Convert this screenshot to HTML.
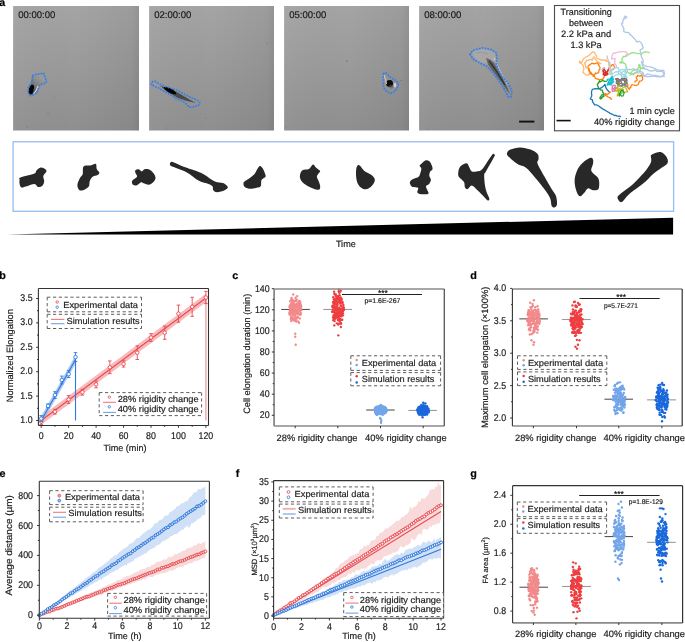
<!DOCTYPE html><html><head><meta charset="utf-8"><style>html,body{margin:0;padding:0;background:#fff;overflow:hidden}svg{display:block;will-change:transform}text{font-family:"Liberation Sans", sans-serif;stroke:currentColor;stroke-width:0.18px;text-rendering:geometricPrecision}</style></head><body>
<svg width="685" height="642" viewBox="0 0 685 642" font-family='"Liberation Sans", sans-serif'>
<rect width="685" height="642" fill="#fff"/>
<defs>
<linearGradient id="gv" x1="0" y1="0" x2="0" y2="1"><stop offset="0" stop-color="#a4a4a4"/><stop offset="0.5" stop-color="#9a9a9a"/><stop offset="1" stop-color="#8f8f8f"/></linearGradient>
<linearGradient id="gh" x1="0" y1="0" x2="1" y2="0"><stop offset="0" stop-color="#fff" stop-opacity="0.18"/><stop offset="0.012" stop-color="#fff" stop-opacity="0.03"/><stop offset="0.5" stop-color="#000" stop-opacity="0"/><stop offset="0.94" stop-color="#000" stop-opacity="0.05"/><stop offset="1" stop-color="#000" stop-opacity="0.1"/></linearGradient>
<radialGradient id="cellD" cx="0.5" cy="0.5" r="0.5"><stop offset="0" stop-color="#000"/><stop offset="0.7" stop-color="#111"/><stop offset="1" stop-color="#555" stop-opacity="0"/></radialGradient>
<filter id="bl1"><feGaussianBlur stdDeviation="0.6"/></filter>
<filter id="bl2"><feGaussianBlur stdDeviation="1.0"/></filter>
</defs>
<rect x="13" y="6" width="126" height="124.5" fill="url(#gv)"/>
<rect x="13" y="6" width="126" height="124.5" fill="url(#gh)"/>
<text x="18.2" y="17.6" font-size="9.6" text-anchor="start" font-weight="normal" fill="#1a1a1a" color="#1a1a1a" textLength="37.2" lengthAdjust="spacingAndGlyphs">00:00:00</text>
<rect x="149" y="6" width="125" height="124.5" fill="url(#gv)"/>
<rect x="149" y="6" width="125" height="124.5" fill="url(#gh)"/>
<text x="154.2" y="17.6" font-size="9.6" text-anchor="start" font-weight="normal" fill="#1a1a1a" color="#1a1a1a" textLength="37.2" lengthAdjust="spacingAndGlyphs">02:00:00</text>
<rect x="284" y="6" width="125" height="124.5" fill="url(#gv)"/>
<rect x="284" y="6" width="125" height="124.5" fill="url(#gh)"/>
<text x="289.2" y="17.6" font-size="9.6" text-anchor="start" font-weight="normal" fill="#1a1a1a" color="#1a1a1a" textLength="37.2" lengthAdjust="spacingAndGlyphs">05:00:00</text>
<rect x="419" y="6" width="125" height="124.5" fill="url(#gv)"/>
<rect x="419" y="6" width="125" height="124.5" fill="url(#gh)"/>
<text x="424.2" y="17.6" font-size="9.6" text-anchor="start" font-weight="normal" fill="#1a1a1a" color="#1a1a1a" textLength="37.2" lengthAdjust="spacingAndGlyphs">08:00:00</text>
<circle cx="48" cy="114" r="0.6" fill="#555" opacity="0.7"/>
<circle cx="27" cy="127" r="0.5" fill="#555" opacity="0.7"/>
<circle cx="54" cy="97" r="0.4" fill="#555" opacity="0.7"/>
<circle cx="206" cy="118" r="0.5" fill="#555" opacity="0.7"/>
<circle cx="166" cy="128" r="0.5" fill="#555" opacity="0.7"/>
<circle cx="347" cy="61" r="0.7" fill="#555" opacity="0.7"/>
<circle cx="401" cy="80.6" r="0.5" fill="#555" opacity="0.7"/>
<circle cx="286" cy="127" r="0.4" fill="#555" opacity="0.7"/>
<circle cx="480" cy="13" r="0.4" fill="#555" opacity="0.7"/>
<circle cx="540" cy="80" r="0.5" fill="#555" opacity="0.7"/>
<circle cx="428" cy="128" r="0.4" fill="#555" opacity="0.7"/>
<circle cx="267" cy="43" r="0.5" fill="#555" opacity="0.7"/>
<g filter="url(#bl1)">
<linearGradient id="c1g" gradientUnits="userSpaceOnUse" x1="30" y1="92" x2="44" y2="76"><stop offset="0" stop-color="#222" stop-opacity="0.9"/><stop offset="0.45" stop-color="#666" stop-opacity="0.5"/><stop offset="1" stop-color="#aaa" stop-opacity="0.2"/></linearGradient>
<path d="M33,76.5 C34.92,74.92 40,73.92 42,74.5 C44,75.08 45,78.5 45,80 C45,81.5 43.08,82.5 42,83.5 C40.92,84.5 39.42,84.58 38.5,86 C37.58,87.42 37.75,90.58 36.5,92 C35.25,93.42 32.25,94.83 31,94.5 C29.75,94.17 29.08,91.75 29,90 C28.92,88.25 29.83,86.25 30.5,84 C31.17,81.75 31.08,78.08 33,76.5Z" fill="url(#c1g)"/>
<ellipse cx="31.2" cy="89.6" rx="2.4" ry="5" transform="rotate(18 31.2 89.6)" fill="#050505"/>
<path d="M33.5,94 Q36.5,91 38,86" stroke="#eee" stroke-width="1.2" fill="none" opacity="0.8"/>
<path d="M160,86 Q170,88 182,95 Q190,100 196,103 Q186,101 178,98 Q168,93 160,86Z" fill="#333" opacity="0.75"/>
<ellipse cx="170" cy="90.5" rx="7" ry="2.2" transform="rotate(28 170 90.5)" fill="#050505"/>
<circle cx="389.6" cy="83.4" r="3.4" fill="#0a0a0a"/>
<ellipse cx="391" cy="86.5" rx="2.5" ry="2" fill="#555" opacity="0.5"/>
<ellipse cx="395" cy="85.2" rx="1.2" ry="2.4" fill="#e8e8e8" opacity="0.75"/>
<path d="M384,75 Q386,80 386.5,84" stroke="#d0d0d0" stroke-width="1" fill="none"/>
<path d="M472,52 C472.67,49.92 478.83,48.83 482,48.5 C485.17,48.17 488.75,49.08 491,50 C493.25,50.92 494.83,52.33 495.5,54 C496.17,55.67 495.92,58.33 495,60 C494.08,61.67 491.83,63.5 490,64 C488.17,64.5 486,63.5 484,63 C482,62.5 480,62.83 478,61 C476,59.17 471.33,54.08 472,52Z" fill="#b0b0b0" opacity="0.55"/>
<path d="M486,58 Q491,59 494,63 Q499,72 503,79 Q507,86 510,94 Q506,90 502,83 Q496,75 491,69 Q487,64 486,58Z" fill="#3a3a3a" opacity="0.6"/>
<path d="M489,61 Q493,66 497,72 Q501,79 505,85" stroke="#111" stroke-width="1.3" fill="none" opacity="0.6"/>
<path d="M494,58 Q497,64 500,71 Q504,78 508,85" stroke="#e6e6e6" stroke-width="0.9" fill="none" opacity="0.75"/>
<path d="M476,53 Q482,51 488,54" stroke="#888" stroke-width="0.8" fill="none" opacity="0.6"/>
</g>
<path d="M32.9,75.2 L35.6,74.4 L40.6,73.9 L43.4,72.9 L44.5,75.2 L44.9,77.9 L46.5,80.2 L46.1,82.6 L43.4,83.8 L40.6,84.5 L39.1,86.5 L38.3,89.2 L37.5,91.5 L36,93.5 L33.6,94.7 L30.5,95.7 L28.6,93.5 L28.2,89.6 L28.6,86.9 L30.1,84.9 L31.7,83 L32.1,80.6 L32.5,77.9Z" fill="none" stroke="#3b7fe3" stroke-width="2.0" stroke-dasharray="0.1 2.8" stroke-linecap="round" stroke-linejoin="round"/>
<path d="M151.5,84.4 L152.4,81.8 L155.4,81.4 L159.4,84 L165.5,86.6 L172.5,88.8 L178.6,91 L184.8,94.5 L191.8,98 L197,99.8 L199.7,102.4 L198.8,105 L194.4,106.8 L189.2,107.2 L186.5,104.1 L183,101.1 L176.9,98.9 L170.8,95 L165.5,91.9 L159.4,88.4 L154.1,86.2Z" fill="none" stroke="#3b7fe3" stroke-width="2.0" stroke-dasharray="0.1 2.8" stroke-linecap="round" stroke-linejoin="round"/>
<path d="M383.7,73.4 L385.6,72.5 L387.8,74.6 L389.3,76.5 L391.5,78.1 L393.7,79.3 L396.2,80.6 L398,82.7 L398.3,85.2 L397.4,87.7 L395.5,89.9 L393.7,91.8 L391.5,93.3 L388.7,92.4 L386.5,91.2 L384.6,89.3 L383.7,86.8 L383.1,84.3 L383.1,81.5 L383.1,78.7 L383.1,76.2Z" fill="none" stroke="#3b7fe3" stroke-width="2.0" stroke-dasharray="0.1 2.8" stroke-linecap="round" stroke-linejoin="round"/>
<path d="M470.1,54.2 L472.8,50.5 L482.3,47.9 L490.7,49.4 L496,52.6 L497,57.8 L496,63.1 L499.1,71.5 L503.3,77.8 L508.6,84.1 L511.7,90.4 L511.3,96.7 L508.6,97.1 L504.4,89.4 L499.1,81 L492.8,72.5 L486.5,66.2 L478.1,62 L472.8,58.9Z" fill="none" stroke="#3b7fe3" stroke-width="2.0" stroke-dasharray="0.1 2.8" stroke-linecap="round" stroke-linejoin="round"/>
<line x1="519.1" y1="121.6" x2="534.4" y2="121.6" stroke="#111" stroke-width="1.9"/>
<rect x="554.5" y="5.5" width="125" height="125.3" fill="#fff" stroke="#4a4a4a" stroke-width="1.1"/>
<line x1="556.5" y1="120.6" x2="570.7" y2="120.6" stroke="#111" stroke-width="1.6"/>
<text x="586.1" y="15.2" font-size="9.2" text-anchor="middle" font-weight="normal" fill="#1a1a1a" color="#1a1a1a" textLength="51.1" lengthAdjust="spacingAndGlyphs">Transitioning</text>
<text x="586.1" y="26" font-size="9.2" text-anchor="middle" font-weight="normal" fill="#1a1a1a" color="#1a1a1a" textLength="34.2" lengthAdjust="spacingAndGlyphs">between</text>
<text x="586.1" y="37.4" font-size="9.2" text-anchor="middle" font-weight="normal" fill="#1a1a1a" color="#1a1a1a" textLength="50.1" lengthAdjust="spacingAndGlyphs">2.2 kPa and</text>
<text x="586.1" y="47.9" font-size="9.2" text-anchor="middle" font-weight="normal" fill="#1a1a1a" color="#1a1a1a" textLength="31.2" lengthAdjust="spacingAndGlyphs">1.3 kPa</text>
<text x="674.9" y="114.1" font-size="9.2" text-anchor="end" font-weight="normal" fill="#1a1a1a" color="#1a1a1a" textLength="45.4" lengthAdjust="spacingAndGlyphs">1 min cycle</text>
<text x="674.9" y="124.8" font-size="9.2" text-anchor="end" font-weight="normal" fill="#1a1a1a" color="#1a1a1a" textLength="81" lengthAdjust="spacingAndGlyphs">40% rigidity change</text>
<path d="M630,75.13 L632.71,73.7 L635.46,72.75 L638.53,72.9 L639.85,72.79 L641.85,73.99 L643.25,74.18 L644.22,75.71 L644.66,75.99 L645.44,76.42 L647.57,76.63 L649.93,76.59 L652.67,76.12 L654.03,76.22 L657.71,76.78 L659.61,76.79 L661.16,76.37 L663.38,76.1 L664.19,76.6 L663.7,74.85 L663.78,73.63 L662.95,72.33 L662.01,71.07 L659.69,71.29 L656.91,71.6 L655.48,70.16 L653.1,70.96 L650.92,71.01 L648.9,70.5 L647.51,69.4 L644.89,68.99 L644.06,67.63 L642.94,67.05 L642.8,66.62 L642.07,64.18 L643.22,62.07 L642.99,61.36 L643.27,60.14 L642.05,58.1 L641.59,57.39 L640.97,54.5 L640.79,52.51 L640.01,50 L641.13,49.27 L642.69,48.73 L643.19,47.7 L642.55,46.31 L642.2,44.53 L641.12,42.86 L639.37,41.28 L638.43,41.3 L637.07,42.21 L635.06,39.35 L633.96,38.29 L632.22,36.41 L631.58,35.7 L629.77,34.4 L629.22,32.93 L627.48,32.48 L625.97,32.42 L623.74,31.53 L623.91,29.33 L623.72,28.83 L623.54,27.48 L622.68,26.41 L622.05,25.38 L621.46,23.31 L622.73,23.08 L622.9,20.74 L623.63,18.86 L625.26,18.56 L625.81,17.94 L626.62,17.23 L626.93,17.2 L626.27,16.74 L624.99,16.05 L624.61,16.8 L624.26,17.27 L624,18" fill="none" stroke="#aec7e8" stroke-width="1.3" stroke-linejoin="round" stroke-linecap="round" opacity="1"/>
<path d="M607.02,61.42 L607.91,61.18 L605.94,61.37 L606.54,60.16 L603.56,59.95 L600.6,60.01 L599.29,59.05 L597.99,58.93 L597.16,58.32 L595.94,57.48 L596.7,56.27 L595.71,54.95 L594.87,53.16 L594.79,52.64 L593.77,52.18 L593.81,51.88 L592.33,52.19 L590.35,53.89 L590.44,54.28 L588.98,55.36 L587.88,56.05 L585.99,56.97 L583.72,58.51 L582.72,60.39 L581.55,62.56 L579.72,61.29 L580.39,61.94 L579.67,63.18 L579.47,62.01 L581.05,63.4 L581.42,63.71 L582.05,64.18 L583.33,65.7 L583.52,67.68 L584,69.5 L583.23,70.84 L582.91,72.59 L584.76,73.58 L586.08,75.08 L588.16,75.14 L588.53,75.17 L589.01,73.87 L589.72,74.34 L589.6,72.45 L589.18,71.43 L589.01,68.2 L587.74,67.69 L585.52,67.79 L586.88,67.45 L585.01,65.4 L585.53,64.39 L584.37,62.73 L585.3,62.23 L586.49,61 L586.63,60.21 L588.05,60.5 L589.01,59.88 L590.88,59.29 L592.68,60.06 L592.53,59.09 L593.88,56.78 L595.06,59.3 L596.23,60.04 L597.3,61.73 L599.27,62.61 L599.92,63.83 L600.89,63.5 L599.33,64.16 L599.78,63.53 L598.36,62.76" fill="none" stroke="#ffbb78" stroke-width="1.3" stroke-linejoin="round" stroke-linecap="round" opacity="1"/>
<path d="M649.19,52.66 L647.77,52.2 L646.35,52.02 L645.79,51.9 L643.61,52.23 L641.82,53.88 L640.72,54.05 L638.82,53.26 L637.37,53.75 L635.68,52.99 L634.51,52.97 L632.71,52.68 L631.76,52.97 L630.24,53.63 L629.6,54.05 L627.19,55.03 L626.18,55.02 L625.12,56.69 L623.59,56.27 L622.65,57.88 L621.95,58.72 L622.33,60.2 L621.32,61.95 L620.06,62.34 L619.8,62.82 L620.03,62.2 L621.53,63.18 L623.14,62.05 L623.35,62.85 L624.74,63.59 L625.65,64.42 L625.75,65.53 L626.27,66.76 L626.7,68.79 L627.36,69.62 L627.07,71.31 L627.59,72.15 L629.95,73.62 L630.8,73.27 L631.95,74.31 L633.6,74.86 L634.68,73.02 L635.37,72.69 L637.02,71.63 L638.38,71 L640.02,71.27 L640.32,69.41 L640.41,68.3 L640.36,66.97 L639.68,65.59 L640.21,65.16 L639.67,64.7 L638.57,64.92 L639.03,66.33 L638.49,67.51 L639.98,67.24 L640.76,68.67 L642.57,68.21 L643.23,68.9 L643.54,68.2 L643.2,67.59 L642.77,67.97 L640.84,67.78 L638.71,67.37 L636.62,69.37 L634.41,70.34 L633.17,70.42 L631.9,71.59 L631.15,72.5 L630.23,73.64" fill="none" stroke="#98df8a" stroke-width="1.3" stroke-linejoin="round" stroke-linecap="round" opacity="1"/>
<path d="M616.82,66.98 L616.12,65.34 L615.88,64.96 L614.67,63.37 L614.71,61.42 L615,60.04 L614.95,58.38 L613.57,58.6 L612.18,58.93 L611.48,58.93 L611.83,56.7 L612.12,55.6 L612.86,53.66 L613.71,53.02 L615.23,52.96 L615.49,53.06 L618.21,52.01 L618.9,51.85 L620.44,51.83 L622.12,51.55 L624.24,51.69 L625.73,51.76 L625.7,52.04 L627.55,53.27 L627.53,54.01 L627.18,54.82 L627.57,55.16 L626.5,56.36" fill="none" stroke="#f7b6d2" stroke-width="1.3" stroke-linejoin="round" stroke-linecap="round" opacity="1"/>
<path d="M628.68,69.5 L630.63,69.74 L633.37,68.59 L634.82,69.76 L638.27,69.71 L640.26,71.35 L642.8,72.28 L643.2,73.51 L643.86,76.07 L646.45,74.89 L647.64,73.82 L651.57,75.03 L655.43,75.48 L657.82,75.95 L661.06,76.96 L663.69,74.99 L664.51,73.62 L664.1,71.95 L663.86,70.42 L660.85,70.33 L657.44,69.83 L653.77,68.13 L650.7,66.88 L648.55,66.63 L645.58,66.2 L643.72,64.99 L642.27,63.47 L641.95,62.96 L641.45,61.5" fill="none" stroke="#aec7e8" stroke-width="1.3" stroke-linejoin="round" stroke-linecap="round" opacity="1"/>
<path d="M588.01,66.3 L589.16,65.12 L590.45,64.38 L591.86,63.15 L593.8,63.76 L595.5,63.49 L597.68,62.94 L598.57,65.05 L599.43,66.36 L599.94,67.31 L599.9,69.18 L599.08,69.86 L598.61,72.63 L597.88,72.83 L595.79,73.77 L595.49,72.83 L595.11,73.92 L593.73,74.93 L594.26,75.67 L593.19,76.32 L593.16,75.17 L591.71,74.34 L590.58,73.85 L590.13,72.46 L589.47,70.82 L588.68,70.56 L588.66,69.78 L588.26,68.23 L589.18,69.16 L589.22,71.12 L590.86,72.24 L591.99,74.12 L594.36,76.08 L595.48,78.49 L598.46,79.44 L599.34,79.88 L601.51,79.27 L601.74,79.82 L602.72,79.41 L603.55,77.85 L604.11,76.82 L604.66,75.2 L606.25,74.85 L606.7,72.08 L607.8,70.84 L608.63,69.03 L608.83,67.66 L609.8,67.47 L610.98,65.82 L611.04,66.02 L612.09,64.56 L613.79,64.85 L613.85,65.66 L614.4,67.01 L614.75,67.95 L612.62,69.39 L611.44,70.54 L610.51,71.17" fill="none" stroke="#ff7f0e" stroke-width="1.3" stroke-linejoin="round" stroke-linecap="round" opacity="1"/>
<path d="M626.6,82.62 L626.99,83.78 L627.8,84.61 L627.72,87.21 L629.26,89.4 L629.32,88.22 L630.85,87.61 L630.78,86.31 L632.28,84.53 L632.85,84.75 L635.17,85.49 L636.25,85.41 L637.96,84.73 L638.84,82.87 L639.43,81.18 L641.43,80.88 L642.09,80.05 L642.76,79.07 L642.68,76.97 L642.23,77.23 L641.83,75 L639.86,76.1 L637.62,75.37 L637.26,76.65 L636.11,77.18 L637.08,79.47 L637,80.46 L635.03,81.38 L634.91,82.06" fill="none" stroke="#ff7f0e" stroke-width="1.3" stroke-linejoin="round" stroke-linecap="round" opacity="1"/>
<path d="M610.46,91.86 L609.32,93.03 L607.2,94.64 L606.09,93.97 L604.73,93.5 L605.62,95.37 L607.79,96.74 L610.17,97.81 L611.45,99.21" fill="none" stroke="#ff7f0e" stroke-width="1.3" stroke-linejoin="round" stroke-linecap="round" opacity="1"/>
<path d="M606.99,55.86 L607.46,58.35 L608.21,60.09 L608.55,62.15 L608.76,64.58 L609.45,66.93 L610.3,69.05 L608.91,71.16 L609.38,73.83 L611.04,74.25 L612.11,75.48 L611.43,71.14 L610.4,67.47 L609.87,64.59 L609.58,61.82" fill="none" stroke="#c7c7c7" stroke-width="1.3" stroke-linejoin="round" stroke-linecap="round" opacity="1"/>
<path d="M618,72 L619.21,70.81 L620.37,72.05 L621.59,73.24 L622.99,74.2 L623.94,75.61 L624.11,77.3 L625.42,78.39 L626.87,78.72 L626.24,78.89 L624.55,78.73 L622.87,78.42 L622.37,76.8 L621.17,75.59 L620.05,74.31 L618.55,73.52 L618.48,71.82 L616.8,71.54 L615.18,72.05 L613.86,73.12 L612.19,73.47 L610.53,73.11 L611.1,71.54 L611.02,70.26 L612.63,69.72 L614.1,68.86 L615.02,67.43 L616.41,67.56 L618.11,67.51 L618.26,68.18 L618.85,69.78 L620.52,70.07 L622.15,69.59 L623.85,69.56 L625.52,69.89 L625.96,71.53 L626.63,73.09 L626.48,73.25 L625.1,74.24 L624.59,75.87 L625.47,77.32 L625.88,78.97 L626.97,77.73 L625.89,76.42 L625.55,74.75 L625.08,73.12 L625.03,71.42 L625.11,69.72 L625.91,68.22 L626.74,67.27 L626.16,68.86 L625.13,70.22 L623.77,71.24 L622.18,71.84 L621.86,73.51 L621.73,75.2 L621.91,76.89 L621.84,78.59 L623.19,78.37 L624.69,78.84 L626.25,78.16 L626.77,76.54 L625.45,75.47 L623.95,74.67 L622.4,73.97 L620.71,74.1 L619.01,74.12 L617.49,74.87 L615.79,75 L614.37,75.93 L612.98,76.91 L611.28,76.78" fill="none" stroke="#9edae5" stroke-width="1.25" stroke-linejoin="round" stroke-linecap="round" opacity="1"/>
<path d="M603.5,70 L602.2,70.03 L603.82,69.51 L604.88,68.19 L604.52,67.61 L602.99,68.36 L602.2,69.57 L603.41,70.76 L605.1,70.91 L604.47,69.98 L602.83,69.57 L602.25,71.16 L603.29,72.5 L604.68,73.49" fill="none" stroke="#c5b0d5" stroke-width="1.25" stroke-linejoin="round" stroke-linecap="round" opacity="1"/>
<path d="M605.5,72 L607.18,72.23 L607.95,70.71 L608.18,69.57 L607.49,71.13 L606.27,72.3 L605.1,73.54 L604.88,75.23 L603.96,74.94 L603.45,74 L603.72,72.32 L603.06,70.75 L604.03,69.36 L605.21,70.46 L605.14,72.16 L605.62,73.79 L605.01,75.38 L605.11,74.52 L605.01,72.83 L606.7,73.02 L608.05,74.05 L607.52,74.55 L605.93,75.15 L604.24,75.38 L603.04,74.26" fill="none" stroke="#d62728" stroke-width="1.25" stroke-linejoin="round" stroke-linecap="round" opacity="1"/>
<path d="M610,80 L610.86,78.53 L611.41,76.92 L611.98,78.28 L612.43,79.92 L611.39,81.27 L610.08,82.35 L608.39,82.56 L607.33,83.89 L607.9,84.37 L607.59,84.36 L608.18,82.77 L609.05,81.3 L610.07,79.94 L611.68,80.48 L613.29,79.94 L613.75,79.27 L612.48,78.14 L611.94,77.07 L611.91,78.77 L611.51,80.43 L611.45,82.13 L611.24,83.81 L611.19,84.89 L609.94,83.74 L608.67,82.61 L608.28,80.95 L606.94,79.91 L608.15,79.1 L609.85,79.05 L611.06,77.85 L612.42,76.82 L612.72,78.45 L611.73,79.84 L610.4,78.79 L611.23,77.3 L611.82,77.89 L611.54,79.57 L611.13,81.22 L610.6,82.83 L608.92,83.12 L608.14,84.63 L607.06,85.19 L608.63,84.54 L610.04,84.9 L611.55,84.14 L612.56,82.76 L613.81,81.61 L613.13,81.23 L611.49,80.8" fill="none" stroke="#17becf" stroke-width="1.25" stroke-linejoin="round" stroke-linecap="round" opacity="1"/>
<path d="M620,80 L621.65,80.41 L622.18,78.79 L623.56,79.4 L624.32,80.92 L624.91,82.48 L625.58,80.92 L627.11,80.19 L626.26,79.02 L624.62,78.63 L623.05,79.29 L621.51,78.62 L621.23,80.3 L619.8,81.21 L618.9,82.34 L617.25,81.93 L616.52,80.39 L615.69,78.91 L616.39,78.65 L617.95,79.21 L618.79,80.69 L618.26,82.3 L618.23,81" fill="none" stroke="#8c564b" stroke-width="1.25" stroke-linejoin="round" stroke-linecap="round" opacity="1"/>
<path d="M621,82 L622.11,83.29 L623.67,83.96 L625.02,84.99 L626.39,86 L626.76,86.43 L625.36,86.01 L624.01,84.98 L622.67,83.92 L621.04,83.46 L619.34,83.5 L618.1,82.34 L617.05,81 L616.97,79.3 L618.18,78.49 L618.82,80.06 L617.23,80.67 L616.23,82.04 L617.35,82.67 L619.03,82.92 L619.23,84.61 L617.74,85.43 L618.24,86.35 L617.6,84.77 L617.75,83.08 L618.76,81.71 L620.31,81.02 L621.83,80.25 L623.51,79.99 L625.13,80.51 L626.77,80.93 L627.07,82.34 L626.32,83.28 L624.63,83.53 L623.54,84.82 L621.87,85.16 L620.28,85.75 L619.33,86.24 L618.78,84.63 L617.38,83.66 L616.32,83.72 L617.15,82.24 L617.95,80.74 L619.21,79.6 L620.91,79.58 L622.6,79.38 L623.99,80.36 L625.36,81.37 L626.8,82.28 L627.04,83.68 L625.38,84.06 L623.86,84.82 L622.49,85.83 L621.25,86.42 L620.07,85.19 L618.4,84.89 L617.33,83.57 L616.05,82.58 L617.68,82.1 L618.78,80.8 L620.17,79.81 L621.77,79.24 L623.13,78.37 L622.34,79.88 L621.19,81.13 L619.64,80.45 L618.85,78.94" fill="none" stroke="#7f7f7f" stroke-width="1.25" stroke-linejoin="round" stroke-linecap="round" opacity="1"/>
<path d="M620,88 L619.82,89.69 L619.14,91.25 L618.4,92.78 L617.6,94.28 L617.12,95.91 L618.53,95.14 L619.77,93.98 L618.63,92.72 L617.86,91.2 L616.45,90.26 L614.76,90.11 L615.54,90.21 L617.19,90.64 L618.43,89.49 L617.77,87.92 L616.22,87.22 L615.31,88.66 L615.5,90.35 L614.53,91.26 L616.21,90.97 L617.84,91.45 L619.17,90.39 L620.69,89.63 L622,88.54 L623.26,87.41 L624.87,86.85 L625.93,88.18 L626.8,89.64 L627.54,91.17 L627.72,91.89 L626.02,91.94 L624.35,92.28 L622.77,91.65 L621.18,91.07 L621.17,89.37 L619.5,89.06 L617.8,89.11 L616.39,88.17 L614.79,87.59 L615.48,87.95 L617.18,87.99 L618.18,86.61 L619.29,85.33 L620.41,86.6" fill="none" stroke="#bcbd22" stroke-width="1.25" stroke-linejoin="round" stroke-linecap="round" opacity="1"/>
<path d="M613,87 L612.04,88.41 L612.07,90.11 L612.57,91.67 L614,90.75 L614.7,89.2 L614.6,87.51 L615.5,86.07 L615.13,85.4 L613.45,85.16 L612.09,86.17 L612.35,87.85 L613.37,89.21 L614.74,88.21 L615.77,88.02 L614.17,88.57 L612.47,88.57" fill="none" stroke="#e377c2" stroke-width="1.25" stroke-linejoin="round" stroke-linecap="round" opacity="1"/>
<path d="M622,93 L620.3,93.01 L619.13,94.25 L620.53,94.6 L621.43,96.04 L622.92,95.95 L623.6,94.39 L624.15,92.78 L622.95,91.58 L623.35,89.93 L621.67,90.08 L620.62,91.42 L619.83,92.93 L619.3,94.54 L619.42,96.08 L619.84,95.07 L620,93.38" fill="none" stroke="#2ca02c" stroke-width="1.25" stroke-linejoin="round" stroke-linecap="round" opacity="1"/>
<path d="M606.41,81.31 L604.91,81.4 L604.04,81.25 L602.58,80.19 L601.88,81 L599.58,82.16 L599.52,80.72 L598.2,83.64 L598.13,83.43 L597.33,83.98 L597.64,85.53 L598.43,87.17 L598.14,88.32 L599.59,88.79 L600.77,90.07 L602.29,90.11 L602.59,91.14 L602.66,92.2 L603.42,93.06 L603.08,94.55 L601.42,95.22 L600.83,96.48 L600.5,97.91 L600.15,97.13 L599.87,98.2 L600.84,99.11 L601.8,97.29 L601.72,98.23 L602.89,96.4 L603.88,96.69 L603.97,94.53" fill="none" stroke="#2ca02c" stroke-width="1.3" stroke-linejoin="round" stroke-linecap="round" opacity="1"/>
<path d="M609.05,91.75 L607.42,90.07 L605.79,87.63 L605.47,85.82 L604.88,84.33 L603.87,85.85 L601.16,87.94 L598.55,88.82 L595.43,88.61 L593.13,89.08 L591.99,89.92 L591.44,92.57 L591.81,95.68 L591.14,97.26 L590.26,98.8 L592.42,99.83 L592.68,102.08 L593.57,103.12 L594.58,104.8 L596.42,104.79 L598.25,105.8 L602.26,108.63 L606.82,111.31 L610.28,113.37 L614.71,115.5 L616.14,115.4 L616.94,116.09 L618.27,116.22 L620.5,116.5" fill="none" stroke="#1f77b4" stroke-width="1.3" stroke-linejoin="round" stroke-linecap="round" opacity="1"/>
<rect x="13.1" y="141.8" width="660.5" height="69.5" fill="none" stroke="#96bdf2" stroke-width="1.3"/>
<path d="M19.6,179.5 C19.75,178.42 18.02,178.42 20.5,177.4 C22.98,176.38 31.87,174.5 34.5,173.4 C37.13,172.3 35.27,171.77 36.3,170.8 C37.33,169.83 39.25,167.9 40.7,167.6 C42.15,167.3 44.05,168.33 45,169 C45.95,169.67 46.68,170.43 46.4,171.6 C46.12,172.77 43.67,174.38 43.3,176 C42.93,177.62 44.35,179.68 44.2,181.3 C44.05,182.92 43.43,184.77 42.4,185.7 C41.37,186.63 39.32,187.2 38,186.9 C36.68,186.6 36.53,183.97 34.5,183.9 C32.47,183.83 27.98,185.92 25.8,186.5 C23.62,187.08 22.43,187.83 21.4,187.4 C20.37,186.97 19.9,185.22 19.6,183.9 C19.3,182.58 19.45,180.58 19.6,179.5Z" fill="#282828"/>
<path d="M83.6,166.4 C84.92,164.93 88.57,165.93 90.6,165.5 C92.63,165.07 94.78,163.22 95.8,163.8 C96.82,164.38 96.12,167.55 96.7,169 C97.28,170.45 99.15,171.48 99.3,172.5 C99.45,173.52 98.77,174.37 97.6,175.1 C96.43,175.83 93.62,175.87 92.3,176.9 C90.98,177.93 90.28,179.7 89.7,181.3 C89.12,182.9 89.82,185.05 88.8,186.5 C87.78,187.95 85.2,189.42 83.6,190 C82,190.58 80.23,190.87 79.2,190 C78.17,189.13 77.25,186.83 77.4,184.8 C77.55,182.77 79.22,179.55 80.1,177.8 C80.98,176.05 82.12,176.2 82.7,174.3 C83.28,172.4 82.28,167.87 83.6,166.4Z" fill="#282828"/>
<path d="M135.4,170.3 C135.97,169.72 137.73,169.02 138.8,169.2 C139.87,169.38 140.85,171.38 141.8,171.4 C142.75,171.42 143.28,169.6 144.5,169.3 C145.72,169 147.67,169.03 149.1,169.6 C150.53,170.17 152.03,171.38 153.1,172.7 C154.17,174.02 155.37,176.03 155.5,177.5 C155.63,178.97 154.97,180.3 153.9,181.5 C152.83,182.7 150.7,184.35 149.1,184.7 C147.5,185.05 145.63,184 144.3,183.6 C142.97,183.2 142.32,182.03 141.1,182.3 C139.88,182.57 138.35,184.8 137,185.2 C135.65,185.6 133.8,185.45 133,184.7 C132.2,183.95 131.53,182.03 132.2,180.7 C132.87,179.37 136.47,178.03 137,176.7 C137.53,175.37 135.67,173.77 135.4,172.7 C135.13,171.63 134.83,170.88 135.4,170.3Z" fill="#282828"/>
<path d="M170.8,162.2 C171.33,161.93 170.93,161.4 173.2,162.2 C175.47,163 180.12,165.38 184.4,167 C188.68,168.62 195.68,170.68 198.9,171.9 C202.12,173.12 201.03,172.7 203.7,174.3 C206.37,175.9 211.68,180.03 214.9,181.5 C218.12,182.97 220.85,182.17 223,183.1 C225.15,184.03 227.53,185.9 227.8,187.1 C228.07,188.3 226.35,189.43 224.6,190.3 C222.85,191.17 219.18,192.3 217.3,192.3 C215.42,192.3 214.1,191.3 213.3,190.3 C212.5,189.3 213.3,187.37 212.5,186.3 C211.7,185.23 210.77,184.83 208.5,183.9 C206.23,182.97 202.65,182.7 198.9,180.7 C195.15,178.7 190.55,174.32 186,171.9 C181.45,169.48 174.27,167.55 171.6,166.2 C168.93,164.85 170.13,164.47 170,163.8 C169.87,163.13 170.27,162.47 170.8,162.2Z" fill="#282828"/>
<path d="M259.9,165.9 C260.7,165.75 261.5,166.67 262.3,167.8 C263.1,168.93 264.17,171.22 264.7,172.7 C265.23,174.18 266.03,175.5 265.5,176.7 C264.97,177.9 262.3,178.3 261.5,179.9 C260.7,181.5 261.63,184.97 260.7,186.3 C259.77,187.63 257.77,187.5 255.9,187.9 C254.03,188.3 251.38,188.88 249.5,188.7 C247.62,188.52 245.55,187.87 244.6,186.8 C243.65,185.73 242.98,183.72 243.8,182.3 C244.62,180.88 247.75,179.63 249.5,178.3 C251.25,176.97 252.97,175.9 254.3,174.3 C255.63,172.7 256.57,170.1 257.5,168.7 C258.43,167.3 259.1,166.05 259.9,165.9Z" fill="#282828"/>
<path d="M302.4,170.3 C303.88,169.3 307.15,170.05 308.9,169.1 C310.65,168.15 311.7,164.82 312.9,164.6 C314.1,164.38 314.9,166.72 316.1,167.8 C317.3,168.88 319.7,170.15 320.1,171.1 C320.5,172.05 319.03,172.57 318.5,173.5 C317.97,174.43 316.9,175.5 316.9,176.7 C316.9,177.9 317.97,179.23 318.5,180.7 C319.03,182.17 319.97,184.03 320.1,185.5 C320.23,186.97 320.37,188.97 319.3,189.5 C318.23,190.03 315.97,189.5 313.7,188.7 C311.43,187.9 307.85,186.17 305.7,184.7 C303.55,183.23 301.75,181.5 300.8,179.9 C299.85,178.3 299.73,176.7 300,175.1 C300.27,173.5 300.92,171.3 302.4,170.3Z" fill="#282828"/>
<path d="M357.8,165.3 C358.48,164.77 359.22,165.17 360.3,166.1 C361.38,167.03 362.43,169.43 364.3,170.9 C366.17,172.37 369.77,173.57 371.5,174.9 C373.23,176.23 374.3,177.57 374.7,178.9 C375.1,180.23 374.57,181.57 373.9,182.9 C373.23,184.23 372.03,185.83 370.7,186.9 C369.37,187.97 367.5,189.17 365.9,189.3 C364.3,189.43 362.45,188.63 361.1,187.7 C359.75,186.77 358.62,185.43 357.8,183.7 C356.98,181.97 356.47,179.7 356.2,177.3 C355.93,174.9 355.93,171.3 356.2,169.3 C356.47,167.3 357.12,165.83 357.8,165.3Z" fill="#282828"/>
<path d="M420.5,164.5 C421.43,163.55 423.83,160.95 425.3,160.4 C426.77,159.85 428.23,160.38 429.3,161.2 C430.37,162.02 431.17,163.95 431.7,165.3 C432.23,166.65 432.77,168.23 432.5,169.3 C432.23,170.37 430.63,170.63 430.1,171.7 C429.57,172.77 429.17,174.37 429.3,175.7 C429.43,177.03 430.9,178.37 430.9,179.7 C430.9,181.03 430.1,182.63 429.3,183.7 C428.5,184.77 426.5,185.17 426.1,186.1 C425.7,187.03 426.5,188.08 426.9,189.3 C427.3,190.52 428.9,192.58 428.5,193.4 C428.1,194.22 426.1,194.15 424.5,194.2 C422.9,194.25 420.1,194.1 418.9,193.7 C417.7,193.3 417.43,192.8 417.3,191.8 C417.17,190.8 418.92,188.52 418.1,187.7 C417.28,186.88 413.75,187.57 412.4,186.9 C411.05,186.23 410.27,184.77 410,183.7 C409.73,182.63 409.85,181.43 410.8,180.5 C411.75,179.57 414.35,178.77 415.7,178.1 C417.05,177.43 418.1,177.43 418.9,176.5 C419.7,175.57 420.1,173.83 420.5,172.5 C420.9,171.17 421.43,169.57 421.3,168.5 C421.17,167.43 419.83,166.77 419.7,166.1 C419.57,165.43 419.57,165.45 420.5,164.5Z" fill="#282828"/>
<path d="M460.5,166.3 C461.87,164.93 465.13,163.15 466.6,163.3 C468.07,163.45 468.42,165.83 469.3,167.2 C470.18,168.57 470.58,170.83 471.9,171.5 C473.22,172.17 475.45,171.63 477.2,171.2 C478.95,170.77 479.93,171.62 482.4,168.9 C484.87,166.18 489.95,157.23 492,154.9 C494.05,152.57 494.4,154.47 494.7,154.9 C495,155.33 495.27,154.73 493.8,157.5 C492.33,160.27 487.5,168.58 485.9,171.5 C484.3,174.42 484.35,172.67 484.2,175 C484.05,177.33 484.57,182.57 485,185.5 C485.43,188.43 486.07,190.4 486.8,192.6 C487.53,194.8 489.25,197.4 489.4,198.7 C489.55,200 488.57,200.7 487.7,200.4 C486.83,200.1 485.82,198.5 484.2,196.9 C482.58,195.3 480.05,192.7 478,190.8 C475.95,188.9 473.65,185.78 471.9,185.5 C470.15,185.22 468.67,188.8 467.5,189.1 C466.33,189.4 465.48,188.48 464.9,187.3 C464.32,186.12 465.02,183.75 464,182 C462.98,180.25 459.73,178.55 458.8,176.8 C457.87,175.05 458.12,173.25 458.4,171.5 C458.68,169.75 459.13,167.67 460.5,166.3Z" fill="#282828"/>
<path d="M506.9,154 C506.75,152.38 508.2,150.7 510.4,149.6 C512.6,148.5 516.73,147.4 520.1,147.4 C523.47,147.4 527.68,148.5 530.6,149.6 C533.52,150.7 536.28,152.38 537.6,154 C538.92,155.62 538.5,157.68 538.5,159.3 C538.5,160.92 536.58,160.78 537.6,163.7 C538.62,166.62 542.27,172.57 544.6,176.8 C546.93,181.03 549.7,185.88 551.6,189.1 C553.5,192.32 555.12,193.48 556,196.1 C556.88,198.72 557.2,202.92 556.9,204.8 C556.6,206.68 555.08,207.25 554.2,207.4 C553.32,207.55 552.32,207.3 551.6,205.7 C550.88,204.1 551.35,200.87 549.9,197.8 C548.45,194.73 545.83,191.23 542.9,187.3 C539.97,183.37 535.23,177.55 532.3,174.2 C529.37,170.85 527.63,168.82 525.3,167.2 C522.97,165.58 520.63,165.82 518.3,164.5 C515.97,163.18 513.2,161.05 511.3,159.3 C509.4,157.55 507.05,155.62 506.9,154Z" fill="#282828"/>
<path d="M590.4,157.8 C592.15,157.22 592.57,158.48 593,159.5 C593.43,160.52 593.28,162 593,163.9 C592.72,165.8 590.57,168.72 591.3,170.9 C592.03,173.08 596.08,175.1 597.4,177 C598.72,178.9 599.05,180.25 599.2,182.3 C599.35,184.35 599.33,187.98 598.3,189.3 C597.27,190.62 594.75,190.35 593,190.2 C591.25,190.05 589.25,187.97 587.8,188.4 C586.35,188.83 585.62,191.48 584.3,192.8 C582.98,194.12 581.22,196.58 579.9,196.3 C578.58,196.02 577.28,193.73 576.4,191.1 C575.52,188.47 574.45,184.02 574.6,180.5 C574.75,176.98 575.98,172.92 577.3,170 C578.62,167.08 580.32,165.03 582.5,163 C584.68,160.97 588.65,158.38 590.4,157.8Z" fill="#282828"/>
<path d="M651.3,154.9 C651.85,154.42 652.7,153.87 654.1,153.4 C655.5,152.93 658.15,152.08 659.7,152.1 C661.25,152.12 662.23,152.63 663.4,153.5 C664.57,154.37 665.95,156.05 666.7,157.3 C667.45,158.55 667.9,159.83 667.9,161 C667.9,162.17 667.92,163.05 666.7,164.3 C665.48,165.55 662.87,166.87 660.6,168.5 C658.33,170.13 655.6,171.92 653.1,174.1 C650.6,176.28 648.08,179.42 645.6,181.6 C643.12,183.78 640.68,185.33 638.2,187.2 C635.72,189.07 632.73,191.08 630.7,192.8 C628.67,194.52 627.4,196.02 626,197.5 C624.6,198.98 623.32,201 622.3,201.7 C621.28,202.4 620.68,202.25 619.9,201.7 C619.12,201.15 617.83,199.42 617.6,198.4 C617.37,197.38 617.42,196.85 618.5,195.6 C619.58,194.35 621.75,192.77 624.1,190.9 C626.45,189.03 629.95,186.73 632.6,184.4 C635.25,182.07 637.67,179.4 640,176.9 C642.33,174.4 644.88,171.58 646.6,169.4 C648.32,167.22 649.52,165.35 650.3,163.8 C651.08,162.25 651.22,161.35 651.3,160.1 C651.38,158.85 650.8,157.17 650.8,156.3 C650.8,155.43 650.75,155.38 651.3,154.9Z" fill="#282828"/>
<path d="M7,234.4 L673.1,217.8 L673.1,234.4 Z" fill="#000"/>
<text x="335.9" y="246.8" font-size="9.2" text-anchor="start" font-weight="normal" fill="#1a1a1a" color="#1a1a1a" textLength="19.9" lengthAdjust="spacingAndGlyphs">Time</text>
<path d="M41.2,416.35 L205.9,293.86 L205.9,302.16 L41.2,424.65Z" fill="#f5a3a5" opacity="0.75"/>
<path d="M41.2,416.35 L75.51,355.35 L75.51,363.65 L41.2,424.65Z" fill="#8fb7ef" opacity="0.75"/>
<line x1="41.2" y1="420.5" x2="205.9" y2="298.01" stroke="#e84a4f" stroke-width="1.1"/>
<line x1="41.2" y1="420.5" x2="75.51" y2="359.5" stroke="#2f78dc" stroke-width="1.1"/>
<line x1="205.9" y1="420.5" x2="205.9" y2="297.52" stroke="#f08a8d" stroke-width="1.1"/>
<line x1="75.51" y1="420.5" x2="75.51" y2="357.06" stroke="#2f78dc" stroke-width="1.1"/>
<line x1="41.2" y1="418.55" x2="41.2" y2="424.4" stroke="#e84a4f" stroke-width="0.9"/>
<line x1="39.4" y1="418.55" x2="43" y2="418.55" stroke="#e84a4f" stroke-width="0.9"/>
<line x1="39.4" y1="424.4" x2="43" y2="424.4" stroke="#e84a4f" stroke-width="0.9"/>
<line x1="54.93" y1="409.28" x2="54.93" y2="414.16" stroke="#e84a4f" stroke-width="0.9"/>
<line x1="53.13" y1="409.28" x2="56.73" y2="409.28" stroke="#e84a4f" stroke-width="0.9"/>
<line x1="53.13" y1="414.16" x2="56.73" y2="414.16" stroke="#e84a4f" stroke-width="0.9"/>
<line x1="68.65" y1="395.61" x2="68.65" y2="403.42" stroke="#e84a4f" stroke-width="0.9"/>
<line x1="66.85" y1="395.61" x2="70.45" y2="395.61" stroke="#e84a4f" stroke-width="0.9"/>
<line x1="66.85" y1="403.42" x2="70.45" y2="403.42" stroke="#e84a4f" stroke-width="0.9"/>
<line x1="82.38" y1="389.27" x2="82.38" y2="395.12" stroke="#e84a4f" stroke-width="0.9"/>
<line x1="80.58" y1="389.27" x2="84.17" y2="389.27" stroke="#e84a4f" stroke-width="0.9"/>
<line x1="80.58" y1="395.12" x2="84.17" y2="395.12" stroke="#e84a4f" stroke-width="0.9"/>
<line x1="96.1" y1="380.97" x2="96.1" y2="387.8" stroke="#e84a4f" stroke-width="0.9"/>
<line x1="94.3" y1="380.97" x2="97.9" y2="380.97" stroke="#e84a4f" stroke-width="0.9"/>
<line x1="94.3" y1="387.8" x2="97.9" y2="387.8" stroke="#e84a4f" stroke-width="0.9"/>
<line x1="109.83" y1="360.96" x2="109.83" y2="373.65" stroke="#e84a4f" stroke-width="0.9"/>
<line x1="108.03" y1="360.96" x2="111.62" y2="360.96" stroke="#e84a4f" stroke-width="0.9"/>
<line x1="108.03" y1="373.65" x2="111.62" y2="373.65" stroke="#e84a4f" stroke-width="0.9"/>
<line x1="123.55" y1="360.72" x2="123.55" y2="367.06" stroke="#e84a4f" stroke-width="0.9"/>
<line x1="121.75" y1="360.72" x2="125.35" y2="360.72" stroke="#e84a4f" stroke-width="0.9"/>
<line x1="121.75" y1="367.06" x2="125.35" y2="367.06" stroke="#e84a4f" stroke-width="0.9"/>
<line x1="137.28" y1="345.84" x2="137.28" y2="359.5" stroke="#e84a4f" stroke-width="0.9"/>
<line x1="135.47" y1="345.84" x2="139.08" y2="345.84" stroke="#e84a4f" stroke-width="0.9"/>
<line x1="135.47" y1="359.5" x2="139.08" y2="359.5" stroke="#e84a4f" stroke-width="0.9"/>
<line x1="151" y1="333.64" x2="151" y2="341.44" stroke="#e84a4f" stroke-width="0.9"/>
<line x1="149.2" y1="333.64" x2="152.8" y2="333.64" stroke="#e84a4f" stroke-width="0.9"/>
<line x1="149.2" y1="341.44" x2="152.8" y2="341.44" stroke="#e84a4f" stroke-width="0.9"/>
<line x1="164.73" y1="326.07" x2="164.73" y2="339.25" stroke="#e84a4f" stroke-width="0.9"/>
<line x1="162.93" y1="326.07" x2="166.53" y2="326.07" stroke="#e84a4f" stroke-width="0.9"/>
<line x1="162.93" y1="339.25" x2="166.53" y2="339.25" stroke="#e84a4f" stroke-width="0.9"/>
<line x1="178.45" y1="305.09" x2="178.45" y2="322.17" stroke="#e84a4f" stroke-width="0.9"/>
<line x1="176.65" y1="305.09" x2="180.25" y2="305.09" stroke="#e84a4f" stroke-width="0.9"/>
<line x1="176.65" y1="322.17" x2="180.25" y2="322.17" stroke="#e84a4f" stroke-width="0.9"/>
<line x1="192.18" y1="297.28" x2="192.18" y2="316.31" stroke="#e84a4f" stroke-width="0.9"/>
<line x1="190.38" y1="297.28" x2="193.98" y2="297.28" stroke="#e84a4f" stroke-width="0.9"/>
<line x1="190.38" y1="316.31" x2="193.98" y2="316.31" stroke="#e84a4f" stroke-width="0.9"/>
<line x1="205.9" y1="291.42" x2="205.9" y2="303.62" stroke="#e84a4f" stroke-width="0.9"/>
<line x1="204.1" y1="291.42" x2="207.7" y2="291.42" stroke="#e84a4f" stroke-width="0.9"/>
<line x1="204.1" y1="303.62" x2="207.7" y2="303.62" stroke="#e84a4f" stroke-width="0.9"/>
<circle cx="41.2" cy="421.48" r="1.75" fill="#fff" stroke="#e84a4f" stroke-width="0.9"/>
<circle cx="54.93" cy="411.72" r="1.75" fill="#fff" stroke="#e84a4f" stroke-width="0.9"/>
<circle cx="68.65" cy="399.52" r="1.75" fill="#fff" stroke="#e84a4f" stroke-width="0.9"/>
<circle cx="82.38" cy="392.2" r="1.75" fill="#fff" stroke="#e84a4f" stroke-width="0.9"/>
<circle cx="96.1" cy="384.39" r="1.75" fill="#fff" stroke="#e84a4f" stroke-width="0.9"/>
<circle cx="109.83" cy="367.31" r="1.75" fill="#fff" stroke="#e84a4f" stroke-width="0.9"/>
<circle cx="123.55" cy="363.89" r="1.75" fill="#fff" stroke="#e84a4f" stroke-width="0.9"/>
<circle cx="137.28" cy="352.67" r="1.75" fill="#fff" stroke="#e84a4f" stroke-width="0.9"/>
<circle cx="151" cy="337.54" r="1.75" fill="#fff" stroke="#e84a4f" stroke-width="0.9"/>
<circle cx="164.73" cy="332.66" r="1.75" fill="#fff" stroke="#e84a4f" stroke-width="0.9"/>
<circle cx="178.45" cy="313.63" r="1.75" fill="#fff" stroke="#e84a4f" stroke-width="0.9"/>
<circle cx="192.18" cy="306.8" r="1.75" fill="#fff" stroke="#e84a4f" stroke-width="0.9"/>
<circle cx="205.9" cy="297.52" r="1.75" fill="#fff" stroke="#e84a4f" stroke-width="0.9"/>
<line x1="41.2" y1="415.62" x2="41.2" y2="421.48" stroke="#2f78dc" stroke-width="0.9"/>
<line x1="39.4" y1="415.62" x2="43" y2="415.62" stroke="#2f78dc" stroke-width="0.9"/>
<line x1="39.4" y1="421.48" x2="43" y2="421.48" stroke="#2f78dc" stroke-width="0.9"/>
<line x1="48.06" y1="403.91" x2="48.06" y2="407.81" stroke="#2f78dc" stroke-width="0.9"/>
<line x1="46.26" y1="403.91" x2="49.86" y2="403.91" stroke="#2f78dc" stroke-width="0.9"/>
<line x1="46.26" y1="407.81" x2="49.86" y2="407.81" stroke="#2f78dc" stroke-width="0.9"/>
<line x1="54.93" y1="391.71" x2="54.93" y2="398.54" stroke="#2f78dc" stroke-width="0.9"/>
<line x1="53.13" y1="391.71" x2="56.73" y2="391.71" stroke="#2f78dc" stroke-width="0.9"/>
<line x1="53.13" y1="398.54" x2="56.73" y2="398.54" stroke="#2f78dc" stroke-width="0.9"/>
<line x1="61.79" y1="376.09" x2="61.79" y2="383.9" stroke="#2f78dc" stroke-width="0.9"/>
<line x1="59.99" y1="376.09" x2="63.59" y2="376.09" stroke="#2f78dc" stroke-width="0.9"/>
<line x1="59.99" y1="383.9" x2="63.59" y2="383.9" stroke="#2f78dc" stroke-width="0.9"/>
<line x1="68.65" y1="370.72" x2="68.65" y2="377.56" stroke="#2f78dc" stroke-width="0.9"/>
<line x1="66.85" y1="370.72" x2="70.45" y2="370.72" stroke="#2f78dc" stroke-width="0.9"/>
<line x1="66.85" y1="377.56" x2="70.45" y2="377.56" stroke="#2f78dc" stroke-width="0.9"/>
<line x1="75.51" y1="352.67" x2="75.51" y2="361.45" stroke="#2f78dc" stroke-width="0.9"/>
<line x1="73.71" y1="352.67" x2="77.31" y2="352.67" stroke="#2f78dc" stroke-width="0.9"/>
<line x1="73.71" y1="361.45" x2="77.31" y2="361.45" stroke="#2f78dc" stroke-width="0.9"/>
<circle cx="41.2" cy="418.55" r="1.75" fill="#fff" stroke="#2f78dc" stroke-width="0.9"/>
<circle cx="48.06" cy="405.86" r="1.75" fill="#fff" stroke="#2f78dc" stroke-width="0.9"/>
<circle cx="54.93" cy="395.12" r="1.75" fill="#fff" stroke="#2f78dc" stroke-width="0.9"/>
<circle cx="61.79" cy="380" r="1.75" fill="#fff" stroke="#2f78dc" stroke-width="0.9"/>
<circle cx="68.65" cy="374.14" r="1.75" fill="#fff" stroke="#2f78dc" stroke-width="0.9"/>
<circle cx="75.51" cy="357.06" r="1.75" fill="#fff" stroke="#2f78dc" stroke-width="0.9"/>
<line x1="38.4" y1="288.5" x2="208.5" y2="288.5" stroke="#333" stroke-width="1.1"/>
<line x1="38.4" y1="425.5" x2="208.5" y2="425.5" stroke="#333" stroke-width="1.1"/>
<line x1="38.4" y1="288.5" x2="38.4" y2="425.5" stroke="#333" stroke-width="1.1"/>
<line x1="208.5" y1="288.5" x2="208.5" y2="425.5" stroke="#333" stroke-width="1.1"/>
<line x1="36.1" y1="420.5" x2="38.4" y2="420.5" stroke="#222" stroke-width="0.9"/>
<text x="32.6" y="422.9" font-size="9.8" text-anchor="end" font-weight="normal" fill="#1a1a1a" color="#1a1a1a" textLength="12.26" lengthAdjust="spacingAndGlyphs">1.0</text>
<line x1="36.1" y1="396.1" x2="38.4" y2="396.1" stroke="#222" stroke-width="0.9"/>
<text x="32.6" y="398.5" font-size="9.8" text-anchor="end" font-weight="normal" fill="#1a1a1a" color="#1a1a1a" textLength="12.26" lengthAdjust="spacingAndGlyphs">1.5</text>
<line x1="36.1" y1="371.7" x2="38.4" y2="371.7" stroke="#222" stroke-width="0.9"/>
<text x="32.6" y="374.1" font-size="9.8" text-anchor="end" font-weight="normal" fill="#1a1a1a" color="#1a1a1a" textLength="12.26" lengthAdjust="spacingAndGlyphs">2.0</text>
<line x1="36.1" y1="347.3" x2="38.4" y2="347.3" stroke="#222" stroke-width="0.9"/>
<text x="32.6" y="349.7" font-size="9.8" text-anchor="end" font-weight="normal" fill="#1a1a1a" color="#1a1a1a" textLength="12.26" lengthAdjust="spacingAndGlyphs">2.5</text>
<line x1="36.1" y1="322.9" x2="38.4" y2="322.9" stroke="#222" stroke-width="0.9"/>
<text x="32.6" y="325.3" font-size="9.8" text-anchor="end" font-weight="normal" fill="#1a1a1a" color="#1a1a1a" textLength="12.26" lengthAdjust="spacingAndGlyphs">3.0</text>
<line x1="36.1" y1="298.5" x2="38.4" y2="298.5" stroke="#222" stroke-width="0.9"/>
<text x="32.6" y="300.9" font-size="9.8" text-anchor="end" font-weight="normal" fill="#1a1a1a" color="#1a1a1a" textLength="12.26" lengthAdjust="spacingAndGlyphs">3.5</text>
<line x1="37" y1="408.3" x2="38.4" y2="408.3" stroke="#222" stroke-width="0.9"/>
<line x1="37" y1="383.9" x2="38.4" y2="383.9" stroke="#222" stroke-width="0.9"/>
<line x1="37" y1="359.5" x2="38.4" y2="359.5" stroke="#222" stroke-width="0.9"/>
<line x1="37" y1="335.1" x2="38.4" y2="335.1" stroke="#222" stroke-width="0.9"/>
<line x1="37" y1="310.7" x2="38.4" y2="310.7" stroke="#222" stroke-width="0.9"/>
<line x1="41.2" y1="425.5" x2="41.2" y2="427.8" stroke="#222" stroke-width="0.9"/>
<text x="41.2" y="438.6" font-size="9.8" text-anchor="middle" font-weight="normal" fill="#1a1a1a" color="#1a1a1a" textLength="4.9" lengthAdjust="spacingAndGlyphs">0</text>
<line x1="68.65" y1="425.5" x2="68.65" y2="427.8" stroke="#222" stroke-width="0.9"/>
<text x="68.65" y="438.6" font-size="9.8" text-anchor="middle" font-weight="normal" fill="#1a1a1a" color="#1a1a1a" textLength="9.81" lengthAdjust="spacingAndGlyphs">20</text>
<line x1="96.1" y1="425.5" x2="96.1" y2="427.8" stroke="#222" stroke-width="0.9"/>
<text x="96.1" y="438.6" font-size="9.8" text-anchor="middle" font-weight="normal" fill="#1a1a1a" color="#1a1a1a" textLength="9.81" lengthAdjust="spacingAndGlyphs">40</text>
<line x1="123.55" y1="425.5" x2="123.55" y2="427.8" stroke="#222" stroke-width="0.9"/>
<text x="123.55" y="438.6" font-size="9.8" text-anchor="middle" font-weight="normal" fill="#1a1a1a" color="#1a1a1a" textLength="9.81" lengthAdjust="spacingAndGlyphs">60</text>
<line x1="151" y1="425.5" x2="151" y2="427.8" stroke="#222" stroke-width="0.9"/>
<text x="151" y="438.6" font-size="9.8" text-anchor="middle" font-weight="normal" fill="#1a1a1a" color="#1a1a1a" textLength="9.81" lengthAdjust="spacingAndGlyphs">80</text>
<line x1="178.45" y1="425.5" x2="178.45" y2="427.8" stroke="#222" stroke-width="0.9"/>
<text x="178.45" y="438.6" font-size="9.8" text-anchor="middle" font-weight="normal" fill="#1a1a1a" color="#1a1a1a" textLength="14.71" lengthAdjust="spacingAndGlyphs">100</text>
<line x1="205.9" y1="425.5" x2="205.9" y2="427.8" stroke="#222" stroke-width="0.9"/>
<text x="205.9" y="438.6" font-size="9.8" text-anchor="middle" font-weight="normal" fill="#1a1a1a" color="#1a1a1a" textLength="14.71" lengthAdjust="spacingAndGlyphs">120</text>
<line x1="54.93" y1="425.5" x2="54.93" y2="426.9" stroke="#222" stroke-width="0.9"/>
<line x1="82.38" y1="425.5" x2="82.38" y2="426.9" stroke="#222" stroke-width="0.9"/>
<line x1="109.83" y1="425.5" x2="109.83" y2="426.9" stroke="#222" stroke-width="0.9"/>
<line x1="137.28" y1="425.5" x2="137.28" y2="426.9" stroke="#222" stroke-width="0.9"/>
<line x1="164.73" y1="425.5" x2="164.73" y2="426.9" stroke="#222" stroke-width="0.9"/>
<line x1="192.18" y1="425.5" x2="192.18" y2="426.9" stroke="#222" stroke-width="0.9"/>
<text transform="translate(9.2,355.7) rotate(-90)" x="0" y="3.31" font-size="9.2" text-anchor="middle" fill="#1a1a1a" color="#1a1a1a" textLength="93" lengthAdjust="spacingAndGlyphs">Normalized Elongation</text>
<text x="125" y="451.3" font-size="9.1" text-anchor="middle" font-weight="normal" fill="#222" color="#222">Time (min)</text>
<path d="M47.2,297.2 H141.5 M47.2,311.8 H141.5 M47.2,297.2 V311.8 M141.5,297.2 V311.8" stroke="#555" stroke-width="0.95" stroke-dasharray="3.2 2.6" fill="none"/>
<path d="M47.2,314.3 H141.5 M47.2,328.5 H141.5 M47.2,314.3 V328.5 M141.5,314.3 V328.5" stroke="#555" stroke-width="0.95" stroke-dasharray="3.2 2.6" fill="none"/>
<circle cx="57.2" cy="302" r="1.25" fill="#fff" stroke="#e84a4f" stroke-width="0.8"/>
<circle cx="57.2" cy="307.2" r="1.25" fill="#fff" stroke="#2f78dc" stroke-width="0.8"/>
<text x="63.3" y="307.7" font-size="8.8" text-anchor="start" font-weight="normal" fill="#222" color="#222" textLength="74.7" lengthAdjust="spacingAndGlyphs">Experimental data</text>
<line x1="50.9" y1="319.4" x2="64.4" y2="319.4" stroke="#f07a7e" stroke-width="1.1"/>
<line x1="50.9" y1="323.7" x2="64.4" y2="323.7" stroke="#6fa3ec" stroke-width="1.1"/>
<text x="66.5" y="323.9" font-size="8.8" text-anchor="start" font-weight="normal" fill="#222" color="#222" textLength="73.1" lengthAdjust="spacingAndGlyphs">Simulation results</text>
<path d="M99.2,392.6 H201.6 M99.2,415.6 H201.6 M99.2,392.6 V415.6 M201.6,392.6 V415.6" stroke="#555" stroke-width="0.95" stroke-dasharray="3.2 2.6" fill="none"/>
<circle cx="109.3" cy="397.1" r="1.25" fill="#fff" stroke="#e84a4f" stroke-width="0.8"/>
<circle cx="109.3" cy="406.8" r="1.25" fill="#fff" stroke="#2f78dc" stroke-width="0.8"/>
<line x1="103.1" y1="402.3" x2="116" y2="402.3" stroke="#f07a7e" stroke-width="1.1"/>
<line x1="103.1" y1="412.4" x2="116" y2="412.4" stroke="#6fa3ec" stroke-width="1.1"/>
<text x="117.7" y="401.8" font-size="8.9" text-anchor="start" font-weight="normal" fill="#222" color="#222" textLength="81" lengthAdjust="spacingAndGlyphs">28% rigidity change</text>
<text x="117.7" y="411.9" font-size="8.9" text-anchor="start" font-weight="normal" fill="#222" color="#222" textLength="81" lengthAdjust="spacingAndGlyphs">40% rigidity change</text>
<line x1="281.2" y1="309.48" x2="309.8" y2="309.48" stroke="#555" stroke-width="1.1"/>
<line x1="323.4" y1="309.48" x2="352" y2="309.48" stroke="#9a9a9a" stroke-width="1.1"/>
<line x1="366.2" y1="410.02" x2="394.7" y2="410.02" stroke="#555" stroke-width="1.1"/>
<line x1="408.4" y1="410.45" x2="436.9" y2="410.45" stroke="#9a9a9a" stroke-width="1.1"/>
<g fill="#f28a8b"><circle cx="300.19" cy="309.06" r="1.2"/><circle cx="293.55" cy="300.67" r="1.2"/><circle cx="300.1" cy="301.52" r="1.2"/><circle cx="294.59" cy="312.5" r="1.2"/><circle cx="291.03" cy="311.16" r="1.2"/><circle cx="295.56" cy="312.61" r="1.2"/><circle cx="296.31" cy="305.67" r="1.2"/><circle cx="297.59" cy="309.63" r="1.2"/><circle cx="297.16" cy="304.54" r="1.2"/><circle cx="291.25" cy="320.97" r="1.2"/><circle cx="296.49" cy="299.36" r="1.2"/><circle cx="300.42" cy="309.88" r="1.2"/><circle cx="297.17" cy="304.97" r="1.2"/><circle cx="301.08" cy="310.14" r="1.2"/><circle cx="295.34" cy="311.67" r="1.2"/><circle cx="298.93" cy="306.34" r="1.2"/><circle cx="291.15" cy="304.05" r="1.2"/><circle cx="300.07" cy="310.55" r="1.2"/><circle cx="294.41" cy="310.24" r="1.2"/><circle cx="299.57" cy="304.93" r="1.2"/><circle cx="293.2" cy="314.78" r="1.2"/><circle cx="296.37" cy="318.86" r="1.2"/><circle cx="299.4" cy="306.77" r="1.2"/><circle cx="297.66" cy="313.52" r="1.2"/><circle cx="296.21" cy="321.43" r="1.2"/><circle cx="300.52" cy="314.43" r="1.2"/><circle cx="290.25" cy="312.23" r="1.2"/><circle cx="291.1" cy="316.83" r="1.2"/><circle cx="295.69" cy="318.72" r="1.2"/><circle cx="300.84" cy="309.04" r="1.2"/><circle cx="297.27" cy="303.59" r="1.2"/><circle cx="292.86" cy="310.75" r="1.2"/><circle cx="290.7" cy="313.98" r="1.2"/><circle cx="294.57" cy="306.84" r="1.2"/><circle cx="294.97" cy="304.73" r="1.2"/><circle cx="294.81" cy="311.17" r="1.2"/><circle cx="296.62" cy="305.82" r="1.2"/><circle cx="292.77" cy="302.67" r="1.2"/><circle cx="299.89" cy="310.58" r="1.2"/><circle cx="292.81" cy="314.42" r="1.2"/><circle cx="290.41" cy="307.07" r="1.2"/><circle cx="293.34" cy="307.71" r="1.2"/><circle cx="299.8" cy="302.32" r="1.2"/><circle cx="291.78" cy="317.4" r="1.2"/><circle cx="292.61" cy="313.46" r="1.2"/><circle cx="299.99" cy="314.58" r="1.2"/><circle cx="293.85" cy="320.25" r="1.2"/><circle cx="299.44" cy="308.47" r="1.2"/><circle cx="289.79" cy="305.93" r="1.2"/><circle cx="299.66" cy="313.95" r="1.2"/><circle cx="292.64" cy="300.5" r="1.2"/><circle cx="291.6" cy="304.07" r="1.2"/><circle cx="298.04" cy="305.3" r="1.2"/><circle cx="301.13" cy="306.73" r="1.2"/><circle cx="300.22" cy="303.22" r="1.2"/><circle cx="297.7" cy="317.7" r="1.2"/><circle cx="300.06" cy="305.39" r="1.2"/><circle cx="300.93" cy="305.46" r="1.2"/><circle cx="295.66" cy="320.46" r="1.2"/><circle cx="290.87" cy="307.08" r="1.2"/><circle cx="299.49" cy="310.86" r="1.2"/><circle cx="294.02" cy="304.33" r="1.2"/><circle cx="292.94" cy="312.05" r="1.2"/><circle cx="295.21" cy="309.39" r="1.2"/><circle cx="289.53" cy="307.1" r="1.2"/><circle cx="289.84" cy="314.82" r="1.2"/><circle cx="292.43" cy="305.48" r="1.2"/><circle cx="296.39" cy="309.94" r="1.2"/><circle cx="298.18" cy="306.16" r="1.2"/><circle cx="300.65" cy="312.58" r="1.2"/><circle cx="298.57" cy="302.4" r="1.2"/><circle cx="300.39" cy="305.44" r="1.2"/><circle cx="296.88" cy="310.4" r="1.2"/><circle cx="297.94" cy="305.27" r="1.2"/><circle cx="296.08" cy="301.3" r="1.2"/><circle cx="291.54" cy="297.93" r="1.2"/><circle cx="291.14" cy="319.23" r="1.2"/><circle cx="298.09" cy="303.68" r="1.2"/><circle cx="291.62" cy="306.33" r="1.2"/><circle cx="298.79" cy="309.87" r="1.2"/><circle cx="294.81" cy="315.64" r="1.2"/><circle cx="290.21" cy="301.31" r="1.2"/><circle cx="295.82" cy="317.26" r="1.2"/><circle cx="294.53" cy="305.68" r="1.2"/><circle cx="290.94" cy="301.03" r="1.2"/><circle cx="293" cy="319.4" r="1.2"/><circle cx="292.83" cy="311.19" r="1.2"/><circle cx="293.66" cy="317.56" r="1.2"/><circle cx="297.74" cy="307.73" r="1.2"/><circle cx="292.07" cy="299.69" r="1.2"/><circle cx="294.7" cy="320.53" r="1.2"/><circle cx="296.46" cy="312.91" r="1.2"/><circle cx="300.36" cy="304.82" r="1.2"/><circle cx="291.64" cy="299.28" r="1.2"/><circle cx="290.12" cy="306.61" r="1.2"/><circle cx="291.67" cy="314" r="1.2"/><circle cx="291.78" cy="307.39" r="1.2"/><circle cx="291.02" cy="309.38" r="1.2"/><circle cx="289.97" cy="310.56" r="1.2"/><circle cx="291.87" cy="313.92" r="1.2"/><circle cx="291.84" cy="306.82" r="1.2"/><circle cx="294.95" cy="307.32" r="1.2"/><circle cx="297.03" cy="309.86" r="1.2"/><circle cx="293.52" cy="310.68" r="1.2"/><circle cx="291.87" cy="317.41" r="1.2"/><circle cx="290.35" cy="312.35" r="1.2"/><circle cx="292.77" cy="301.64" r="1.2"/><circle cx="291.14" cy="310.48" r="1.2"/><circle cx="295.02" cy="318.39" r="1.2"/><circle cx="298.87" cy="300.83" r="1.2"/><circle cx="297.78" cy="305.92" r="1.2"/><circle cx="291.52" cy="308.88" r="1.2"/><circle cx="289.62" cy="312.19" r="1.2"/><circle cx="291.05" cy="318.44" r="1.2"/><circle cx="294.56" cy="300.89" r="1.2"/><circle cx="293.66" cy="314.47" r="1.2"/><circle cx="297.33" cy="313.37" r="1.2"/><circle cx="290.3" cy="305.5" r="1.2"/><circle cx="292.44" cy="314.53" r="1.2"/><circle cx="297.48" cy="310.99" r="1.2"/><circle cx="296.03" cy="311.49" r="1.2"/><circle cx="295.41" cy="308.06" r="1.2"/><circle cx="299.44" cy="302.34" r="1.2"/><circle cx="290.41" cy="309.13" r="1.2"/><circle cx="291.84" cy="303.46" r="1.2"/><circle cx="295.99" cy="311.93" r="1.2"/><circle cx="296" cy="307.2" r="1.2"/><circle cx="299.06" cy="322.81" r="1.2"/><circle cx="299.78" cy="318.45" r="1.2"/><circle cx="296.19" cy="304.23" r="1.2"/><circle cx="298.25" cy="313.01" r="1.2"/><circle cx="297.53" cy="305.6" r="1.2"/><circle cx="290.84" cy="305.84" r="1.2"/><circle cx="296.22" cy="300.9" r="1.2"/><circle cx="293.01" cy="304.13" r="1.2"/><circle cx="293.68" cy="302.83" r="1.2"/><circle cx="290.95" cy="309.98" r="1.2"/><circle cx="289.51" cy="313.69" r="1.2"/><circle cx="299.26" cy="313.9" r="1.2"/><circle cx="297.8" cy="312.36" r="1.2"/><circle cx="297.84" cy="316.42" r="1.2"/><circle cx="292.68" cy="312.74" r="1.2"/><circle cx="294.18" cy="309.86" r="1.2"/><circle cx="291.22" cy="307.68" r="1.2"/><circle cx="296.45" cy="311.42" r="1.2"/><circle cx="298.06" cy="321.45" r="1.2"/><circle cx="298.65" cy="309.73" r="1.2"/><circle cx="300.54" cy="307.85" r="1.2"/><circle cx="292.66" cy="302.41" r="1.2"/><circle cx="297.58" cy="305.61" r="1.2"/><circle cx="290.84" cy="313.35" r="1.2"/><circle cx="295.62" cy="313.85" r="1.2"/><circle cx="290.74" cy="304.48" r="1.2"/><circle cx="295.55" cy="297.68" r="1.2"/><circle cx="295.68" cy="314.45" r="1.2"/><circle cx="293.34" cy="306.83" r="1.2"/><circle cx="293.39" cy="306.37" r="1.2"/><circle cx="297.7" cy="305.73" r="1.2"/><circle cx="294.97" cy="305.84" r="1.2"/><circle cx="294.06" cy="307.99" r="1.2"/><circle cx="290.42" cy="308.17" r="1.2"/><circle cx="293.14" cy="318.78" r="1.2"/><circle cx="299.49" cy="310.32" r="1.2"/><circle cx="300.6" cy="314" r="1.2"/><circle cx="293.63" cy="308.47" r="1.2"/><circle cx="295.2" cy="333.64" r="1.2"/><circle cx="295.2" cy="336.7" r="1.2"/><circle cx="295.7" cy="344.72" r="1.2"/><circle cx="293.2" cy="294.5" r="1.2"/><circle cx="297.2" cy="296.08" r="1.2"/></g>
<g fill="#ee3e41"><circle cx="340.88" cy="327.05" r="1.2"/><circle cx="339.78" cy="300.69" r="1.2"/><circle cx="336.9" cy="307.28" r="1.2"/><circle cx="339.01" cy="319.02" r="1.2"/><circle cx="341.41" cy="299.9" r="1.2"/><circle cx="339.71" cy="320.92" r="1.2"/><circle cx="335.29" cy="299.77" r="1.2"/><circle cx="333.23" cy="297.26" r="1.2"/><circle cx="341.99" cy="314.8" r="1.2"/><circle cx="339.06" cy="317.51" r="1.2"/><circle cx="333.06" cy="302.06" r="1.2"/><circle cx="338.32" cy="317.41" r="1.2"/><circle cx="338.76" cy="301.93" r="1.2"/><circle cx="335.74" cy="318.2" r="1.2"/><circle cx="342.03" cy="302.36" r="1.2"/><circle cx="334.68" cy="308" r="1.2"/><circle cx="333.64" cy="312.17" r="1.2"/><circle cx="335.75" cy="315.83" r="1.2"/><circle cx="335.88" cy="306.87" r="1.2"/><circle cx="340.96" cy="323.72" r="1.2"/><circle cx="339.66" cy="310.93" r="1.2"/><circle cx="333.37" cy="311.88" r="1.2"/><circle cx="336.61" cy="303.38" r="1.2"/><circle cx="333.91" cy="318.67" r="1.2"/><circle cx="339.58" cy="295.19" r="1.2"/><circle cx="342" cy="311.21" r="1.2"/><circle cx="333.69" cy="317.75" r="1.2"/><circle cx="337.8" cy="297.78" r="1.2"/><circle cx="335.57" cy="295.59" r="1.2"/><circle cx="335.23" cy="310.23" r="1.2"/><circle cx="340.45" cy="315.8" r="1.2"/><circle cx="343.52" cy="308.62" r="1.2"/><circle cx="335.32" cy="314.21" r="1.2"/><circle cx="338.3" cy="311.21" r="1.2"/><circle cx="336.09" cy="296.41" r="1.2"/><circle cx="332.66" cy="305.64" r="1.2"/><circle cx="339.03" cy="307.59" r="1.2"/><circle cx="333.74" cy="306.01" r="1.2"/><circle cx="340.05" cy="309.2" r="1.2"/><circle cx="340.49" cy="302.09" r="1.2"/><circle cx="333.95" cy="301.79" r="1.2"/><circle cx="338.93" cy="311.67" r="1.2"/><circle cx="334.31" cy="307.91" r="1.2"/><circle cx="340.88" cy="305.41" r="1.2"/><circle cx="335.24" cy="310.22" r="1.2"/><circle cx="339.3" cy="292.53" r="1.2"/><circle cx="339.57" cy="308.67" r="1.2"/><circle cx="338.57" cy="317.43" r="1.2"/><circle cx="334.63" cy="303.41" r="1.2"/><circle cx="341.38" cy="315.86" r="1.2"/><circle cx="336.12" cy="312.68" r="1.2"/><circle cx="341" cy="306.16" r="1.2"/><circle cx="337.5" cy="309.75" r="1.2"/><circle cx="337.23" cy="314.79" r="1.2"/><circle cx="340.24" cy="313.1" r="1.2"/><circle cx="335.99" cy="313.44" r="1.2"/><circle cx="340.44" cy="299.52" r="1.2"/><circle cx="337.19" cy="314.45" r="1.2"/><circle cx="340.55" cy="313.27" r="1.2"/><circle cx="339.37" cy="292.62" r="1.2"/><circle cx="342.91" cy="313.13" r="1.2"/><circle cx="336.96" cy="296.96" r="1.2"/><circle cx="336.35" cy="298.33" r="1.2"/><circle cx="343.72" cy="309.95" r="1.2"/><circle cx="337.95" cy="319.98" r="1.2"/><circle cx="336.85" cy="305.16" r="1.2"/><circle cx="340.06" cy="303.42" r="1.2"/><circle cx="335.16" cy="301.09" r="1.2"/><circle cx="343.29" cy="308.18" r="1.2"/><circle cx="340.32" cy="299.21" r="1.2"/><circle cx="339.21" cy="297.74" r="1.2"/><circle cx="335.65" cy="317.09" r="1.2"/><circle cx="340.69" cy="297.43" r="1.2"/><circle cx="342.81" cy="307.36" r="1.2"/><circle cx="341.14" cy="313.22" r="1.2"/><circle cx="342.67" cy="311.27" r="1.2"/><circle cx="334.43" cy="293.89" r="1.2"/><circle cx="340.34" cy="300.96" r="1.2"/><circle cx="340.9" cy="322.9" r="1.2"/><circle cx="337.51" cy="308.08" r="1.2"/><circle cx="332.78" cy="309.85" r="1.2"/><circle cx="338.31" cy="310.13" r="1.2"/><circle cx="334.83" cy="312.81" r="1.2"/><circle cx="333.47" cy="320.27" r="1.2"/><circle cx="342.51" cy="301.93" r="1.2"/><circle cx="341.33" cy="316.18" r="1.2"/><circle cx="339.38" cy="311.67" r="1.2"/><circle cx="340.63" cy="313.51" r="1.2"/><circle cx="339.71" cy="314.5" r="1.2"/><circle cx="337.39" cy="302.86" r="1.2"/><circle cx="333.35" cy="305.71" r="1.2"/><circle cx="335.43" cy="314.08" r="1.2"/><circle cx="337.86" cy="316.22" r="1.2"/><circle cx="338.75" cy="312.46" r="1.2"/><circle cx="335.71" cy="301.09" r="1.2"/><circle cx="333.34" cy="307.75" r="1.2"/><circle cx="335.92" cy="306.9" r="1.2"/><circle cx="334.09" cy="311.34" r="1.2"/><circle cx="342.92" cy="310.79" r="1.2"/><circle cx="334.47" cy="307.03" r="1.2"/><circle cx="336.92" cy="323.33" r="1.2"/><circle cx="338.17" cy="295.99" r="1.2"/><circle cx="335.08" cy="314.98" r="1.2"/><circle cx="337.74" cy="313.24" r="1.2"/><circle cx="338.3" cy="298.15" r="1.2"/><circle cx="332.43" cy="306.98" r="1.2"/><circle cx="343.17" cy="308.41" r="1.2"/><circle cx="338.23" cy="313.36" r="1.2"/><circle cx="334.62" cy="321.1" r="1.2"/><circle cx="343.56" cy="307.28" r="1.2"/><circle cx="334.5" cy="299.29" r="1.2"/><circle cx="340.24" cy="315.86" r="1.2"/><circle cx="337.63" cy="297.96" r="1.2"/><circle cx="335.34" cy="317.66" r="1.2"/><circle cx="336.46" cy="314.55" r="1.2"/><circle cx="337.58" cy="304.74" r="1.2"/><circle cx="336.25" cy="308.74" r="1.2"/><circle cx="334.97" cy="303.28" r="1.2"/><circle cx="336.87" cy="314.61" r="1.2"/><circle cx="337.13" cy="316.91" r="1.2"/><circle cx="339.36" cy="323.52" r="1.2"/><circle cx="334.8" cy="318.27" r="1.2"/><circle cx="333.13" cy="317.26" r="1.2"/><circle cx="340.92" cy="320.04" r="1.2"/><circle cx="332.7" cy="306.3" r="1.2"/><circle cx="339.28" cy="314" r="1.2"/><circle cx="338.19" cy="324.48" r="1.2"/><circle cx="342.97" cy="315.35" r="1.2"/><circle cx="334.76" cy="318.68" r="1.2"/><circle cx="341.61" cy="298.94" r="1.2"/><circle cx="334.09" cy="299.52" r="1.2"/><circle cx="334.49" cy="317.85" r="1.2"/><circle cx="339.22" cy="320.41" r="1.2"/><circle cx="334.3" cy="316.66" r="1.2"/><circle cx="338.68" cy="299.81" r="1.2"/><circle cx="339.87" cy="311.21" r="1.2"/><circle cx="333.7" cy="315.14" r="1.2"/><circle cx="341.28" cy="308.97" r="1.2"/><circle cx="337.04" cy="299.22" r="1.2"/><circle cx="342.21" cy="319.74" r="1.2"/><circle cx="332.06" cy="311.78" r="1.2"/><circle cx="333.82" cy="319.69" r="1.2"/><circle cx="338.73" cy="291.56" r="1.2"/><circle cx="335.76" cy="294.36" r="1.2"/><circle cx="336.77" cy="301.22" r="1.2"/><circle cx="342.69" cy="309.8" r="1.2"/><circle cx="336.04" cy="303.53" r="1.2"/><circle cx="334.28" cy="325.38" r="1.2"/><circle cx="333.56" cy="306.56" r="1.2"/><circle cx="338.33" cy="319.32" r="1.2"/><circle cx="340.44" cy="319.23" r="1.2"/><circle cx="340.68" cy="314.32" r="1.2"/><circle cx="337.46" cy="311.52" r="1.2"/><circle cx="334.82" cy="304.2" r="1.2"/><circle cx="333.64" cy="303.2" r="1.2"/><circle cx="334.51" cy="306.67" r="1.2"/><circle cx="334.62" cy="316.22" r="1.2"/><circle cx="342.38" cy="303.4" r="1.2"/><circle cx="336.7" cy="309.7" r="1.2"/><circle cx="333.97" cy="299.41" r="1.2"/><circle cx="339.28" cy="316" r="1.2"/><circle cx="337.3" cy="312.52" r="1.2"/><circle cx="334.15" cy="291.72" r="1.2"/><circle cx="343.37" cy="305.03" r="1.2"/><circle cx="343.13" cy="310.28" r="1.2"/><circle cx="338.3" cy="335.33" r="1.2"/><circle cx="338.8" cy="289.75" r="1.2"/><circle cx="340.8" cy="290.81" r="1.2"/></g>
<g fill="#73a5e9"><circle cx="384.31" cy="409.88" r="1.2"/><circle cx="379.52" cy="407.74" r="1.2"/><circle cx="384.38" cy="407.95" r="1.2"/><circle cx="376.34" cy="410.69" r="1.2"/><circle cx="380.85" cy="409.14" r="1.2"/><circle cx="381.01" cy="414.24" r="1.2"/><circle cx="383.59" cy="407.48" r="1.2"/><circle cx="379.4" cy="409.63" r="1.2"/><circle cx="377.89" cy="407.55" r="1.2"/><circle cx="382.81" cy="407.6" r="1.2"/><circle cx="375.71" cy="410.73" r="1.2"/><circle cx="378.84" cy="410.41" r="1.2"/><circle cx="380.14" cy="412.09" r="1.2"/><circle cx="382.88" cy="414.86" r="1.2"/><circle cx="379.56" cy="410.37" r="1.2"/><circle cx="381.28" cy="409.71" r="1.2"/><circle cx="382.41" cy="412.58" r="1.2"/><circle cx="382.56" cy="408.41" r="1.2"/><circle cx="386.33" cy="409.84" r="1.2"/><circle cx="380.05" cy="409.01" r="1.2"/><circle cx="381.33" cy="411.85" r="1.2"/><circle cx="376.22" cy="414.16" r="1.2"/><circle cx="376.92" cy="408.26" r="1.2"/><circle cx="377.49" cy="408.65" r="1.2"/><circle cx="376.87" cy="410.32" r="1.2"/><circle cx="380.73" cy="411.04" r="1.2"/><circle cx="376.76" cy="410.71" r="1.2"/><circle cx="381.38" cy="410.38" r="1.2"/><circle cx="384.44" cy="411.25" r="1.2"/><circle cx="376.92" cy="414.73" r="1.2"/><circle cx="377.52" cy="408.24" r="1.2"/><circle cx="380.47" cy="413.53" r="1.2"/><circle cx="374.88" cy="410.84" r="1.2"/><circle cx="376.07" cy="410.78" r="1.2"/><circle cx="381.44" cy="409.46" r="1.2"/><circle cx="379.57" cy="413.81" r="1.2"/><circle cx="384.72" cy="407.26" r="1.2"/><circle cx="381.34" cy="408.54" r="1.2"/><circle cx="383.49" cy="408.27" r="1.2"/><circle cx="378.91" cy="407.12" r="1.2"/><circle cx="379.09" cy="411.91" r="1.2"/><circle cx="384.89" cy="409.28" r="1.2"/><circle cx="381.67" cy="407.01" r="1.2"/><circle cx="384.88" cy="407.35" r="1.2"/><circle cx="377.51" cy="411.29" r="1.2"/><circle cx="375.65" cy="410.26" r="1.2"/><circle cx="382.71" cy="409.38" r="1.2"/><circle cx="377.19" cy="414.24" r="1.2"/><circle cx="375.5" cy="411.59" r="1.2"/><circle cx="379.2" cy="411.52" r="1.2"/><circle cx="382.25" cy="406.36" r="1.2"/><circle cx="378.85" cy="411.55" r="1.2"/><circle cx="382.89" cy="406.39" r="1.2"/><circle cx="379.94" cy="410" r="1.2"/><circle cx="378.53" cy="413.93" r="1.2"/><circle cx="380.78" cy="404.89" r="1.2"/><circle cx="381.66" cy="412.29" r="1.2"/><circle cx="376.33" cy="408.59" r="1.2"/><circle cx="381.33" cy="406.07" r="1.2"/><circle cx="376.49" cy="411.27" r="1.2"/><circle cx="385.35" cy="412.88" r="1.2"/><circle cx="380.84" cy="407.61" r="1.2"/><circle cx="376.79" cy="409.87" r="1.2"/><circle cx="375.76" cy="412.87" r="1.2"/><circle cx="377.43" cy="412.53" r="1.2"/><circle cx="378.26" cy="410.93" r="1.2"/><circle cx="381.31" cy="407.79" r="1.2"/><circle cx="382.54" cy="410.69" r="1.2"/><circle cx="383.01" cy="408.51" r="1.2"/><circle cx="379.96" cy="406.19" r="1.2"/><circle cx="381.83" cy="407.08" r="1.2"/><circle cx="381.02" cy="406.69" r="1.2"/><circle cx="378.39" cy="407.17" r="1.2"/><circle cx="377.88" cy="413.76" r="1.2"/><circle cx="379.45" cy="407.19" r="1.2"/><circle cx="382.85" cy="409.26" r="1.2"/><circle cx="375.91" cy="410.31" r="1.2"/><circle cx="381.96" cy="412.54" r="1.2"/><circle cx="376.01" cy="413.71" r="1.2"/><circle cx="377.12" cy="412.6" r="1.2"/><circle cx="382.64" cy="410.07" r="1.2"/><circle cx="383.74" cy="412.75" r="1.2"/><circle cx="383.56" cy="411.92" r="1.2"/><circle cx="382.69" cy="411.46" r="1.2"/><circle cx="377.59" cy="408.48" r="1.2"/><circle cx="386.57" cy="410.71" r="1.2"/><circle cx="381.77" cy="410.36" r="1.2"/><circle cx="384.64" cy="406.95" r="1.2"/><circle cx="385.92" cy="410.77" r="1.2"/><circle cx="377.37" cy="408.63" r="1.2"/><circle cx="385.59" cy="412.48" r="1.2"/><circle cx="375.31" cy="409.26" r="1.2"/><circle cx="382.23" cy="409.75" r="1.2"/><circle cx="377.45" cy="409.62" r="1.2"/><circle cx="375.55" cy="411.11" r="1.2"/><circle cx="381.26" cy="412.42" r="1.2"/><circle cx="376.93" cy="410.72" r="1.2"/><circle cx="383.99" cy="411.11" r="1.2"/><circle cx="380.08" cy="407.63" r="1.2"/><circle cx="377.91" cy="407.92" r="1.2"/><circle cx="375.41" cy="412.82" r="1.2"/><circle cx="382.79" cy="408.57" r="1.2"/><circle cx="382.16" cy="411.14" r="1.2"/><circle cx="384.23" cy="408.96" r="1.2"/><circle cx="379.08" cy="411.14" r="1.2"/><circle cx="384.52" cy="413.44" r="1.2"/><circle cx="375.28" cy="407.67" r="1.2"/><circle cx="385.62" cy="408.98" r="1.2"/><circle cx="383.24" cy="412.87" r="1.2"/><circle cx="377.06" cy="414.41" r="1.2"/><circle cx="386.39" cy="411.26" r="1.2"/><circle cx="376.2" cy="412.77" r="1.2"/><circle cx="383.6" cy="410.87" r="1.2"/><circle cx="377.45" cy="408.59" r="1.2"/><circle cx="382.35" cy="406.62" r="1.2"/><circle cx="384.67" cy="410.85" r="1.2"/><circle cx="376.7" cy="406.83" r="1.2"/><circle cx="378.65" cy="407.32" r="1.2"/><circle cx="385.34" cy="411.03" r="1.2"/><circle cx="380.29" cy="413.89" r="1.2"/><circle cx="376.55" cy="408.04" r="1.2"/><circle cx="375.57" cy="408.61" r="1.2"/><circle cx="376.81" cy="406.7" r="1.2"/><circle cx="375.95" cy="408.2" r="1.2"/><circle cx="379.2" cy="406.1" r="1.2"/><circle cx="383.51" cy="412.45" r="1.2"/><circle cx="379.91" cy="409.57" r="1.2"/><circle cx="375.49" cy="410.65" r="1.2"/><circle cx="379.18" cy="405.97" r="1.2"/><circle cx="380.3" cy="408.7" r="1.2"/><circle cx="379.98" cy="406.83" r="1.2"/><circle cx="382.09" cy="412.11" r="1.2"/><circle cx="382.59" cy="408.2" r="1.2"/><circle cx="383.52" cy="411.12" r="1.2"/><circle cx="380.95" cy="409.43" r="1.2"/><circle cx="374.92" cy="408.53" r="1.2"/><circle cx="383.88" cy="409.55" r="1.2"/><circle cx="383.66" cy="412.21" r="1.2"/><circle cx="382.76" cy="406.75" r="1.2"/><circle cx="379.73" cy="409.07" r="1.2"/><circle cx="385.37" cy="410.03" r="1.2"/><circle cx="375.78" cy="408.35" r="1.2"/><circle cx="383.41" cy="411.23" r="1.2"/><circle cx="381.33" cy="405.61" r="1.2"/><circle cx="383" cy="409.47" r="1.2"/><circle cx="375.16" cy="409.14" r="1.2"/><circle cx="386.28" cy="409.18" r="1.2"/><circle cx="375.21" cy="412.1" r="1.2"/><circle cx="377.09" cy="412.71" r="1.2"/><circle cx="380.71" cy="409.48" r="1.2"/><circle cx="381.4" cy="409.16" r="1.2"/><circle cx="377.29" cy="406.86" r="1.2"/><circle cx="377.91" cy="408.93" r="1.2"/><circle cx="384.98" cy="412.51" r="1.2"/><circle cx="378.34" cy="408.76" r="1.2"/><circle cx="379.88" cy="408.06" r="1.2"/><circle cx="376.25" cy="407.65" r="1.2"/><circle cx="381.35" cy="409.21" r="1.2"/><circle cx="382.6" cy="412.82" r="1.2"/><circle cx="383.03" cy="407.28" r="1.2"/><circle cx="377.37" cy="411.68" r="1.2"/><circle cx="378.93" cy="408.65" r="1.2"/><circle cx="381.96" cy="413.63" r="1.2"/><circle cx="385.96" cy="408.21" r="1.2"/><circle cx="383.63" cy="411.8" r="1.2"/><circle cx="381" cy="419.52" r="1.2"/><circle cx="381.3" cy="421.1" r="1.2"/><circle cx="381" cy="422.68" r="1.2"/><circle cx="380" cy="417.94" r="1.2"/></g>
<g fill="#1a69dc"><circle cx="420.6" cy="408.19" r="1.2"/><circle cx="417.8" cy="411.43" r="1.2"/><circle cx="424.52" cy="408.58" r="1.2"/><circle cx="427.66" cy="410.96" r="1.2"/><circle cx="418.33" cy="411.34" r="1.2"/><circle cx="417.8" cy="409.95" r="1.2"/><circle cx="425.32" cy="410.41" r="1.2"/><circle cx="423.84" cy="414.65" r="1.2"/><circle cx="421.35" cy="404.99" r="1.2"/><circle cx="420.41" cy="409.89" r="1.2"/><circle cx="425.6" cy="414.54" r="1.2"/><circle cx="418.44" cy="407.51" r="1.2"/><circle cx="420.09" cy="410.31" r="1.2"/><circle cx="421.58" cy="409.72" r="1.2"/><circle cx="426.19" cy="408.45" r="1.2"/><circle cx="421.15" cy="412.5" r="1.2"/><circle cx="417.85" cy="410.49" r="1.2"/><circle cx="426.06" cy="409.62" r="1.2"/><circle cx="425.11" cy="407.7" r="1.2"/><circle cx="418.98" cy="412.15" r="1.2"/><circle cx="425.93" cy="410.91" r="1.2"/><circle cx="424.62" cy="409.22" r="1.2"/><circle cx="421.62" cy="411.04" r="1.2"/><circle cx="424.14" cy="410.87" r="1.2"/><circle cx="423.23" cy="409.59" r="1.2"/><circle cx="426.37" cy="412.76" r="1.2"/><circle cx="427.1" cy="406.22" r="1.2"/><circle cx="421.46" cy="412.57" r="1.2"/><circle cx="418.3" cy="410.14" r="1.2"/><circle cx="421.59" cy="411.07" r="1.2"/><circle cx="424.34" cy="412.03" r="1.2"/><circle cx="420.45" cy="408.88" r="1.2"/><circle cx="419.71" cy="407.68" r="1.2"/><circle cx="420.62" cy="406.55" r="1.2"/><circle cx="427.1" cy="408.77" r="1.2"/><circle cx="425.73" cy="411.38" r="1.2"/><circle cx="419.27" cy="408.06" r="1.2"/><circle cx="421.27" cy="413.9" r="1.2"/><circle cx="420.46" cy="410.12" r="1.2"/><circle cx="418.82" cy="408.92" r="1.2"/><circle cx="427" cy="408.82" r="1.2"/><circle cx="421.01" cy="413.17" r="1.2"/><circle cx="423.81" cy="414.05" r="1.2"/><circle cx="422.2" cy="406.05" r="1.2"/><circle cx="418.16" cy="411.56" r="1.2"/><circle cx="419" cy="414.44" r="1.2"/><circle cx="425.17" cy="413.41" r="1.2"/><circle cx="424.73" cy="410.24" r="1.2"/><circle cx="423.13" cy="407.29" r="1.2"/><circle cx="419.33" cy="410.29" r="1.2"/><circle cx="421.66" cy="407.25" r="1.2"/><circle cx="423.28" cy="409.72" r="1.2"/><circle cx="419.95" cy="409.11" r="1.2"/><circle cx="423.98" cy="407.81" r="1.2"/><circle cx="427.23" cy="411.26" r="1.2"/><circle cx="419.42" cy="409.56" r="1.2"/><circle cx="428.31" cy="411.3" r="1.2"/><circle cx="423.29" cy="411.93" r="1.2"/><circle cx="428.49" cy="408.66" r="1.2"/><circle cx="428.4" cy="412.4" r="1.2"/><circle cx="417.99" cy="410.13" r="1.2"/><circle cx="425.23" cy="412.34" r="1.2"/><circle cx="420.12" cy="410.56" r="1.2"/><circle cx="424.61" cy="411.68" r="1.2"/><circle cx="427.1" cy="407.57" r="1.2"/><circle cx="422.7" cy="410.15" r="1.2"/><circle cx="425.03" cy="410.16" r="1.2"/><circle cx="424.64" cy="406.19" r="1.2"/><circle cx="419.97" cy="413.2" r="1.2"/><circle cx="422.67" cy="417.33" r="1.2"/><circle cx="420.69" cy="410.41" r="1.2"/><circle cx="423" cy="409.29" r="1.2"/><circle cx="426.14" cy="408.78" r="1.2"/><circle cx="419.01" cy="409.74" r="1.2"/><circle cx="423.78" cy="412.63" r="1.2"/><circle cx="423.23" cy="405.99" r="1.2"/><circle cx="421.84" cy="409.66" r="1.2"/><circle cx="427.27" cy="411.1" r="1.2"/><circle cx="421.66" cy="413.28" r="1.2"/><circle cx="426.69" cy="409.38" r="1.2"/><circle cx="418.2" cy="411.69" r="1.2"/><circle cx="422.49" cy="411.59" r="1.2"/><circle cx="418.55" cy="409.93" r="1.2"/><circle cx="427.32" cy="409.91" r="1.2"/><circle cx="425.01" cy="412.54" r="1.2"/><circle cx="420.41" cy="407.29" r="1.2"/><circle cx="421.85" cy="413.01" r="1.2"/><circle cx="419.38" cy="413.3" r="1.2"/><circle cx="427.74" cy="409.7" r="1.2"/><circle cx="427.9" cy="410.16" r="1.2"/><circle cx="427.9" cy="410.31" r="1.2"/><circle cx="424.44" cy="411.53" r="1.2"/><circle cx="420.38" cy="410.38" r="1.2"/><circle cx="422.69" cy="411.92" r="1.2"/><circle cx="424.66" cy="414.67" r="1.2"/><circle cx="422.38" cy="408.63" r="1.2"/><circle cx="418.56" cy="413.06" r="1.2"/><circle cx="423.5" cy="411.08" r="1.2"/><circle cx="418.63" cy="408.65" r="1.2"/><circle cx="420.02" cy="410.44" r="1.2"/><circle cx="425.43" cy="403.56" r="1.2"/><circle cx="424.28" cy="414.05" r="1.2"/><circle cx="426.5" cy="412.4" r="1.2"/><circle cx="425.35" cy="410.28" r="1.2"/><circle cx="424.69" cy="407.07" r="1.2"/><circle cx="420.19" cy="411.14" r="1.2"/><circle cx="425.15" cy="414.14" r="1.2"/><circle cx="419.44" cy="407.62" r="1.2"/><circle cx="418.04" cy="412.85" r="1.2"/><circle cx="421.28" cy="411.02" r="1.2"/><circle cx="419.52" cy="408.28" r="1.2"/><circle cx="425.4" cy="412.21" r="1.2"/><circle cx="420.7" cy="411.66" r="1.2"/><circle cx="417.82" cy="409.29" r="1.2"/><circle cx="426.49" cy="411.04" r="1.2"/><circle cx="428.35" cy="409.8" r="1.2"/><circle cx="425.44" cy="412.92" r="1.2"/><circle cx="428.65" cy="410.83" r="1.2"/><circle cx="426.1" cy="413.29" r="1.2"/><circle cx="427.08" cy="414.47" r="1.2"/><circle cx="424.67" cy="406.09" r="1.2"/><circle cx="426.51" cy="409.38" r="1.2"/><circle cx="426.35" cy="408.21" r="1.2"/><circle cx="419.15" cy="412.99" r="1.2"/><circle cx="421.04" cy="410.61" r="1.2"/><circle cx="424.59" cy="411.06" r="1.2"/><circle cx="421.53" cy="414.14" r="1.2"/><circle cx="427.48" cy="409.16" r="1.2"/><circle cx="418.23" cy="412.37" r="1.2"/><circle cx="418.76" cy="411.05" r="1.2"/><circle cx="421.63" cy="414.38" r="1.2"/><circle cx="421.55" cy="408.03" r="1.2"/><circle cx="426.87" cy="408.62" r="1.2"/><circle cx="417.51" cy="409.55" r="1.2"/><circle cx="426.7" cy="412.84" r="1.2"/><circle cx="428.64" cy="411.91" r="1.2"/><circle cx="418.75" cy="407.45" r="1.2"/><circle cx="428.56" cy="411.24" r="1.2"/><circle cx="425.1" cy="409.87" r="1.2"/><circle cx="418.8" cy="410.19" r="1.2"/><circle cx="426.57" cy="413.37" r="1.2"/><circle cx="419.74" cy="406.68" r="1.2"/><circle cx="422.27" cy="415.57" r="1.2"/><circle cx="420.09" cy="409.98" r="1.2"/><circle cx="421.81" cy="410.76" r="1.2"/><circle cx="420.06" cy="414.64" r="1.2"/><circle cx="421.77" cy="409.7" r="1.2"/><circle cx="423.99" cy="409.23" r="1.2"/><circle cx="422.77" cy="410.41" r="1.2"/><circle cx="423.44" cy="412.64" r="1.2"/><circle cx="427.78" cy="409.4" r="1.2"/><circle cx="426.77" cy="407.72" r="1.2"/><circle cx="418.59" cy="409.98" r="1.2"/><circle cx="425.22" cy="406.18" r="1.2"/><circle cx="426.4" cy="408.37" r="1.2"/><circle cx="427.71" cy="408.59" r="1.2"/><circle cx="422.19" cy="407.02" r="1.2"/><circle cx="427.97" cy="412.22" r="1.2"/><circle cx="423.86" cy="411.86" r="1.2"/><circle cx="422.84" cy="409.23" r="1.2"/><circle cx="423.3" cy="409.22" r="1.2"/><circle cx="422.4" cy="406.72" r="1.2"/><circle cx="425.11" cy="407.64" r="1.2"/><circle cx="423.58" cy="410.09" r="1.2"/><circle cx="427.7" cy="409.98" r="1.2"/><circle cx="423.7" cy="403.69" r="1.2"/><circle cx="423.2" cy="402.64" r="1.2"/></g>
<line x1="274.1" y1="289" x2="444.3" y2="289" stroke="#8a8a8a" stroke-width="1.7"/>
<line x1="274.1" y1="426" x2="444.3" y2="426" stroke="#8a8a8a" stroke-width="1.6"/>
<line x1="274.1" y1="289" x2="274.1" y2="426" stroke="#8a8a8a" stroke-width="1.8"/>
<line x1="444.3" y1="289" x2="444.3" y2="426" stroke="#555" stroke-width="1.3"/>
<line x1="271.8" y1="415.3" x2="274.1" y2="415.3" stroke="#222" stroke-width="0.9"/>
<text x="269.6" y="418.3" font-size="9.8" text-anchor="end" font-weight="normal" fill="#1a1a1a" color="#1a1a1a" textLength="9.81" lengthAdjust="spacingAndGlyphs">20</text>
<line x1="271.8" y1="394.2" x2="274.1" y2="394.2" stroke="#222" stroke-width="0.9"/>
<text x="269.6" y="397.2" font-size="9.8" text-anchor="end" font-weight="normal" fill="#1a1a1a" color="#1a1a1a" textLength="9.81" lengthAdjust="spacingAndGlyphs">40</text>
<line x1="271.8" y1="373.1" x2="274.1" y2="373.1" stroke="#222" stroke-width="0.9"/>
<text x="269.6" y="376.1" font-size="9.8" text-anchor="end" font-weight="normal" fill="#1a1a1a" color="#1a1a1a" textLength="9.81" lengthAdjust="spacingAndGlyphs">60</text>
<line x1="271.8" y1="352" x2="274.1" y2="352" stroke="#222" stroke-width="0.9"/>
<text x="269.6" y="355" font-size="9.8" text-anchor="end" font-weight="normal" fill="#1a1a1a" color="#1a1a1a" textLength="9.81" lengthAdjust="spacingAndGlyphs">80</text>
<line x1="271.8" y1="330.9" x2="274.1" y2="330.9" stroke="#222" stroke-width="0.9"/>
<text x="269.6" y="333.9" font-size="9.8" text-anchor="end" font-weight="normal" fill="#1a1a1a" color="#1a1a1a" textLength="14.71" lengthAdjust="spacingAndGlyphs">100</text>
<line x1="271.8" y1="309.8" x2="274.1" y2="309.8" stroke="#222" stroke-width="0.9"/>
<text x="269.6" y="312.8" font-size="9.8" text-anchor="end" font-weight="normal" fill="#1a1a1a" color="#1a1a1a" textLength="14.71" lengthAdjust="spacingAndGlyphs">120</text>
<line x1="271.8" y1="288.7" x2="274.1" y2="288.7" stroke="#222" stroke-width="0.9"/>
<text x="269.6" y="291.7" font-size="9.8" text-anchor="end" font-weight="normal" fill="#1a1a1a" color="#1a1a1a" textLength="14.71" lengthAdjust="spacingAndGlyphs">140</text>
<line x1="272.7" y1="404.75" x2="274.1" y2="404.75" stroke="#222" stroke-width="0.9"/>
<line x1="272.7" y1="383.65" x2="274.1" y2="383.65" stroke="#222" stroke-width="0.9"/>
<line x1="272.7" y1="362.55" x2="274.1" y2="362.55" stroke="#222" stroke-width="0.9"/>
<line x1="272.7" y1="341.45" x2="274.1" y2="341.45" stroke="#222" stroke-width="0.9"/>
<line x1="272.7" y1="320.35" x2="274.1" y2="320.35" stroke="#222" stroke-width="0.9"/>
<line x1="272.7" y1="299.25" x2="274.1" y2="299.25" stroke="#222" stroke-width="0.9"/>
<line x1="295.2" y1="426" x2="295.2" y2="428.2" stroke="#222" stroke-width="0.9"/>
<line x1="337.8" y1="426" x2="337.8" y2="428.2" stroke="#222" stroke-width="0.9"/>
<line x1="380.5" y1="426" x2="380.5" y2="428.2" stroke="#222" stroke-width="0.9"/>
<line x1="423.2" y1="426" x2="423.2" y2="428.2" stroke="#222" stroke-width="0.9"/>
<text x="276.6" y="440.8" font-size="9.3" text-anchor="start" font-weight="normal" fill="#222" color="#222" textLength="80.9" lengthAdjust="spacingAndGlyphs">28% rigidity change</text>
<text x="365.1" y="440.8" font-size="9.3" text-anchor="start" font-weight="normal" fill="#222" color="#222" textLength="81.5" lengthAdjust="spacingAndGlyphs">40% rigidity change</text>
<text transform="translate(246.2,353.8) rotate(-90)" x="0" y="3.31" font-size="9.2" text-anchor="middle" fill="#1a1a1a" color="#1a1a1a" textLength="120" lengthAdjust="spacingAndGlyphs">Cell elongation duration (min)</text>
<line x1="342" y1="294.5" x2="422" y2="294.5" stroke="#222" stroke-width="1"/>
<text x="383" y="295.6" font-size="8.6" text-anchor="middle" font-weight="normal" fill="#111" color="#111" textLength="9.8" lengthAdjust="spacingAndGlyphs">***</text>
<text x="364.4" y="302.9" font-size="6.9" text-anchor="start" font-weight="normal" fill="#222" color="#222" textLength="36" lengthAdjust="spacingAndGlyphs">p=1.6E-267</text>
<path d="M350.8,355.8 H440.6 M350.8,370.4 H440.6 M350.8,355.8 V370.4 M440.6,355.8 V370.4" stroke="#555" stroke-width="0.95" stroke-dasharray="3.2 2.6" fill="none"/>
<path d="M350.8,372.6 H440.6 M350.8,385.8 H440.6 M350.8,372.6 V385.8 M440.6,372.6 V385.8" stroke="#555" stroke-width="0.95" stroke-dasharray="3.2 2.6" fill="none"/>
<circle cx="356.7" cy="359.9" r="1.25" fill="#f28a8b"/>
<circle cx="356.7" cy="365" r="1.25" fill="#73a5e9"/>
<circle cx="356.7" cy="376.3" r="1.25" fill="#ee3e41"/>
<circle cx="356.7" cy="382.4" r="1.25" fill="#1a69dc"/>
<text x="361.8" y="365.8" font-size="8.8" text-anchor="start" font-weight="normal" fill="#222" color="#222" textLength="74.4" lengthAdjust="spacingAndGlyphs">Experimental data</text>
<text x="361.8" y="381.8" font-size="8.8" text-anchor="start" font-weight="normal" fill="#222" color="#222" textLength="72.5" lengthAdjust="spacingAndGlyphs">Simulation results</text>
<line x1="519.3" y1="318.86" x2="547.9" y2="318.86" stroke="#555" stroke-width="1.1"/>
<line x1="561.9" y1="319.5" x2="590.7" y2="319.5" stroke="#9a9a9a" stroke-width="1.1"/>
<line x1="604.4" y1="399.21" x2="633" y2="399.21" stroke="#555" stroke-width="1.1"/>
<line x1="647" y1="399.86" x2="676" y2="399.86" stroke="#9a9a9a" stroke-width="1.1"/>
<g fill="#f28a8b"><circle cx="529.3" cy="318.9" r="1.2"/><circle cx="531.59" cy="311.4" r="1.2"/><circle cx="529.26" cy="313.57" r="1.2"/><circle cx="537.42" cy="313.7" r="1.2"/><circle cx="530.54" cy="307.32" r="1.2"/><circle cx="535.04" cy="327.45" r="1.2"/><circle cx="529.56" cy="323.32" r="1.2"/><circle cx="529.73" cy="328.27" r="1.2"/><circle cx="527.73" cy="319.62" r="1.2"/><circle cx="531.96" cy="311.74" r="1.2"/><circle cx="537.74" cy="319.01" r="1.2"/><circle cx="538.47" cy="315.32" r="1.2"/><circle cx="533.83" cy="332.48" r="1.2"/><circle cx="538.07" cy="317.81" r="1.2"/><circle cx="535.23" cy="325.32" r="1.2"/><circle cx="537.58" cy="306.2" r="1.2"/><circle cx="530.21" cy="312.53" r="1.2"/><circle cx="530.78" cy="312.09" r="1.2"/><circle cx="530.6" cy="319.27" r="1.2"/><circle cx="537.31" cy="314.49" r="1.2"/><circle cx="538.66" cy="314.17" r="1.2"/><circle cx="536.9" cy="321.31" r="1.2"/><circle cx="539.1" cy="322.4" r="1.2"/><circle cx="527.3" cy="319.67" r="1.2"/><circle cx="529.46" cy="323.17" r="1.2"/><circle cx="529.34" cy="323.09" r="1.2"/><circle cx="531.38" cy="320.88" r="1.2"/><circle cx="531.96" cy="324.05" r="1.2"/><circle cx="532.36" cy="313.39" r="1.2"/><circle cx="530.29" cy="330.23" r="1.2"/><circle cx="533.79" cy="312.99" r="1.2"/><circle cx="535.38" cy="323.32" r="1.2"/><circle cx="537.28" cy="322.75" r="1.2"/><circle cx="530.01" cy="328.48" r="1.2"/><circle cx="539.59" cy="319.88" r="1.2"/><circle cx="530.48" cy="320.62" r="1.2"/><circle cx="532.47" cy="317.49" r="1.2"/><circle cx="538.35" cy="322.66" r="1.2"/><circle cx="529.09" cy="318.19" r="1.2"/><circle cx="532.82" cy="305.89" r="1.2"/><circle cx="531.68" cy="315.94" r="1.2"/><circle cx="528.56" cy="322.95" r="1.2"/><circle cx="528.43" cy="312.06" r="1.2"/><circle cx="529.82" cy="319.77" r="1.2"/><circle cx="533.66" cy="314.62" r="1.2"/><circle cx="528.09" cy="314.49" r="1.2"/><circle cx="529.8" cy="321.64" r="1.2"/><circle cx="537.3" cy="332.62" r="1.2"/><circle cx="533.31" cy="321.33" r="1.2"/><circle cx="530.79" cy="314.93" r="1.2"/><circle cx="539.42" cy="321.57" r="1.2"/><circle cx="536.13" cy="315.73" r="1.2"/><circle cx="531.79" cy="311.87" r="1.2"/><circle cx="537.67" cy="322.73" r="1.2"/><circle cx="528.71" cy="310.08" r="1.2"/><circle cx="531.8" cy="307.3" r="1.2"/><circle cx="538.37" cy="311.16" r="1.2"/><circle cx="533.78" cy="310.55" r="1.2"/><circle cx="529.16" cy="311.04" r="1.2"/><circle cx="530.21" cy="302.79" r="1.2"/><circle cx="539.03" cy="317.53" r="1.2"/><circle cx="532" cy="318.84" r="1.2"/><circle cx="538.14" cy="314.56" r="1.2"/><circle cx="530.74" cy="325.33" r="1.2"/><circle cx="534.31" cy="329.93" r="1.2"/><circle cx="530.52" cy="325.14" r="1.2"/><circle cx="537.8" cy="316.2" r="1.2"/><circle cx="537.08" cy="315.48" r="1.2"/><circle cx="538" cy="329.81" r="1.2"/><circle cx="533.43" cy="332.28" r="1.2"/><circle cx="536.77" cy="321.11" r="1.2"/><circle cx="528.39" cy="320.2" r="1.2"/><circle cx="534.92" cy="319.21" r="1.2"/><circle cx="536.37" cy="314.07" r="1.2"/><circle cx="536.05" cy="310.1" r="1.2"/><circle cx="530.72" cy="317.21" r="1.2"/><circle cx="527.73" cy="314.49" r="1.2"/><circle cx="534.75" cy="326.66" r="1.2"/><circle cx="536.22" cy="327.24" r="1.2"/><circle cx="533.97" cy="317.17" r="1.2"/><circle cx="529.7" cy="314.12" r="1.2"/><circle cx="532.39" cy="313.68" r="1.2"/><circle cx="530.21" cy="314.63" r="1.2"/><circle cx="537.87" cy="313.27" r="1.2"/><circle cx="535.57" cy="313.08" r="1.2"/><circle cx="534.49" cy="331.35" r="1.2"/><circle cx="536.07" cy="324.09" r="1.2"/><circle cx="539.41" cy="315.61" r="1.2"/><circle cx="539.02" cy="314.6" r="1.2"/><circle cx="528.84" cy="329.63" r="1.2"/><circle cx="528.73" cy="310.49" r="1.2"/><circle cx="539.56" cy="321.98" r="1.2"/><circle cx="531.9" cy="320.51" r="1.2"/><circle cx="536.42" cy="316.9" r="1.2"/><circle cx="532.09" cy="313.51" r="1.2"/><circle cx="536.4" cy="329.07" r="1.2"/><circle cx="536.26" cy="311.8" r="1.2"/><circle cx="530.93" cy="318.31" r="1.2"/><circle cx="536.11" cy="324.35" r="1.2"/><circle cx="527.57" cy="320.82" r="1.2"/><circle cx="529.83" cy="334.44" r="1.2"/><circle cx="533.65" cy="323.47" r="1.2"/><circle cx="538.74" cy="317.56" r="1.2"/><circle cx="539.31" cy="323.91" r="1.2"/><circle cx="527.89" cy="321.19" r="1.2"/><circle cx="531.34" cy="319.9" r="1.2"/><circle cx="528.87" cy="318.51" r="1.2"/><circle cx="537.72" cy="311.58" r="1.2"/><circle cx="532.2" cy="319.03" r="1.2"/><circle cx="531.21" cy="320.71" r="1.2"/><circle cx="532.73" cy="315.02" r="1.2"/><circle cx="532.55" cy="304.05" r="1.2"/><circle cx="533.81" cy="321.3" r="1.2"/><circle cx="528.43" cy="315.2" r="1.2"/><circle cx="529.69" cy="330.1" r="1.2"/><circle cx="531.16" cy="309.27" r="1.2"/><circle cx="529.03" cy="314.16" r="1.2"/><circle cx="538.2" cy="309.36" r="1.2"/><circle cx="529.14" cy="319.28" r="1.2"/><circle cx="537.75" cy="326.29" r="1.2"/><circle cx="531.26" cy="312.54" r="1.2"/><circle cx="539.23" cy="313.48" r="1.2"/><circle cx="529.51" cy="325.04" r="1.2"/><circle cx="534.24" cy="329.36" r="1.2"/><circle cx="535.99" cy="315.65" r="1.2"/><circle cx="527.56" cy="320.08" r="1.2"/><circle cx="533.87" cy="300.24" r="1.2"/><circle cx="533.47" cy="323.23" r="1.2"/><circle cx="537.18" cy="322.62" r="1.2"/><circle cx="531.83" cy="319.65" r="1.2"/><circle cx="533.44" cy="330.72" r="1.2"/><circle cx="528.14" cy="325.19" r="1.2"/><circle cx="535.28" cy="307.13" r="1.2"/><circle cx="539.36" cy="319.79" r="1.2"/><circle cx="536.85" cy="323.19" r="1.2"/><circle cx="536.55" cy="327.92" r="1.2"/><circle cx="536.55" cy="314.72" r="1.2"/><circle cx="530.31" cy="314.16" r="1.2"/><circle cx="539" cy="317.03" r="1.2"/><circle cx="528.36" cy="321.63" r="1.2"/><circle cx="533.18" cy="316.68" r="1.2"/><circle cx="537.46" cy="316.14" r="1.2"/><circle cx="536.23" cy="323.71" r="1.2"/><circle cx="530.44" cy="314.42" r="1.2"/><circle cx="531.81" cy="333.93" r="1.2"/><circle cx="533.91" cy="328.04" r="1.2"/><circle cx="532.02" cy="321.02" r="1.2"/><circle cx="529.03" cy="319.63" r="1.2"/><circle cx="531.13" cy="327.15" r="1.2"/><circle cx="536.5" cy="316.51" r="1.2"/><circle cx="533.04" cy="311.33" r="1.2"/><circle cx="533.63" cy="315.64" r="1.2"/><circle cx="528.74" cy="317.26" r="1.2"/><circle cx="528.06" cy="312.95" r="1.2"/><circle cx="538.53" cy="315.97" r="1.2"/><circle cx="537.16" cy="327" r="1.2"/><circle cx="533.4" cy="320.3" r="1.2"/><circle cx="535.06" cy="309.65" r="1.2"/><circle cx="533.5" cy="344.78" r="1.2"/><circle cx="534" cy="342.18" r="1.2"/><circle cx="531.5" cy="340.24" r="1.2"/></g>
<g fill="#ee3e41"><circle cx="582.22" cy="324.15" r="1.2"/><circle cx="578.9" cy="329.79" r="1.2"/><circle cx="576.92" cy="339.85" r="1.2"/><circle cx="570.99" cy="317.76" r="1.2"/><circle cx="572.44" cy="305.42" r="1.2"/><circle cx="576.66" cy="324.07" r="1.2"/><circle cx="576.86" cy="317.15" r="1.2"/><circle cx="577.96" cy="317.29" r="1.2"/><circle cx="578.36" cy="321.21" r="1.2"/><circle cx="580.55" cy="319.81" r="1.2"/><circle cx="578.65" cy="319.67" r="1.2"/><circle cx="573.52" cy="327.34" r="1.2"/><circle cx="574.55" cy="318.14" r="1.2"/><circle cx="575.62" cy="306.67" r="1.2"/><circle cx="574.46" cy="326.94" r="1.2"/><circle cx="581.84" cy="322.32" r="1.2"/><circle cx="572.96" cy="311.75" r="1.2"/><circle cx="573.41" cy="329.51" r="1.2"/><circle cx="577.41" cy="330.67" r="1.2"/><circle cx="573.6" cy="317.87" r="1.2"/><circle cx="575.08" cy="335.92" r="1.2"/><circle cx="576.8" cy="307.11" r="1.2"/><circle cx="580.07" cy="314.65" r="1.2"/><circle cx="580.76" cy="318.54" r="1.2"/><circle cx="576.76" cy="315.18" r="1.2"/><circle cx="580.72" cy="327.42" r="1.2"/><circle cx="575.16" cy="327.65" r="1.2"/><circle cx="572.74" cy="313.81" r="1.2"/><circle cx="577.06" cy="312.98" r="1.2"/><circle cx="580.11" cy="319.14" r="1.2"/><circle cx="570.5" cy="320.61" r="1.2"/><circle cx="577.14" cy="324.4" r="1.2"/><circle cx="572.96" cy="309.37" r="1.2"/><circle cx="578.25" cy="331.75" r="1.2"/><circle cx="581.88" cy="326.87" r="1.2"/><circle cx="580.11" cy="324.38" r="1.2"/><circle cx="578.71" cy="332.07" r="1.2"/><circle cx="577.77" cy="330.51" r="1.2"/><circle cx="580.33" cy="328.19" r="1.2"/><circle cx="578.84" cy="312.3" r="1.2"/><circle cx="576.49" cy="306.13" r="1.2"/><circle cx="574.73" cy="317.44" r="1.2"/><circle cx="574.54" cy="332.76" r="1.2"/><circle cx="579.8" cy="324.87" r="1.2"/><circle cx="571.34" cy="321.21" r="1.2"/><circle cx="576.09" cy="322.24" r="1.2"/><circle cx="574.53" cy="323.04" r="1.2"/><circle cx="576.37" cy="316.13" r="1.2"/><circle cx="575.99" cy="335.26" r="1.2"/><circle cx="573.89" cy="324.62" r="1.2"/><circle cx="572.5" cy="318.46" r="1.2"/><circle cx="581.45" cy="314.56" r="1.2"/><circle cx="572.16" cy="317.89" r="1.2"/><circle cx="574.42" cy="319.94" r="1.2"/><circle cx="571.91" cy="321.15" r="1.2"/><circle cx="573.07" cy="325.23" r="1.2"/><circle cx="577.06" cy="319.34" r="1.2"/><circle cx="573.7" cy="321.6" r="1.2"/><circle cx="572.53" cy="325.46" r="1.2"/><circle cx="579.63" cy="310.61" r="1.2"/><circle cx="575.94" cy="310.72" r="1.2"/><circle cx="578.42" cy="322.82" r="1.2"/><circle cx="577.19" cy="315.11" r="1.2"/><circle cx="575.02" cy="310.58" r="1.2"/><circle cx="580.91" cy="317.81" r="1.2"/><circle cx="570.86" cy="318.88" r="1.2"/><circle cx="575.89" cy="316" r="1.2"/><circle cx="572.34" cy="332.67" r="1.2"/><circle cx="579.18" cy="330.95" r="1.2"/><circle cx="577.54" cy="315.76" r="1.2"/><circle cx="579.19" cy="317.68" r="1.2"/><circle cx="580.64" cy="309.18" r="1.2"/><circle cx="582.06" cy="323.66" r="1.2"/><circle cx="580.67" cy="311.26" r="1.2"/><circle cx="579.05" cy="311.56" r="1.2"/><circle cx="579.73" cy="304.47" r="1.2"/><circle cx="580.22" cy="326.01" r="1.2"/><circle cx="579.35" cy="322.53" r="1.2"/><circle cx="574.62" cy="317.63" r="1.2"/><circle cx="577.26" cy="317.7" r="1.2"/><circle cx="575.77" cy="327.51" r="1.2"/><circle cx="579.21" cy="324.18" r="1.2"/><circle cx="579.54" cy="329.87" r="1.2"/><circle cx="574.83" cy="301.81" r="1.2"/><circle cx="575.16" cy="320.27" r="1.2"/><circle cx="577.07" cy="319.83" r="1.2"/><circle cx="571.04" cy="324.52" r="1.2"/><circle cx="579.07" cy="319.55" r="1.2"/><circle cx="572.95" cy="313.62" r="1.2"/><circle cx="573.36" cy="322.32" r="1.2"/><circle cx="576.77" cy="319.97" r="1.2"/><circle cx="578.05" cy="302.88" r="1.2"/><circle cx="574.49" cy="312.58" r="1.2"/><circle cx="577.13" cy="317.91" r="1.2"/><circle cx="573.25" cy="323.02" r="1.2"/><circle cx="571.66" cy="319.93" r="1.2"/><circle cx="575.91" cy="325.53" r="1.2"/><circle cx="574.99" cy="317.65" r="1.2"/><circle cx="578.95" cy="325" r="1.2"/><circle cx="571.37" cy="325.45" r="1.2"/><circle cx="572.06" cy="323" r="1.2"/><circle cx="572.61" cy="328.18" r="1.2"/><circle cx="577.21" cy="318.37" r="1.2"/><circle cx="577.26" cy="324.79" r="1.2"/><circle cx="580.93" cy="332.87" r="1.2"/><circle cx="574.29" cy="312.58" r="1.2"/><circle cx="579.77" cy="320.87" r="1.2"/><circle cx="578.89" cy="304.73" r="1.2"/><circle cx="579.47" cy="317.18" r="1.2"/><circle cx="574.1" cy="312.94" r="1.2"/><circle cx="580.04" cy="326.22" r="1.2"/><circle cx="579.04" cy="332.61" r="1.2"/><circle cx="579.24" cy="321.69" r="1.2"/><circle cx="576.2" cy="315.12" r="1.2"/><circle cx="578.15" cy="327.02" r="1.2"/><circle cx="576.77" cy="332.72" r="1.2"/><circle cx="580.83" cy="325.02" r="1.2"/><circle cx="582.47" cy="323.88" r="1.2"/><circle cx="574.12" cy="323.01" r="1.2"/><circle cx="581.25" cy="320.75" r="1.2"/><circle cx="573.95" cy="301.95" r="1.2"/><circle cx="571.35" cy="320.31" r="1.2"/><circle cx="579.34" cy="324.42" r="1.2"/><circle cx="573.61" cy="329" r="1.2"/><circle cx="571.56" cy="314.39" r="1.2"/><circle cx="574.1" cy="332.89" r="1.2"/><circle cx="581.36" cy="309.4" r="1.2"/><circle cx="572.1" cy="320.69" r="1.2"/><circle cx="575.69" cy="332.3" r="1.2"/><circle cx="582.56" cy="319.23" r="1.2"/><circle cx="570.88" cy="321.55" r="1.2"/><circle cx="580.67" cy="311.16" r="1.2"/><circle cx="573.59" cy="332.3" r="1.2"/><circle cx="578.83" cy="319.12" r="1.2"/><circle cx="570.6" cy="320.82" r="1.2"/><circle cx="571.02" cy="313.58" r="1.2"/><circle cx="574.56" cy="329.51" r="1.2"/><circle cx="573.27" cy="326.75" r="1.2"/><circle cx="575.62" cy="305.46" r="1.2"/><circle cx="576.47" cy="316.41" r="1.2"/><circle cx="572.4" cy="332.18" r="1.2"/><circle cx="577.99" cy="318.21" r="1.2"/><circle cx="581.67" cy="326.84" r="1.2"/><circle cx="579.37" cy="326.08" r="1.2"/><circle cx="578.17" cy="330.2" r="1.2"/><circle cx="577.43" cy="313.12" r="1.2"/><circle cx="572.48" cy="324.91" r="1.2"/><circle cx="574.66" cy="319.21" r="1.2"/><circle cx="578.05" cy="320.16" r="1.2"/><circle cx="574.92" cy="332.53" r="1.2"/><circle cx="575.16" cy="326.52" r="1.2"/><circle cx="574.83" cy="314.81" r="1.2"/><circle cx="578.85" cy="332.91" r="1.2"/><circle cx="577.79" cy="318.84" r="1.2"/><circle cx="572.24" cy="321.57" r="1.2"/><circle cx="579.76" cy="315.74" r="1.2"/><circle cx="576.18" cy="315.43" r="1.2"/><circle cx="573.03" cy="314.34" r="1.2"/><circle cx="577" cy="348.66" r="1.2"/><circle cx="575.5" cy="346.72" r="1.2"/><circle cx="578" cy="344.78" r="1.2"/><circle cx="579.5" cy="340.24" r="1.2"/></g>
<g fill="#73a5e9"><circle cx="615.69" cy="395.78" r="1.2"/><circle cx="619.45" cy="388.85" r="1.2"/><circle cx="615.48" cy="397.34" r="1.2"/><circle cx="619.64" cy="398.17" r="1.2"/><circle cx="616.33" cy="405.67" r="1.2"/><circle cx="613.79" cy="389.69" r="1.2"/><circle cx="616.72" cy="390.32" r="1.2"/><circle cx="614.44" cy="407.59" r="1.2"/><circle cx="623.06" cy="397.96" r="1.2"/><circle cx="615.9" cy="401.11" r="1.2"/><circle cx="616.68" cy="410.18" r="1.2"/><circle cx="614.53" cy="385.92" r="1.2"/><circle cx="619.14" cy="389.24" r="1.2"/><circle cx="613.12" cy="396" r="1.2"/><circle cx="619.81" cy="387.43" r="1.2"/><circle cx="622.57" cy="402.46" r="1.2"/><circle cx="621.46" cy="396.3" r="1.2"/><circle cx="622.26" cy="387.92" r="1.2"/><circle cx="619.64" cy="400.76" r="1.2"/><circle cx="615.49" cy="396.09" r="1.2"/><circle cx="623" cy="406.03" r="1.2"/><circle cx="619.48" cy="393.4" r="1.2"/><circle cx="624.16" cy="389.43" r="1.2"/><circle cx="623.12" cy="406.15" r="1.2"/><circle cx="616.91" cy="404.7" r="1.2"/><circle cx="624.39" cy="399.11" r="1.2"/><circle cx="622.31" cy="387.66" r="1.2"/><circle cx="622.43" cy="402.59" r="1.2"/><circle cx="624.28" cy="405.15" r="1.2"/><circle cx="623.88" cy="399.5" r="1.2"/><circle cx="620.94" cy="389.78" r="1.2"/><circle cx="621.24" cy="410.64" r="1.2"/><circle cx="617.54" cy="400.05" r="1.2"/><circle cx="622.38" cy="388.52" r="1.2"/><circle cx="621.65" cy="399" r="1.2"/><circle cx="617.63" cy="400.99" r="1.2"/><circle cx="618" cy="392.12" r="1.2"/><circle cx="620.58" cy="408.24" r="1.2"/><circle cx="618" cy="382.8" r="1.2"/><circle cx="621.95" cy="395.1" r="1.2"/><circle cx="615.64" cy="401.85" r="1.2"/><circle cx="614.24" cy="398.24" r="1.2"/><circle cx="613.6" cy="399.43" r="1.2"/><circle cx="619.37" cy="401.22" r="1.2"/><circle cx="617.65" cy="408.53" r="1.2"/><circle cx="621.8" cy="400.93" r="1.2"/><circle cx="615.78" cy="412.45" r="1.2"/><circle cx="622.5" cy="388.33" r="1.2"/><circle cx="617.54" cy="407.88" r="1.2"/><circle cx="623.29" cy="404.84" r="1.2"/><circle cx="624.09" cy="405.34" r="1.2"/><circle cx="620.71" cy="393.54" r="1.2"/><circle cx="623.8" cy="400.72" r="1.2"/><circle cx="620.04" cy="388" r="1.2"/><circle cx="622.27" cy="402.76" r="1.2"/><circle cx="624.81" cy="398.03" r="1.2"/><circle cx="612.86" cy="399.71" r="1.2"/><circle cx="621.85" cy="401.85" r="1.2"/><circle cx="620.54" cy="390.51" r="1.2"/><circle cx="621.19" cy="389.63" r="1.2"/><circle cx="615.39" cy="388.98" r="1.2"/><circle cx="614.37" cy="409.98" r="1.2"/><circle cx="616.48" cy="396.5" r="1.2"/><circle cx="618.61" cy="407.96" r="1.2"/><circle cx="617.59" cy="408.18" r="1.2"/><circle cx="617.56" cy="413.26" r="1.2"/><circle cx="616.3" cy="406.57" r="1.2"/><circle cx="619.75" cy="394.56" r="1.2"/><circle cx="616.16" cy="388.37" r="1.2"/><circle cx="622.53" cy="385.7" r="1.2"/><circle cx="623.06" cy="406.28" r="1.2"/><circle cx="623.56" cy="404.07" r="1.2"/><circle cx="618.5" cy="397.39" r="1.2"/><circle cx="616.12" cy="398.07" r="1.2"/><circle cx="620.84" cy="397.52" r="1.2"/><circle cx="623.18" cy="412.86" r="1.2"/><circle cx="618.41" cy="400.7" r="1.2"/><circle cx="622.19" cy="394.69" r="1.2"/><circle cx="615.03" cy="397.17" r="1.2"/><circle cx="613.98" cy="400.15" r="1.2"/><circle cx="618.43" cy="404.87" r="1.2"/><circle cx="620.58" cy="399.95" r="1.2"/><circle cx="621.2" cy="386.78" r="1.2"/><circle cx="617.35" cy="395.32" r="1.2"/><circle cx="615.64" cy="391.04" r="1.2"/><circle cx="622.3" cy="386.32" r="1.2"/><circle cx="621.39" cy="407.7" r="1.2"/><circle cx="618.18" cy="394.03" r="1.2"/><circle cx="621.19" cy="395.66" r="1.2"/><circle cx="618.29" cy="388.95" r="1.2"/><circle cx="624.62" cy="401.16" r="1.2"/><circle cx="620.28" cy="400.99" r="1.2"/><circle cx="621.99" cy="404.43" r="1.2"/><circle cx="625.27" cy="397.92" r="1.2"/><circle cx="623.58" cy="401.54" r="1.2"/><circle cx="621.17" cy="400.57" r="1.2"/><circle cx="619.8" cy="396.79" r="1.2"/><circle cx="621.59" cy="402.35" r="1.2"/><circle cx="616.2" cy="406.63" r="1.2"/><circle cx="617.87" cy="402.61" r="1.2"/><circle cx="621.38" cy="403.7" r="1.2"/><circle cx="616.82" cy="396.12" r="1.2"/><circle cx="618.19" cy="389.76" r="1.2"/><circle cx="622.1" cy="402.11" r="1.2"/><circle cx="620.82" cy="394.92" r="1.2"/><circle cx="621.23" cy="399.96" r="1.2"/><circle cx="614.65" cy="406.81" r="1.2"/><circle cx="619.47" cy="401.44" r="1.2"/><circle cx="615.14" cy="385.05" r="1.2"/><circle cx="614.99" cy="411.11" r="1.2"/><circle cx="621.34" cy="408.55" r="1.2"/><circle cx="620.56" cy="400" r="1.2"/><circle cx="617.7" cy="403.11" r="1.2"/><circle cx="618.79" cy="391.96" r="1.2"/><circle cx="622.22" cy="395.32" r="1.2"/><circle cx="613.63" cy="396.63" r="1.2"/><circle cx="619.23" cy="402.16" r="1.2"/><circle cx="618.47" cy="400.8" r="1.2"/><circle cx="615.42" cy="397.71" r="1.2"/><circle cx="620.47" cy="389.05" r="1.2"/><circle cx="622.24" cy="409.3" r="1.2"/><circle cx="618.64" cy="397.61" r="1.2"/><circle cx="622.17" cy="396.71" r="1.2"/><circle cx="623.39" cy="398.33" r="1.2"/><circle cx="623.94" cy="402.8" r="1.2"/><circle cx="623.5" cy="388.2" r="1.2"/><circle cx="620.72" cy="395.22" r="1.2"/><circle cx="621.46" cy="405.6" r="1.2"/><circle cx="619.51" cy="392.71" r="1.2"/><circle cx="615.44" cy="414.12" r="1.2"/><circle cx="623.08" cy="394.99" r="1.2"/><circle cx="625.12" cy="396.84" r="1.2"/><circle cx="624.86" cy="404.31" r="1.2"/><circle cx="624.46" cy="407.47" r="1.2"/><circle cx="623.47" cy="412.47" r="1.2"/><circle cx="617.53" cy="401.27" r="1.2"/><circle cx="614.81" cy="386.07" r="1.2"/><circle cx="614.92" cy="392.83" r="1.2"/><circle cx="613.24" cy="396.35" r="1.2"/><circle cx="616.38" cy="392.35" r="1.2"/><circle cx="616.48" cy="404.15" r="1.2"/><circle cx="615.29" cy="395.44" r="1.2"/><circle cx="620.85" cy="403.38" r="1.2"/><circle cx="621.53" cy="403.32" r="1.2"/><circle cx="621.84" cy="400.13" r="1.2"/><circle cx="624.56" cy="400.95" r="1.2"/><circle cx="621.82" cy="395.05" r="1.2"/><circle cx="616.42" cy="404.47" r="1.2"/><circle cx="617.33" cy="392.46" r="1.2"/><circle cx="617.94" cy="401.59" r="1.2"/><circle cx="620.8" cy="392.88" r="1.2"/><circle cx="615.76" cy="398.77" r="1.2"/><circle cx="623.78" cy="393.07" r="1.2"/><circle cx="615.23" cy="396.1" r="1.2"/><circle cx="620.85" cy="404.39" r="1.2"/><circle cx="620.75" cy="398.26" r="1.2"/><circle cx="619.32" cy="409.86" r="1.2"/><circle cx="622.21" cy="399.35" r="1.2"/><circle cx="620" cy="382.36" r="1.2"/><circle cx="617" cy="383.66" r="1.2"/></g>
<g fill="#1a69dc"><circle cx="656.28" cy="396.46" r="1.2"/><circle cx="664.28" cy="416.16" r="1.2"/><circle cx="661.62" cy="403.82" r="1.2"/><circle cx="662.62" cy="393.87" r="1.2"/><circle cx="667.19" cy="406.54" r="1.2"/><circle cx="666.9" cy="390.5" r="1.2"/><circle cx="658.44" cy="389.42" r="1.2"/><circle cx="660.03" cy="406.77" r="1.2"/><circle cx="659.31" cy="405.65" r="1.2"/><circle cx="660.79" cy="390.11" r="1.2"/><circle cx="661.57" cy="411.89" r="1.2"/><circle cx="666.18" cy="407.55" r="1.2"/><circle cx="662.78" cy="411.79" r="1.2"/><circle cx="659.77" cy="399.61" r="1.2"/><circle cx="661.54" cy="397.18" r="1.2"/><circle cx="661.35" cy="396.21" r="1.2"/><circle cx="660.95" cy="397.73" r="1.2"/><circle cx="661.94" cy="410.13" r="1.2"/><circle cx="663.31" cy="391.13" r="1.2"/><circle cx="655.85" cy="400.26" r="1.2"/><circle cx="659.24" cy="402.73" r="1.2"/><circle cx="660.26" cy="387.15" r="1.2"/><circle cx="663.09" cy="398.91" r="1.2"/><circle cx="656.27" cy="397.23" r="1.2"/><circle cx="658.74" cy="393.65" r="1.2"/><circle cx="663.96" cy="384.97" r="1.2"/><circle cx="659.78" cy="399.94" r="1.2"/><circle cx="666.48" cy="394.76" r="1.2"/><circle cx="662.3" cy="417.07" r="1.2"/><circle cx="664.63" cy="407.07" r="1.2"/><circle cx="662.53" cy="384.65" r="1.2"/><circle cx="658.57" cy="385.16" r="1.2"/><circle cx="663.93" cy="401" r="1.2"/><circle cx="660.73" cy="406.48" r="1.2"/><circle cx="662.24" cy="409.98" r="1.2"/><circle cx="659.2" cy="408.76" r="1.2"/><circle cx="656.98" cy="404.16" r="1.2"/><circle cx="659.69" cy="412.66" r="1.2"/><circle cx="659.14" cy="400.72" r="1.2"/><circle cx="659.36" cy="401.17" r="1.2"/><circle cx="657.45" cy="409.04" r="1.2"/><circle cx="659.16" cy="409.54" r="1.2"/><circle cx="658.63" cy="408.58" r="1.2"/><circle cx="664.02" cy="403.54" r="1.2"/><circle cx="656.95" cy="401.56" r="1.2"/><circle cx="657.71" cy="395.75" r="1.2"/><circle cx="665.13" cy="412.85" r="1.2"/><circle cx="668.07" cy="402.52" r="1.2"/><circle cx="667.39" cy="399.71" r="1.2"/><circle cx="666.99" cy="397.58" r="1.2"/><circle cx="658.92" cy="393.65" r="1.2"/><circle cx="663.43" cy="402.93" r="1.2"/><circle cx="660.63" cy="390.79" r="1.2"/><circle cx="662.17" cy="383.01" r="1.2"/><circle cx="658.88" cy="396.62" r="1.2"/><circle cx="660.19" cy="388.41" r="1.2"/><circle cx="656.9" cy="392.63" r="1.2"/><circle cx="658.7" cy="396.49" r="1.2"/><circle cx="660.09" cy="401.34" r="1.2"/><circle cx="658.18" cy="397.86" r="1.2"/><circle cx="660.36" cy="384.62" r="1.2"/><circle cx="660.39" cy="399.16" r="1.2"/><circle cx="665.22" cy="405.39" r="1.2"/><circle cx="662.7" cy="403.33" r="1.2"/><circle cx="658.27" cy="393.94" r="1.2"/><circle cx="666.2" cy="404.34" r="1.2"/><circle cx="663.06" cy="392.93" r="1.2"/><circle cx="662.1" cy="394.24" r="1.2"/><circle cx="657.56" cy="397.92" r="1.2"/><circle cx="659.48" cy="387.4" r="1.2"/><circle cx="665.53" cy="409.17" r="1.2"/><circle cx="665.44" cy="403.63" r="1.2"/><circle cx="663.3" cy="400.87" r="1.2"/><circle cx="667.29" cy="396.72" r="1.2"/><circle cx="666.4" cy="409.53" r="1.2"/><circle cx="666.24" cy="403.83" r="1.2"/><circle cx="659.12" cy="390.09" r="1.2"/><circle cx="659.75" cy="402.6" r="1.2"/><circle cx="662.82" cy="392.94" r="1.2"/><circle cx="667.16" cy="401.46" r="1.2"/><circle cx="658.56" cy="405.28" r="1.2"/><circle cx="658.49" cy="396" r="1.2"/><circle cx="663.7" cy="390.21" r="1.2"/><circle cx="660.22" cy="400.18" r="1.2"/><circle cx="658.64" cy="409.46" r="1.2"/><circle cx="661.93" cy="405.58" r="1.2"/><circle cx="660.44" cy="403.19" r="1.2"/><circle cx="667.59" cy="401.84" r="1.2"/><circle cx="666.51" cy="406.83" r="1.2"/><circle cx="658.88" cy="394.9" r="1.2"/><circle cx="657.66" cy="407.74" r="1.2"/><circle cx="665.27" cy="392.76" r="1.2"/><circle cx="656.82" cy="407.72" r="1.2"/><circle cx="665.47" cy="407.14" r="1.2"/><circle cx="657.63" cy="391.73" r="1.2"/><circle cx="667.57" cy="394.77" r="1.2"/><circle cx="660.37" cy="402.5" r="1.2"/><circle cx="664.21" cy="404.4" r="1.2"/><circle cx="663.52" cy="401.67" r="1.2"/><circle cx="655.87" cy="399.67" r="1.2"/><circle cx="658.39" cy="398.18" r="1.2"/><circle cx="659.83" cy="392.34" r="1.2"/><circle cx="659.73" cy="406.07" r="1.2"/><circle cx="662.23" cy="399.95" r="1.2"/><circle cx="664.1" cy="399.53" r="1.2"/><circle cx="659.52" cy="410.01" r="1.2"/><circle cx="657.77" cy="391.46" r="1.2"/><circle cx="657.61" cy="387.73" r="1.2"/><circle cx="662.94" cy="400.06" r="1.2"/><circle cx="663.84" cy="412.88" r="1.2"/><circle cx="657.24" cy="406.02" r="1.2"/><circle cx="664.83" cy="393.21" r="1.2"/><circle cx="661.02" cy="414.98" r="1.2"/><circle cx="659.57" cy="414.74" r="1.2"/><circle cx="667.14" cy="403.89" r="1.2"/><circle cx="659.35" cy="396.75" r="1.2"/><circle cx="658.86" cy="394.11" r="1.2"/><circle cx="666.2" cy="392.77" r="1.2"/><circle cx="664.9" cy="417.53" r="1.2"/><circle cx="658.6" cy="404.51" r="1.2"/><circle cx="666.79" cy="407.35" r="1.2"/><circle cx="665.41" cy="407.43" r="1.2"/><circle cx="666.39" cy="394.57" r="1.2"/><circle cx="663.29" cy="397.17" r="1.2"/><circle cx="662.67" cy="405.64" r="1.2"/><circle cx="665" cy="398.58" r="1.2"/><circle cx="663.99" cy="398.68" r="1.2"/><circle cx="662.49" cy="390.93" r="1.2"/><circle cx="656.98" cy="404.2" r="1.2"/><circle cx="659.28" cy="395.6" r="1.2"/><circle cx="656.77" cy="405.38" r="1.2"/><circle cx="660.21" cy="396.93" r="1.2"/><circle cx="665.19" cy="400.39" r="1.2"/><circle cx="664.19" cy="398.19" r="1.2"/><circle cx="664.4" cy="400.09" r="1.2"/><circle cx="663.24" cy="389.09" r="1.2"/><circle cx="667.42" cy="405" r="1.2"/><circle cx="665.55" cy="406.6" r="1.2"/><circle cx="659.37" cy="403.85" r="1.2"/><circle cx="665.2" cy="396.47" r="1.2"/><circle cx="662.78" cy="394.63" r="1.2"/><circle cx="658.74" cy="400.07" r="1.2"/><circle cx="665.17" cy="404.39" r="1.2"/><circle cx="662.34" cy="402.53" r="1.2"/><circle cx="664.58" cy="404.49" r="1.2"/><circle cx="664.63" cy="396.01" r="1.2"/><circle cx="664.28" cy="399.64" r="1.2"/><circle cx="657.83" cy="397.88" r="1.2"/><circle cx="661.98" cy="399.05" r="1.2"/><circle cx="668.01" cy="398.96" r="1.2"/><circle cx="662.12" cy="391.37" r="1.2"/><circle cx="660.72" cy="402.9" r="1.2"/><circle cx="660.24" cy="396.53" r="1.2"/><circle cx="661.92" cy="396.29" r="1.2"/><circle cx="662.04" cy="404.64" r="1.2"/><circle cx="658.46" cy="388.06" r="1.2"/><circle cx="659.06" cy="397.98" r="1.2"/><circle cx="661.67" cy="407.59" r="1.2"/><circle cx="662" cy="421.24" r="1.2"/></g>
<line x1="512.4" y1="289" x2="682.2" y2="289" stroke="#8a8a8a" stroke-width="1.7"/>
<line x1="512.4" y1="426" x2="682.2" y2="426" stroke="#8a8a8a" stroke-width="1.6"/>
<line x1="512.4" y1="289" x2="512.4" y2="426" stroke="#333" stroke-width="1.1"/>
<line x1="682.2" y1="289" x2="682.2" y2="426" stroke="#333" stroke-width="1.2"/>
<line x1="510.1" y1="418" x2="512.4" y2="418" stroke="#222" stroke-width="0.9"/>
<text x="506.1" y="421" font-size="9.8" text-anchor="end" font-weight="normal" fill="#1a1a1a" color="#1a1a1a" textLength="12.26" lengthAdjust="spacingAndGlyphs">2.0</text>
<line x1="510.1" y1="385.6" x2="512.4" y2="385.6" stroke="#222" stroke-width="0.9"/>
<text x="506.1" y="388.6" font-size="9.8" text-anchor="end" font-weight="normal" fill="#1a1a1a" color="#1a1a1a" textLength="12.26" lengthAdjust="spacingAndGlyphs">2.5</text>
<line x1="510.1" y1="353.2" x2="512.4" y2="353.2" stroke="#222" stroke-width="0.9"/>
<text x="506.1" y="356.2" font-size="9.8" text-anchor="end" font-weight="normal" fill="#1a1a1a" color="#1a1a1a" textLength="12.26" lengthAdjust="spacingAndGlyphs">3.0</text>
<line x1="510.1" y1="320.8" x2="512.4" y2="320.8" stroke="#222" stroke-width="0.9"/>
<text x="506.1" y="323.8" font-size="9.8" text-anchor="end" font-weight="normal" fill="#1a1a1a" color="#1a1a1a" textLength="12.26" lengthAdjust="spacingAndGlyphs">3.5</text>
<line x1="510.1" y1="288.4" x2="512.4" y2="288.4" stroke="#222" stroke-width="0.9"/>
<text x="506.1" y="291.4" font-size="9.8" text-anchor="end" font-weight="normal" fill="#1a1a1a" color="#1a1a1a" textLength="12.26" lengthAdjust="spacingAndGlyphs">4.0</text>
<line x1="511" y1="401.8" x2="512.4" y2="401.8" stroke="#222" stroke-width="0.9"/>
<line x1="511" y1="369.4" x2="512.4" y2="369.4" stroke="#222" stroke-width="0.9"/>
<line x1="511" y1="337" x2="512.4" y2="337" stroke="#222" stroke-width="0.9"/>
<line x1="511" y1="304.6" x2="512.4" y2="304.6" stroke="#222" stroke-width="0.9"/>
<line x1="533.4" y1="426" x2="533.4" y2="428.2" stroke="#222" stroke-width="0.9"/>
<line x1="576.5" y1="426" x2="576.5" y2="428.2" stroke="#222" stroke-width="0.9"/>
<line x1="618.8" y1="426" x2="618.8" y2="428.2" stroke="#222" stroke-width="0.9"/>
<line x1="661.9" y1="426" x2="661.9" y2="428.2" stroke="#222" stroke-width="0.9"/>
<text x="515" y="440.8" font-size="9.3" text-anchor="start" font-weight="normal" fill="#222" color="#222" textLength="81.4" lengthAdjust="spacingAndGlyphs">28% rigidity change</text>
<text x="603.5" y="440.8" font-size="9.3" text-anchor="start" font-weight="normal" fill="#222" color="#222" textLength="81.5" lengthAdjust="spacingAndGlyphs">40% rigidity change</text>
<text transform="translate(484.2,357.3) rotate(-90)" x="0" y="3.31" font-size="9.2" text-anchor="middle" fill="#1a1a1a" color="#1a1a1a" textLength="141.5" lengthAdjust="spacingAndGlyphs">Maximum cell elongation (×100%)</text>
<line x1="579.5" y1="298.5" x2="659.7" y2="298.5" stroke="#222" stroke-width="1"/>
<text x="621.2" y="299.6" font-size="8.6" text-anchor="middle" font-weight="normal" fill="#111" color="#111" textLength="9.8" lengthAdjust="spacingAndGlyphs">***</text>
<text x="603.9" y="308.1" font-size="6.9" text-anchor="start" font-weight="normal" fill="#222" color="#222" textLength="34" lengthAdjust="spacingAndGlyphs">p=5.7E-271</text>
<path d="M517.5,355.8 H606.8 M517.5,369.4 H606.8 M517.5,355.8 V369.4 M606.8,355.8 V369.4" stroke="#555" stroke-width="0.95" stroke-dasharray="3.2 2.6" fill="none"/>
<path d="M517.5,371.9 H606.8 M517.5,385.6 H606.8 M517.5,371.9 V385.6 M606.8,371.9 V385.6" stroke="#555" stroke-width="0.95" stroke-dasharray="3.2 2.6" fill="none"/>
<circle cx="523.7" cy="360.2" r="1.25" fill="#f28a8b"/>
<circle cx="523.7" cy="365.2" r="1.25" fill="#73a5e9"/>
<circle cx="523.7" cy="376.1" r="1.25" fill="#ee3e41"/>
<circle cx="523.7" cy="381.8" r="1.25" fill="#1a69dc"/>
<text x="527.9" y="366.2" font-size="8.8" text-anchor="start" font-weight="normal" fill="#222" color="#222" textLength="75.2" lengthAdjust="spacingAndGlyphs">Experimental data</text>
<text x="527.9" y="381.8" font-size="8.8" text-anchor="start" font-weight="normal" fill="#222" color="#222" textLength="72.7" lengthAdjust="spacingAndGlyphs">Simulation results</text>
<path d="M39.4,615.2 L40.78,614.12 L42.17,613.03 L43.55,611.91 L44.93,610.84 L46.31,609.75 L47.7,608.65 L49.08,607.74 L50.46,606.65 L51.85,605.51 L53.23,604.46 L54.61,603.36 L56,602.23 L57.38,601.31 L58.76,600.12 L60.14,599.19 L61.53,597.93 L62.91,596.52 L64.29,595.71 L65.68,594.46 L67.06,593.28 L68.44,592.37 L69.83,591.14 L71.21,590.11 L72.59,588.94 L73.97,588.05 L75.36,587.11 L76.74,585.87 L78.12,584.73 L79.51,583.38 L80.89,582.42 L82.27,581.42 L83.66,580.35 L85.04,578.88 L86.42,578.17 L87.81,576.55 L89.19,576.15 L90.57,574.94 L91.95,573.42 L93.34,572.47 L94.72,571.77 L96.1,570.38 L97.49,569.5 L98.87,567.84 L100.25,566.93 L101.63,566.28 L103.02,564.93 L104.4,564.11 L105.78,562.91 L107.17,561.79 L108.55,560.96 L109.93,559.37 L111.32,558.12 L112.7,557.16 L114.08,555.67 L115.47,555.31 L116.85,554.81 L118.23,553.32 L119.61,551.93 L121,551.03 L122.38,549.77 L123.76,548.57 L125.15,547.99 L126.53,546.98 L127.91,546.23 L129.29,544.06 L130.68,543.61 L132.06,542.94 L133.44,541.88 L134.83,540.5 L136.21,538.45 L137.59,537.91 L138.98,538.06 L140.36,536.14 L141.74,534.86 L143.12,533.54 L144.51,532.54 L145.89,531.82 L147.27,530.16 L148.66,529.7 L150.04,529.59 L151.42,527.72 L152.81,526.44 L154.19,524.19 L155.57,522.92 L156.96,523.18 L158.34,521.19 L159.72,519.98 L161.1,519.81 L162.49,519.18 L163.87,517.07 L165.25,515.66 L166.64,515.13 L168.02,515.66 L169.4,512.55 L170.78,511.79 L172.17,511.18 L173.55,509.7 L174.93,509.25 L176.32,506.74 L177.7,506.41 L179.08,505.82 L180.47,504.13 L181.85,503.01 L183.23,503.28 L184.62,501.7 L186,501.15 L187.38,501.04 L188.76,498.94 L190.15,496.63 L191.53,496.32 L192.91,493.72 L194.3,492.2 L195.68,492.79 L197.06,491.02 L198.44,488.69 L199.83,489.33 L201.21,488.94 L202.59,487.66 L203.98,487.45 L205.36,486.36 L205.36,514.8 L203.98,515.02 L202.59,514.92 L201.21,517.11 L199.83,518.57 L198.44,518.56 L197.06,519.94 L195.68,521.19 L194.3,522.19 L192.91,523.3 L191.53,523.24 L190.15,526.39 L188.76,527.92 L187.38,525.35 L186,527.42 L184.62,527.17 L183.23,530.15 L181.85,529.06 L180.47,531.21 L179.08,531.49 L177.7,533.45 L176.32,534.05 L174.93,533.93 L173.55,535.04 L172.17,535.73 L170.78,536.31 L169.4,537.55 L168.02,538.63 L166.64,539.21 L165.25,540.57 L163.87,540.85 L162.49,541.35 L161.1,542.67 L159.72,544.59 L158.34,544.62 L156.96,545.54 L155.57,546.15 L154.19,548.28 L152.81,548.3 L151.42,548.88 L150.04,549.58 L148.66,550.52 L147.27,552 L145.89,553.7 L144.51,553.48 L143.12,554.67 L141.74,555.34 L140.36,556.26 L138.98,556.76 L137.59,557.5 L136.21,558.37 L134.83,558.74 L133.44,560.78 L132.06,561.61 L130.68,562.11 L129.29,563.06 L127.91,563.21 L126.53,565.19 L125.15,564.79 L123.76,565.75 L122.38,566.48 L121,567.36 L119.61,567.38 L118.23,569.78 L116.85,569.7 L115.47,570.57 L114.08,571.39 L112.7,571.91 L111.32,572.76 L109.93,573.43 L108.55,574.6 L107.17,575.81 L105.78,576.17 L104.4,577.23 L103.02,577.74 L101.63,579.67 L100.25,579.3 L98.87,579.95 L97.49,581.25 L96.1,581.95 L94.72,582.66 L93.34,583.51 L91.95,584.44 L90.57,584.61 L89.19,585.97 L87.81,586.99 L86.42,588 L85.04,588.38 L83.66,589.06 L82.27,590.2 L80.89,590.83 L79.51,591.38 L78.12,592.38 L76.74,592.89 L75.36,594.08 L73.97,594.91 L72.59,595.52 L71.21,596.45 L69.83,597.41 L68.44,598.09 L67.06,599.01 L65.68,599.64 L64.29,600.36 L62.91,601.28 L61.53,602.23 L60.14,602.93 L58.76,603.71 L57.38,604.41 L56,605.46 L54.61,606.34 L53.23,607.06 L51.85,607.86 L50.46,608.71 L49.08,609.63 L47.7,610.35 L46.31,611.1 L44.93,611.93 L43.55,612.72 L42.17,613.54 L40.78,614.39 L39.4,615.2Z" fill="#cfe0f7" opacity="1"/>
<path d="M39.4,615.2 L40.78,614.6 L42.17,614.01 L43.55,613.38 L44.93,612.75 L46.31,612.17 L47.7,611.52 L49.08,610.99 L50.46,610.34 L51.85,609.69 L53.23,609.15 L54.61,608.53 L56,607.86 L57.38,607.34 L58.76,606.77 L60.14,606.03 L61.53,605.43 L62.91,604.93 L64.29,604.21 L65.68,603.7 L67.06,602.93 L68.44,602.36 L69.83,601.77 L71.21,601.25 L72.59,600.56 L73.97,599.99 L75.36,599.14 L76.74,598.78 L78.12,598.39 L79.51,597.3 L80.89,597.27 L82.27,596.17 L83.66,595.87 L85.04,594.87 L86.42,594.49 L87.81,593.81 L89.19,593.34 L90.57,592.71 L91.95,591.94 L93.34,591.67 L94.72,590.78 L96.1,590.45 L97.49,589.74 L98.87,589.15 L100.25,588.43 L101.63,587.56 L103.02,587.39 L104.4,586.68 L105.78,586.09 L107.17,585.25 L108.55,584.41 L109.93,584.19 L111.32,583.46 L112.7,582.86 L114.08,581.97 L115.47,581.93 L116.85,580.57 L118.23,579.89 L119.61,579.9 L121,579.05 L122.38,578.66 L123.76,577.5 L125.15,577.01 L126.53,575.82 L127.91,576.17 L129.29,575.67 L130.68,574.92 L132.06,574.52 L133.44,573.37 L134.83,572.79 L136.21,571.93 L137.59,571.57 L138.98,570.98 L140.36,569.72 L141.74,569.46 L143.12,568.88 L144.51,568.88 L145.89,568.08 L147.27,567.35 L148.66,566.76 L150.04,566.92 L151.42,565.06 L152.81,564.9 L154.19,563.9 L155.57,563.11 L156.96,562.12 L158.34,561.92 L159.72,561.24 L161.1,561.33 L162.49,560.42 L163.87,559.11 L165.25,559.96 L166.64,558.73 L168.02,557.62 L169.4,556.57 L170.78,557.29 L172.17,556.5 L173.55,555.43 L174.93,553.42 L176.32,554.67 L177.7,553.47 L179.08,552.4 L180.47,552.42 L181.85,551.29 L183.23,550.64 L184.62,550.41 L186,549.41 L187.38,548.04 L188.76,548.32 L190.15,547.74 L191.53,547.38 L192.91,546.18 L194.3,545.14 L195.68,545.33 L197.06,544.48 L198.44,542.48 L199.83,544.01 L201.21,543.68 L202.59,542.5 L203.98,542.13 L205.36,540.8 L205.36,557.34 L203.98,558.16 L202.59,558.12 L201.21,559.02 L199.83,559.47 L198.44,560.61 L197.06,560.84 L195.68,561.07 L194.3,561.02 L192.91,562.4 L191.53,563.25 L190.15,563.04 L188.76,563.87 L187.38,564.36 L186,565.02 L184.62,565.17 L183.23,566.51 L181.85,566.26 L180.47,567.56 L179.08,566.87 L177.7,567.75 L176.32,568.22 L174.93,569.78 L173.55,569.71 L172.17,570.92 L170.78,570.56 L169.4,570.54 L168.02,572.04 L166.64,571.67 L165.25,573.37 L163.87,572.9 L162.49,573.17 L161.1,573.16 L159.72,574.09 L158.34,574.28 L156.96,575.04 L155.57,575.34 L154.19,575.7 L152.81,577 L151.42,577.05 L150.04,576.79 L148.66,576.4 L147.27,577.64 L145.89,579.08 L144.51,579.57 L143.12,579 L141.74,580.57 L140.36,580.16 L138.98,581.26 L137.59,581.54 L136.21,581.59 L134.83,582.5 L133.44,582.99 L132.06,583.24 L130.68,584.46 L129.29,584.06 L127.91,584.97 L126.53,585.68 L125.15,585.92 L123.76,586.1 L122.38,586.54 L121,587.6 L119.61,587.79 L118.23,588.23 L116.85,588.91 L115.47,589.73 L114.08,589.82 L112.7,590.72 L111.32,590.73 L109.93,591.23 L108.55,591.58 L107.17,592.04 L105.78,592.38 L104.4,592.87 L103.02,594.19 L101.63,594.42 L100.25,594.96 L98.87,595.29 L97.49,595.71 L96.1,595.89 L94.72,596.4 L93.34,596.79 L91.95,597.4 L90.57,597.73 L89.19,598.3 L87.81,598.73 L86.42,599.18 L85.04,600.11 L83.66,600.44 L82.27,600.97 L80.89,601.26 L79.51,601.56 L78.12,602.4 L76.74,603.01 L75.36,603.14 L73.97,603.73 L72.59,604.13 L71.21,604.68 L69.83,605.13 L68.44,605.57 L67.06,606.05 L65.68,606.68 L64.29,606.94 L62.91,607.46 L61.53,607.89 L60.14,608.39 L58.76,608.87 L57.38,609.2 L56,609.66 L54.61,610.09 L53.23,610.59 L51.85,611.08 L50.46,611.53 L49.08,611.99 L47.7,612.45 L46.31,612.93 L44.93,613.36 L43.55,613.83 L42.17,614.27 L40.78,614.74 L39.4,615.2Z" fill="#f9dadb" opacity="1"/>
<line x1="39.4" y1="615.2" x2="205.36" y2="551.66" stroke="#e84a4f" stroke-width="1.1"/>
<line x1="39.4" y1="615.2" x2="205.36" y2="501.28" stroke="#2f78dc" stroke-width="1.1"/>
<g fill="#fff" fill-opacity="0.7" stroke="#e84a4f" stroke-width="1.0"><circle cx="39.4" cy="615.24" r="1.42"/><circle cx="41.47" cy="614.04" r="1.42"/><circle cx="43.55" cy="613.61" r="1.42"/><circle cx="45.62" cy="612.65" r="1.42"/><circle cx="47.7" cy="611.92" r="1.42"/><circle cx="49.77" cy="611.51" r="1.42"/><circle cx="51.85" cy="610.19" r="1.42"/><circle cx="53.92" cy="609.72" r="1.42"/><circle cx="56" cy="608.63" r="1.42"/><circle cx="58.07" cy="608.48" r="1.42"/><circle cx="60.14" cy="607.66" r="1.42"/><circle cx="62.22" cy="606.9" r="1.42"/><circle cx="64.29" cy="606.06" r="1.42"/><circle cx="66.37" cy="604.95" r="1.42"/><circle cx="68.44" cy="604.08" r="1.42"/><circle cx="70.52" cy="603.5" r="1.42"/><circle cx="72.59" cy="602.56" r="1.42"/><circle cx="74.67" cy="601.84" r="1.42"/><circle cx="76.74" cy="600.73" r="1.42"/><circle cx="78.82" cy="599.95" r="1.42"/><circle cx="80.89" cy="599.24" r="1.42"/><circle cx="82.96" cy="598.37" r="1.42"/><circle cx="85.04" cy="597.34" r="1.42"/><circle cx="87.11" cy="596.79" r="1.42"/><circle cx="89.19" cy="596.47" r="1.42"/><circle cx="91.26" cy="595.39" r="1.42"/><circle cx="93.34" cy="594.61" r="1.42"/><circle cx="95.41" cy="593.57" r="1.42"/><circle cx="97.49" cy="592.86" r="1.42"/><circle cx="99.56" cy="591.98" r="1.42"/><circle cx="101.63" cy="591.72" r="1.42"/><circle cx="103.71" cy="590.27" r="1.42"/><circle cx="105.78" cy="589.82" r="1.42"/><circle cx="107.86" cy="588.78" r="1.42"/><circle cx="109.93" cy="588.09" r="1.42"/><circle cx="112.01" cy="587.6" r="1.42"/><circle cx="114.08" cy="586.79" r="1.42"/><circle cx="116.16" cy="585.69" r="1.42"/><circle cx="118.23" cy="584.77" r="1.42"/><circle cx="120.31" cy="584.43" r="1.42"/><circle cx="122.38" cy="583.69" r="1.42"/><circle cx="124.45" cy="583.1" r="1.42"/><circle cx="126.53" cy="582.06" r="1.42"/><circle cx="128.6" cy="581.22" r="1.42"/><circle cx="130.68" cy="580.33" r="1.42"/><circle cx="132.75" cy="579.34" r="1.42"/><circle cx="134.83" cy="578.79" r="1.42"/><circle cx="136.9" cy="578.13" r="1.42"/><circle cx="138.98" cy="577.18" r="1.42"/><circle cx="141.05" cy="576.32" r="1.42"/><circle cx="143.12" cy="575.47" r="1.42"/><circle cx="145.2" cy="574.68" r="1.42"/><circle cx="147.27" cy="573.96" r="1.42"/><circle cx="149.35" cy="573" r="1.42"/><circle cx="151.42" cy="572.4" r="1.42"/><circle cx="153.5" cy="571.77" r="1.42"/><circle cx="155.57" cy="570.78" r="1.42"/><circle cx="157.65" cy="569.54" r="1.42"/><circle cx="159.72" cy="569.34" r="1.42"/><circle cx="161.8" cy="567.82" r="1.42"/><circle cx="163.87" cy="567.68" r="1.42"/><circle cx="165.94" cy="566.62" r="1.42"/><circle cx="168.02" cy="566.34" r="1.42"/><circle cx="170.09" cy="565.21" r="1.42"/><circle cx="172.17" cy="564.08" r="1.42"/><circle cx="174.24" cy="563.86" r="1.42"/><circle cx="176.32" cy="562.97" r="1.42"/><circle cx="178.39" cy="561.94" r="1.42"/><circle cx="180.47" cy="561.14" r="1.42"/><circle cx="182.54" cy="560.75" r="1.42"/><circle cx="184.62" cy="559.91" r="1.42"/><circle cx="186.69" cy="558.77" r="1.42"/><circle cx="188.76" cy="557.98" r="1.42"/><circle cx="190.84" cy="557.09" r="1.42"/><circle cx="192.91" cy="556.49" r="1.42"/><circle cx="194.99" cy="555.52" r="1.42"/><circle cx="197.06" cy="554.6" r="1.42"/><circle cx="199.14" cy="554.34" r="1.42"/><circle cx="201.21" cy="553.06" r="1.42"/><circle cx="203.29" cy="552.32" r="1.42"/><circle cx="205.36" cy="551.41" r="1.42"/></g>
<g fill="#fff" fill-opacity="0.7" stroke="#2f78dc" stroke-width="1.0"><circle cx="39.4" cy="615.31" r="1.42"/><circle cx="41.47" cy="613.78" r="1.42"/><circle cx="43.55" cy="612.33" r="1.42"/><circle cx="45.62" cy="611.07" r="1.42"/><circle cx="47.7" cy="609.21" r="1.42"/><circle cx="49.77" cy="608.01" r="1.42"/><circle cx="51.85" cy="606.95" r="1.42"/><circle cx="53.92" cy="605.15" r="1.42"/><circle cx="56" cy="604.12" r="1.42"/><circle cx="58.07" cy="602.84" r="1.42"/><circle cx="60.14" cy="601.26" r="1.42"/><circle cx="62.22" cy="599.53" r="1.42"/><circle cx="64.29" cy="598.08" r="1.42"/><circle cx="66.37" cy="596.72" r="1.42"/><circle cx="68.44" cy="595.1" r="1.42"/><circle cx="70.52" cy="593.28" r="1.42"/><circle cx="72.59" cy="592.75" r="1.42"/><circle cx="74.67" cy="590.87" r="1.42"/><circle cx="76.74" cy="589.49" r="1.42"/><circle cx="78.82" cy="588.49" r="1.42"/><circle cx="80.89" cy="586.87" r="1.42"/><circle cx="82.96" cy="585.24" r="1.42"/><circle cx="85.04" cy="583.86" r="1.42"/><circle cx="87.11" cy="582.69" r="1.42"/><circle cx="89.19" cy="580.8" r="1.42"/><circle cx="91.26" cy="579.53" r="1.42"/><circle cx="93.34" cy="577.99" r="1.42"/><circle cx="95.41" cy="576.29" r="1.42"/><circle cx="97.49" cy="575.7" r="1.42"/><circle cx="99.56" cy="573.61" r="1.42"/><circle cx="101.63" cy="572.34" r="1.42"/><circle cx="103.71" cy="571.31" r="1.42"/><circle cx="105.78" cy="569.65" r="1.42"/><circle cx="107.86" cy="568.33" r="1.42"/><circle cx="109.93" cy="567.12" r="1.42"/><circle cx="112.01" cy="565.12" r="1.42"/><circle cx="114.08" cy="564.16" r="1.42"/><circle cx="116.16" cy="563.1" r="1.42"/><circle cx="118.23" cy="560.85" r="1.42"/><circle cx="120.31" cy="559.81" r="1.42"/><circle cx="122.38" cy="558.13" r="1.42"/><circle cx="124.45" cy="556.76" r="1.42"/><circle cx="126.53" cy="555.48" r="1.42"/><circle cx="128.6" cy="554.08" r="1.42"/><circle cx="130.68" cy="553.28" r="1.42"/><circle cx="132.75" cy="551.24" r="1.42"/><circle cx="134.83" cy="550.03" r="1.42"/><circle cx="136.9" cy="548.13" r="1.42"/><circle cx="138.98" cy="547.08" r="1.42"/><circle cx="141.05" cy="545.62" r="1.42"/><circle cx="143.12" cy="543.97" r="1.42"/><circle cx="145.2" cy="542.91" r="1.42"/><circle cx="147.27" cy="541.36" r="1.42"/><circle cx="149.35" cy="539.87" r="1.42"/><circle cx="151.42" cy="538.19" r="1.42"/><circle cx="153.5" cy="537.3" r="1.42"/><circle cx="155.57" cy="535.23" r="1.42"/><circle cx="157.65" cy="534.08" r="1.42"/><circle cx="159.72" cy="532.76" r="1.42"/><circle cx="161.8" cy="531.09" r="1.42"/><circle cx="163.87" cy="529.47" r="1.42"/><circle cx="165.94" cy="528" r="1.42"/><circle cx="168.02" cy="527.22" r="1.42"/><circle cx="170.09" cy="525.1" r="1.42"/><circle cx="172.17" cy="524.06" r="1.42"/><circle cx="174.24" cy="522.26" r="1.42"/><circle cx="176.32" cy="521.53" r="1.42"/><circle cx="178.39" cy="519.84" r="1.42"/><circle cx="180.47" cy="518.4" r="1.42"/><circle cx="182.54" cy="517.32" r="1.42"/><circle cx="184.62" cy="515.65" r="1.42"/><circle cx="186.69" cy="513.84" r="1.42"/><circle cx="188.76" cy="512.35" r="1.42"/><circle cx="190.84" cy="511.06" r="1.42"/><circle cx="192.91" cy="509.75" r="1.42"/><circle cx="194.99" cy="508.53" r="1.42"/><circle cx="197.06" cy="506.38" r="1.42"/><circle cx="199.14" cy="505.95" r="1.42"/><circle cx="201.21" cy="504.48" r="1.42"/><circle cx="203.29" cy="502.93" r="1.42"/><circle cx="205.36" cy="501.23" r="1.42"/></g>
<line x1="39.3" y1="481.2" x2="209.4" y2="481.2" stroke="#333" stroke-width="1.1"/>
<line x1="39.3" y1="618.3" x2="209.4" y2="618.3" stroke="#333" stroke-width="1.1"/>
<line x1="39.3" y1="481.2" x2="39.3" y2="618.3" stroke="#333" stroke-width="1.1"/>
<line x1="209.4" y1="481.2" x2="209.4" y2="618.3" stroke="#333" stroke-width="1.1"/>
<line x1="37" y1="615.2" x2="39.3" y2="615.2" stroke="#222" stroke-width="0.9"/>
<text x="33" y="618.2" font-size="9.8" text-anchor="end" font-weight="normal" fill="#1a1a1a" color="#1a1a1a" textLength="4.9" lengthAdjust="spacingAndGlyphs">0</text>
<line x1="37" y1="585.3" x2="39.3" y2="585.3" stroke="#222" stroke-width="0.9"/>
<text x="33" y="588.3" font-size="9.8" text-anchor="end" font-weight="normal" fill="#1a1a1a" color="#1a1a1a" textLength="14.71" lengthAdjust="spacingAndGlyphs">200</text>
<line x1="37" y1="555.4" x2="39.3" y2="555.4" stroke="#222" stroke-width="0.9"/>
<text x="33" y="558.4" font-size="9.8" text-anchor="end" font-weight="normal" fill="#1a1a1a" color="#1a1a1a" textLength="14.71" lengthAdjust="spacingAndGlyphs">400</text>
<line x1="37" y1="525.5" x2="39.3" y2="525.5" stroke="#222" stroke-width="0.9"/>
<text x="33" y="528.5" font-size="9.8" text-anchor="end" font-weight="normal" fill="#1a1a1a" color="#1a1a1a" textLength="14.71" lengthAdjust="spacingAndGlyphs">600</text>
<line x1="37" y1="495.6" x2="39.3" y2="495.6" stroke="#222" stroke-width="0.9"/>
<text x="33" y="498.6" font-size="9.8" text-anchor="end" font-weight="normal" fill="#1a1a1a" color="#1a1a1a" textLength="14.71" lengthAdjust="spacingAndGlyphs">800</text>
<line x1="37.9" y1="600.25" x2="39.3" y2="600.25" stroke="#222" stroke-width="0.9"/>
<line x1="37.9" y1="570.35" x2="39.3" y2="570.35" stroke="#222" stroke-width="0.9"/>
<line x1="37.9" y1="540.45" x2="39.3" y2="540.45" stroke="#222" stroke-width="0.9"/>
<line x1="37.9" y1="510.55" x2="39.3" y2="510.55" stroke="#222" stroke-width="0.9"/>
<line x1="39.4" y1="618.3" x2="39.4" y2="620.6" stroke="#222" stroke-width="0.9"/>
<text x="39.4" y="628.6" font-size="9.8" text-anchor="middle" font-weight="normal" fill="#1a1a1a" color="#1a1a1a" textLength="4.9" lengthAdjust="spacingAndGlyphs">0</text>
<line x1="67.06" y1="618.3" x2="67.06" y2="620.6" stroke="#222" stroke-width="0.9"/>
<text x="67.06" y="628.6" font-size="9.8" text-anchor="middle" font-weight="normal" fill="#1a1a1a" color="#1a1a1a" textLength="4.9" lengthAdjust="spacingAndGlyphs">2</text>
<line x1="94.72" y1="618.3" x2="94.72" y2="620.6" stroke="#222" stroke-width="0.9"/>
<text x="94.72" y="628.6" font-size="9.8" text-anchor="middle" font-weight="normal" fill="#1a1a1a" color="#1a1a1a" textLength="4.9" lengthAdjust="spacingAndGlyphs">4</text>
<line x1="122.38" y1="618.3" x2="122.38" y2="620.6" stroke="#222" stroke-width="0.9"/>
<text x="122.38" y="628.6" font-size="9.8" text-anchor="middle" font-weight="normal" fill="#1a1a1a" color="#1a1a1a" textLength="4.9" lengthAdjust="spacingAndGlyphs">6</text>
<line x1="150.04" y1="618.3" x2="150.04" y2="620.6" stroke="#222" stroke-width="0.9"/>
<text x="150.04" y="628.6" font-size="9.8" text-anchor="middle" font-weight="normal" fill="#1a1a1a" color="#1a1a1a" textLength="4.9" lengthAdjust="spacingAndGlyphs">8</text>
<line x1="177.7" y1="618.3" x2="177.7" y2="620.6" stroke="#222" stroke-width="0.9"/>
<text x="177.7" y="628.6" font-size="9.8" text-anchor="middle" font-weight="normal" fill="#1a1a1a" color="#1a1a1a" textLength="9.81" lengthAdjust="spacingAndGlyphs">10</text>
<line x1="205.36" y1="618.3" x2="205.36" y2="620.6" stroke="#222" stroke-width="0.9"/>
<text x="205.36" y="628.6" font-size="9.8" text-anchor="middle" font-weight="normal" fill="#1a1a1a" color="#1a1a1a" textLength="9.81" lengthAdjust="spacingAndGlyphs">12</text>
<line x1="53.23" y1="618.3" x2="53.23" y2="619.7" stroke="#222" stroke-width="0.9"/>
<line x1="80.89" y1="618.3" x2="80.89" y2="619.7" stroke="#222" stroke-width="0.9"/>
<line x1="108.55" y1="618.3" x2="108.55" y2="619.7" stroke="#222" stroke-width="0.9"/>
<line x1="136.21" y1="618.3" x2="136.21" y2="619.7" stroke="#222" stroke-width="0.9"/>
<line x1="163.87" y1="618.3" x2="163.87" y2="619.7" stroke="#222" stroke-width="0.9"/>
<line x1="191.53" y1="618.3" x2="191.53" y2="619.7" stroke="#222" stroke-width="0.9"/>
<text transform="translate(8.7,545.3) rotate(-90)" x="0" y="3.38" font-size="9.4" text-anchor="middle" fill="#1a1a1a" color="#1a1a1a" textLength="100.5" lengthAdjust="spacingAndGlyphs">Average distance (µm)</text>
<text x="124.8" y="638.8" font-size="9.1" text-anchor="middle" font-weight="normal" fill="#222" color="#222">Time (h)</text>
<path d="M49.6,490.7 H143.1 M49.6,504.6 H143.1 M49.6,490.7 V504.6 M143.1,490.7 V504.6" stroke="#555" stroke-width="0.95" stroke-dasharray="3.2 2.6" fill="none"/>
<path d="M49.6,507.2 H143.1 M49.6,521.8 H143.1 M49.6,507.2 V521.8 M143.1,507.2 V521.8" stroke="#555" stroke-width="0.95" stroke-dasharray="3.2 2.6" fill="none"/>
<circle cx="59.3" cy="495.7" r="1.4" fill="#f7a1a3" stroke="#e84a4f" stroke-width="0.8"/>
<circle cx="59.3" cy="500.6" r="1.4" fill="#8fb8f1" stroke="#2f78dc" stroke-width="0.8"/>
<text x="64.9" y="500.3" font-size="8.8" text-anchor="start" font-weight="normal" fill="#222" color="#222" textLength="75.1" lengthAdjust="spacingAndGlyphs">Experimental data</text>
<line x1="53" y1="512.3" x2="66" y2="512.3" stroke="#f07a7e" stroke-width="1.1"/>
<line x1="53" y1="517.2" x2="66" y2="517.2" stroke="#6fa3ec" stroke-width="1.1"/>
<text x="68.3" y="516.4" font-size="8.8" text-anchor="start" font-weight="normal" fill="#222" color="#222" textLength="73.6" lengthAdjust="spacingAndGlyphs">Simulation results</text>
<rect x="107.6" y="593.4" width="99" height="22.7" fill="#fff" opacity="0.9"/>
<path d="M107.6,593.4 H206.6 M107.6,616.1 H206.6 M107.6,593.4 V616.1 M206.6,593.4 V616.1" stroke="#555" stroke-width="0.95" stroke-dasharray="3.2 2.6" fill="none"/>
<circle cx="115.4" cy="597.3" r="1.25" fill="#fff" stroke="#e84a4f" stroke-width="0.8"/>
<circle cx="115.4" cy="607.7" r="1.25" fill="#fff" stroke="#2f78dc" stroke-width="0.8"/>
<line x1="109.2" y1="603.2" x2="121.8" y2="603.2" stroke="#f07a7e" stroke-width="1.1"/>
<line x1="109.2" y1="613.6" x2="121.8" y2="613.6" stroke="#6fa3ec" stroke-width="1.1"/>
<text x="123.5" y="602.7" font-size="8.9" text-anchor="start" font-weight="normal" fill="#222" color="#222" textLength="81.4" lengthAdjust="spacingAndGlyphs">28% rigidity change</text>
<text x="123.5" y="612.7" font-size="8.9" text-anchor="start" font-weight="normal" fill="#222" color="#222" textLength="81.4" lengthAdjust="spacingAndGlyphs">40% rigidity change</text>
<path d="M273.6,616 L275,614.98 L276.39,613.93 L277.79,612.96 L279.18,611.98 L280.58,610.88 L281.97,609.84 L283.37,608.95 L284.76,607.76 L286.16,606.93 L287.55,605.83 L288.95,604.78 L290.34,603.36 L291.74,602.6 L293.13,601.37 L294.53,600.23 L295.92,599.02 L297.31,598.03 L298.71,597.69 L300.11,596.03 L301.5,595.25 L302.9,594.02 L304.29,592.96 L305.69,592.5 L307.08,591.32 L308.48,590.5 L309.87,588.99 L311.27,587.39 L312.66,587.14 L314.06,586.55 L315.45,583.79 L316.85,584.53 L318.24,582.85 L319.64,581.64 L321.03,581.59 L322.43,579.24 L323.82,578.07 L325.22,577.85 L326.61,576.82 L328,575.83 L329.4,575.77 L330.8,573.38 L332.19,573.46 L333.59,572.03 L334.98,569.79 L336.38,568.03 L337.77,568.1 L339.17,565.2 L340.56,563.23 L341.96,563.24 L343.35,562.19 L344.75,560.77 L346.14,560.07 L347.54,559.19 L348.93,557.2 L350.33,556.12 L351.72,556.01 L353.12,555.33 L354.51,554.8 L355.91,553.44 L357.3,552.89 L358.7,552.48 L360.09,548.96 L361.49,549.26 L362.88,547.99 L364.28,545.28 L365.67,546.7 L367.07,544.67 L368.46,545.64 L369.86,543.37 L371.25,540.75 L372.65,540.29 L374.04,540.36 L375.44,539.18 L376.83,535.76 L378.23,536.27 L379.62,533.14 L381.01,532.45 L382.41,532.45 L383.81,530.83 L385.2,528.53 L386.6,528.24 L387.99,528.61 L389.39,526.73 L390.78,526.08 L392.18,524.87 L393.57,523.45 L394.97,522.49 L396.36,520.7 L397.75,521.06 L399.15,520.41 L400.55,518.77 L401.94,516.58 L403.34,517.13 L404.73,515.35 L406.12,514.53 L407.52,513.86 L408.92,511.43 L410.31,506.09 L411.71,509.53 L413.1,507.45 L414.5,506.8 L415.89,506.13 L417.29,504.33 L418.68,500.39 L420.08,502.62 L421.47,498.05 L422.87,498.26 L424.26,499.05 L425.66,497.62 L427.05,495.91 L428.45,494.8 L429.84,489.79 L431.24,490.02 L432.63,488.7 L434.02,490.1 L435.42,486.59 L436.82,487.42 L438.21,481.7 L439.61,485.73 L441,484.42 L441,519.32 L439.61,523.07 L438.21,523.72 L436.82,523.57 L435.42,524.67 L434.02,525.35 L432.63,524.65 L431.24,527.38 L429.84,525.97 L428.45,529.31 L427.05,530.06 L425.66,528.97 L424.26,528.94 L422.87,529.58 L421.47,535.79 L420.08,533.56 L418.68,533.99 L417.29,535.52 L415.89,538.52 L414.5,540.13 L413.1,539.73 L411.71,537.43 L410.31,543.24 L408.92,544.35 L407.52,545.14 L406.12,544.92 L404.73,547.17 L403.34,546.91 L401.94,547.38 L400.55,545.49 L399.15,548.4 L397.75,551.15 L396.36,551.52 L394.97,553.03 L393.57,552.04 L392.18,553.32 L390.78,554.58 L389.39,554.55 L387.99,554.89 L386.6,556.29 L385.2,556.11 L383.81,556.13 L382.41,559.07 L381.01,560.3 L379.62,560.18 L378.23,560.37 L376.83,560.6 L375.44,561.26 L374.04,564.44 L372.65,564.09 L371.25,562.89 L369.86,565.29 L368.46,565.71 L367.07,567.18 L365.67,568.76 L364.28,568.16 L362.88,569.03 L361.49,568.21 L360.09,569.45 L358.7,570.67 L357.3,569.69 L355.91,570.27 L354.51,573.57 L353.12,571.44 L351.72,572.69 L350.33,574.77 L348.93,572.96 L347.54,575.18 L346.14,576.13 L344.75,577.12 L343.35,577.33 L341.96,578.06 L340.56,579.14 L339.17,580.13 L337.77,580.11 L336.38,581.27 L334.98,582.27 L333.59,583.63 L332.19,582.41 L330.8,585.1 L329.4,585.05 L328,586.15 L326.61,587.17 L325.22,587.48 L323.82,587.1 L322.43,587.39 L321.03,589.41 L319.64,590.09 L318.24,591.93 L316.85,592.14 L315.45,592.71 L314.06,593.29 L312.66,594.94 L311.27,594.24 L309.87,595.31 L308.48,596.2 L307.08,596.86 L305.69,598.13 L304.29,599.38 L302.9,599.43 L301.5,600.44 L300.11,601.06 L298.71,602.18 L297.31,602.65 L295.92,603.78 L294.53,604.59 L293.13,605.19 L291.74,606.1 L290.34,606.79 L288.95,607.51 L287.55,608.29 L286.16,608.81 L284.76,609.72 L283.37,610.4 L281.97,611.41 L280.58,611.99 L279.18,612.95 L277.79,613.58 L276.39,614.42 L275,615.22 L273.6,616Z" fill="#f9dadb" opacity="1"/>
<path d="M273.6,616 L275,615.32 L276.39,614.6 L277.79,613.91 L279.18,613.2 L280.58,612.52 L281.97,611.83 L283.37,611.04 L284.76,610.35 L286.16,609.68 L287.55,609.1 L288.95,608.44 L290.34,607.77 L291.74,606.82 L293.13,606.18 L294.53,605.55 L295.92,604.92 L297.31,604.34 L298.71,603.35 L300.11,603 L301.5,602.29 L302.9,601.12 L304.29,600.43 L305.69,599.95 L307.08,599.54 L308.48,598.83 L309.87,597.65 L311.27,597.06 L312.66,596.1 L314.06,596.13 L315.45,595.3 L316.85,594.83 L318.24,593.26 L319.64,593.67 L321.03,592.25 L322.43,591.18 L323.82,591.37 L325.22,590.78 L326.61,589.81 L328,589.2 L329.4,587.85 L330.8,587.34 L332.19,587.13 L333.59,586.09 L334.98,584.53 L336.38,584.49 L337.77,583.8 L339.17,581.79 L340.56,582.53 L341.96,581.58 L343.35,579.92 L344.75,579.97 L346.14,580.52 L347.54,579.38 L348.93,579.72 L350.33,578.2 L351.72,577.06 L353.12,577.49 L354.51,575.21 L355.91,574.75 L357.3,574.37 L358.7,574.99 L360.09,573.58 L361.49,572.49 L362.88,571.67 L364.28,570.46 L365.67,571.85 L367.07,570.62 L368.46,570.31 L369.86,569.18 L371.25,568.11 L372.65,566.09 L374.04,567.2 L375.44,565.77 L376.83,566.15 L378.23,565.58 L379.62,563.26 L381.01,564.8 L382.41,562.49 L383.81,560.37 L385.2,558.5 L386.6,560.97 L387.99,560.56 L389.39,560.26 L390.78,558.38 L392.18,557.25 L393.57,556.42 L394.97,554.53 L396.36,554.8 L397.75,553.83 L399.15,555.19 L400.55,553.56 L401.94,552.28 L403.34,553.98 L404.73,551.25 L406.12,549.63 L407.52,549.55 L408.92,548.79 L410.31,548.4 L411.71,549.08 L413.1,547.44 L414.5,547.61 L415.89,546.21 L417.29,545.61 L418.68,544.63 L420.08,545.86 L421.47,544.29 L422.87,541.49 L424.26,541.97 L425.66,542.69 L427.05,542.59 L428.45,540.35 L429.84,541.26 L431.24,542.59 L432.63,541.2 L434.02,537.88 L435.42,541.77 L436.82,538.81 L438.21,539.08 L439.61,537.55 L441,537.2 L441,558.49 L439.61,558.28 L438.21,557.46 L436.82,558.47 L435.42,558.65 L434.02,557.86 L432.63,559.8 L431.24,559.2 L429.84,559.07 L428.45,559.72 L427.05,561.38 L425.66,562.4 L424.26,562.57 L422.87,562.61 L421.47,564.61 L420.08,565.4 L418.68,565.99 L417.29,568.07 L415.89,566.51 L414.5,567.48 L413.1,566.71 L411.71,568.16 L410.31,568.95 L408.92,567.91 L407.52,570.43 L406.12,569.67 L404.73,569.89 L403.34,570.71 L401.94,570.34 L400.55,571.59 L399.15,571.96 L397.75,573.37 L396.36,574.33 L394.97,573.97 L393.57,575.89 L392.18,574.1 L390.78,575.53 L389.39,575.66 L387.99,577.79 L386.6,576.79 L385.2,576.64 L383.81,577.53 L382.41,578.4 L381.01,580.02 L379.62,579.81 L378.23,580.63 L376.83,580.21 L375.44,582.51 L374.04,581.22 L372.65,583.18 L371.25,583.64 L369.86,582.1 L368.46,583.22 L367.07,583.25 L365.67,584.56 L364.28,585.48 L362.88,585.1 L361.49,585.6 L360.09,586.98 L358.7,586.17 L357.3,587.12 L355.91,588.11 L354.51,587.79 L353.12,589.26 L351.72,587.98 L350.33,589.23 L348.93,589.39 L347.54,589.63 L346.14,591.09 L344.75,590.2 L343.35,591.5 L341.96,592.18 L340.56,592.21 L339.17,592.36 L337.77,594.52 L336.38,593.77 L334.98,595.68 L333.59,594.8 L332.19,595.82 L330.8,596.86 L329.4,597.02 L328,597.65 L326.61,597.37 L325.22,598.48 L323.82,599.57 L322.43,599.82 L321.03,599.91 L319.64,600.5 L318.24,601 L316.85,601.49 L315.45,601.69 L314.06,602.17 L312.66,603.19 L311.27,603.02 L309.87,603.65 L308.48,603.94 L307.08,604.64 L305.69,605.34 L304.29,605.65 L302.9,605.52 L301.5,606.27 L300.11,606.78 L298.71,607.36 L297.31,607.78 L295.92,608.13 L294.53,608.7 L293.13,609.32 L291.74,609.81 L290.34,610.34 L288.95,610.82 L287.55,611.28 L286.16,611.62 L284.76,612.29 L283.37,612.47 L281.97,613.07 L280.58,613.62 L279.18,614.09 L277.79,614.57 L276.39,615.06 L275,615.52 L273.6,616Z" fill="#cfe0f7" opacity="1"/>
<line x1="273.6" y1="614.85" x2="441" y2="511.44" stroke="#e84a4f" stroke-width="1.1"/>
<line x1="273.6" y1="615.23" x2="441" y2="549.36" stroke="#2f78dc" stroke-width="1.1"/>
<g fill="#fff" fill-opacity="0.7" stroke="#e84a4f" stroke-width="1.0"><circle cx="273.6" cy="615.22" r="1.45"/><circle cx="275.69" cy="613.57" r="1.45"/><circle cx="277.79" cy="612.04" r="1.45"/><circle cx="279.88" cy="610.54" r="1.45"/><circle cx="281.97" cy="609.59" r="1.45"/><circle cx="284.06" cy="607.92" r="1.45"/><circle cx="286.16" cy="606.6" r="1.45"/><circle cx="288.25" cy="605.36" r="1.45"/><circle cx="290.34" cy="603.1" r="1.45"/><circle cx="292.43" cy="602.7" r="1.45"/><circle cx="294.53" cy="601.36" r="1.45"/><circle cx="296.62" cy="599.69" r="1.45"/><circle cx="298.71" cy="597.9" r="1.45"/><circle cx="300.8" cy="597.09" r="1.45"/><circle cx="302.9" cy="595.21" r="1.45"/><circle cx="304.99" cy="594.54" r="1.45"/><circle cx="307.08" cy="592.98" r="1.45"/><circle cx="309.17" cy="591.54" r="1.45"/><circle cx="311.26" cy="590.19" r="1.45"/><circle cx="313.36" cy="588.72" r="1.45"/><circle cx="315.45" cy="587.39" r="1.45"/><circle cx="317.54" cy="586.05" r="1.45"/><circle cx="319.63" cy="584.91" r="1.45"/><circle cx="321.73" cy="583.09" r="1.45"/><circle cx="323.82" cy="581.85" r="1.45"/><circle cx="325.91" cy="580.42" r="1.45"/><circle cx="328" cy="578.76" r="1.45"/><circle cx="330.1" cy="577.59" r="1.45"/><circle cx="332.19" cy="576.29" r="1.45"/><circle cx="334.28" cy="574.57" r="1.45"/><circle cx="336.38" cy="573.74" r="1.45"/><circle cx="338.47" cy="572.7" r="1.45"/><circle cx="340.56" cy="571.04" r="1.45"/><circle cx="342.65" cy="569.85" r="1.45"/><circle cx="344.75" cy="568.19" r="1.45"/><circle cx="346.84" cy="566.82" r="1.45"/><circle cx="348.93" cy="565.39" r="1.45"/><circle cx="351.02" cy="563.92" r="1.45"/><circle cx="353.12" cy="562.44" r="1.45"/><circle cx="355.21" cy="561.13" r="1.45"/><circle cx="357.3" cy="559.84" r="1.45"/><circle cx="359.39" cy="558.6" r="1.45"/><circle cx="361.49" cy="557.28" r="1.45"/><circle cx="363.58" cy="555.77" r="1.45"/><circle cx="365.67" cy="554.47" r="1.45"/><circle cx="367.76" cy="553.34" r="1.45"/><circle cx="369.86" cy="551.77" r="1.45"/><circle cx="371.95" cy="550.08" r="1.45"/><circle cx="374.04" cy="548.89" r="1.45"/><circle cx="376.13" cy="547.78" r="1.45"/><circle cx="378.23" cy="546.09" r="1.45"/><circle cx="380.32" cy="544.61" r="1.45"/><circle cx="382.41" cy="543.73" r="1.45"/><circle cx="384.5" cy="541.56" r="1.45"/><circle cx="386.6" cy="540.33" r="1.45"/><circle cx="388.69" cy="539.34" r="1.45"/><circle cx="390.78" cy="537.59" r="1.45"/><circle cx="392.87" cy="536.47" r="1.45"/><circle cx="394.97" cy="534.99" r="1.45"/><circle cx="397.06" cy="534.05" r="1.45"/><circle cx="399.15" cy="532.56" r="1.45"/><circle cx="401.24" cy="531.12" r="1.45"/><circle cx="403.34" cy="529.71" r="1.45"/><circle cx="405.43" cy="528.45" r="1.45"/><circle cx="407.52" cy="527.39" r="1.45"/><circle cx="409.61" cy="525.88" r="1.45"/><circle cx="411.71" cy="524.06" r="1.45"/><circle cx="413.8" cy="522.93" r="1.45"/><circle cx="415.89" cy="520.96" r="1.45"/><circle cx="417.98" cy="519.68" r="1.45"/><circle cx="420.08" cy="518.77" r="1.45"/><circle cx="422.17" cy="517.27" r="1.45"/><circle cx="424.26" cy="516.48" r="1.45"/><circle cx="426.35" cy="514.38" r="1.45"/><circle cx="428.45" cy="512.89" r="1.45"/><circle cx="430.54" cy="512.06" r="1.45"/><circle cx="432.63" cy="510.69" r="1.45"/><circle cx="434.72" cy="509.26" r="1.45"/><circle cx="436.81" cy="507.51" r="1.45"/><circle cx="438.91" cy="506.05" r="1.45"/><circle cx="441" cy="505.26" r="1.45"/></g>
<g fill="#fff" fill-opacity="0.7" stroke="#2f78dc" stroke-width="1.0"><circle cx="273.6" cy="615.29" r="1.45"/><circle cx="275.69" cy="614.19" r="1.45"/><circle cx="277.79" cy="613.35" r="1.45"/><circle cx="279.88" cy="612.55" r="1.45"/><circle cx="281.97" cy="611.47" r="1.45"/><circle cx="284.06" cy="610.87" r="1.45"/><circle cx="286.16" cy="610.08" r="1.45"/><circle cx="288.25" cy="608.72" r="1.45"/><circle cx="290.34" cy="607.79" r="1.45"/><circle cx="292.43" cy="606.76" r="1.45"/><circle cx="294.53" cy="606.2" r="1.45"/><circle cx="296.62" cy="605.4" r="1.45"/><circle cx="298.71" cy="604.3" r="1.45"/><circle cx="300.8" cy="603.42" r="1.45"/><circle cx="302.9" cy="602.49" r="1.45"/><circle cx="304.99" cy="601.61" r="1.45"/><circle cx="307.08" cy="600.4" r="1.45"/><circle cx="309.17" cy="599.71" r="1.45"/><circle cx="311.26" cy="598.58" r="1.45"/><circle cx="313.36" cy="598.11" r="1.45"/><circle cx="315.45" cy="597.27" r="1.45"/><circle cx="317.54" cy="595.95" r="1.45"/><circle cx="319.63" cy="595.5" r="1.45"/><circle cx="321.73" cy="594.58" r="1.45"/><circle cx="323.82" cy="593.67" r="1.45"/><circle cx="325.91" cy="592.91" r="1.45"/><circle cx="328" cy="591.51" r="1.45"/><circle cx="330.1" cy="590.34" r="1.45"/><circle cx="332.19" cy="589.67" r="1.45"/><circle cx="334.28" cy="588.71" r="1.45"/><circle cx="336.38" cy="588.05" r="1.45"/><circle cx="338.47" cy="587.28" r="1.45"/><circle cx="340.56" cy="586.05" r="1.45"/><circle cx="342.65" cy="585.51" r="1.45"/><circle cx="344.75" cy="584.68" r="1.45"/><circle cx="346.84" cy="583.63" r="1.45"/><circle cx="348.93" cy="582.31" r="1.45"/><circle cx="351.02" cy="581.55" r="1.45"/><circle cx="353.12" cy="580.78" r="1.45"/><circle cx="355.21" cy="580.05" r="1.45"/><circle cx="357.3" cy="579.11" r="1.45"/><circle cx="359.39" cy="577.93" r="1.45"/><circle cx="361.49" cy="577.11" r="1.45"/><circle cx="363.58" cy="576.36" r="1.45"/><circle cx="365.67" cy="575.04" r="1.45"/><circle cx="367.76" cy="574.52" r="1.45"/><circle cx="369.86" cy="573.82" r="1.45"/><circle cx="371.95" cy="572.62" r="1.45"/><circle cx="374.04" cy="571.42" r="1.45"/><circle cx="376.13" cy="570.6" r="1.45"/><circle cx="378.23" cy="569.64" r="1.45"/><circle cx="380.32" cy="569.11" r="1.45"/><circle cx="382.41" cy="567.93" r="1.45"/><circle cx="384.5" cy="567.09" r="1.45"/><circle cx="386.6" cy="566.27" r="1.45"/><circle cx="388.69" cy="565.55" r="1.45"/><circle cx="390.78" cy="564.13" r="1.45"/><circle cx="392.87" cy="563.47" r="1.45"/><circle cx="394.97" cy="562.7" r="1.45"/><circle cx="397.06" cy="561.52" r="1.45"/><circle cx="399.15" cy="560.22" r="1.45"/><circle cx="401.24" cy="560.19" r="1.45"/><circle cx="403.34" cy="558.9" r="1.45"/><circle cx="405.43" cy="557.66" r="1.45"/><circle cx="407.52" cy="556.74" r="1.45"/><circle cx="409.61" cy="556.46" r="1.45"/><circle cx="411.71" cy="555.44" r="1.45"/><circle cx="413.8" cy="554.87" r="1.45"/><circle cx="415.89" cy="553.52" r="1.45"/><circle cx="417.98" cy="552.95" r="1.45"/><circle cx="420.08" cy="551.94" r="1.45"/><circle cx="422.17" cy="550.49" r="1.45"/><circle cx="424.26" cy="550.16" r="1.45"/><circle cx="426.35" cy="549.37" r="1.45"/><circle cx="428.45" cy="548.07" r="1.45"/><circle cx="430.54" cy="547.12" r="1.45"/><circle cx="432.63" cy="546.21" r="1.45"/><circle cx="434.72" cy="545.09" r="1.45"/><circle cx="436.81" cy="544.59" r="1.45"/><circle cx="438.91" cy="543.56" r="1.45"/><circle cx="441" cy="542.48" r="1.45"/></g>
<line x1="273.6" y1="480.6" x2="443.6" y2="480.6" stroke="#333" stroke-width="1.1"/>
<line x1="273.6" y1="618.2" x2="443.6" y2="618.2" stroke="#333" stroke-width="1.1"/>
<line x1="273.6" y1="480.6" x2="273.6" y2="618.2" stroke="#333" stroke-width="1.1"/>
<line x1="443.6" y1="480.6" x2="443.6" y2="618.2" stroke="#333" stroke-width="1.1"/>
<line x1="271.3" y1="616" x2="273.6" y2="616" stroke="#222" stroke-width="0.9"/>
<text x="268.8" y="619" font-size="9.8" text-anchor="end" font-weight="normal" fill="#1a1a1a" color="#1a1a1a" textLength="4.9" lengthAdjust="spacingAndGlyphs">0</text>
<line x1="271.3" y1="596.85" x2="273.6" y2="596.85" stroke="#222" stroke-width="0.9"/>
<text x="268.8" y="599.85" font-size="9.8" text-anchor="end" font-weight="normal" fill="#1a1a1a" color="#1a1a1a" textLength="4.9" lengthAdjust="spacingAndGlyphs">5</text>
<line x1="271.3" y1="577.7" x2="273.6" y2="577.7" stroke="#222" stroke-width="0.9"/>
<text x="268.8" y="580.7" font-size="9.8" text-anchor="end" font-weight="normal" fill="#1a1a1a" color="#1a1a1a" textLength="9.81" lengthAdjust="spacingAndGlyphs">10</text>
<line x1="271.3" y1="558.55" x2="273.6" y2="558.55" stroke="#222" stroke-width="0.9"/>
<text x="268.8" y="561.55" font-size="9.8" text-anchor="end" font-weight="normal" fill="#1a1a1a" color="#1a1a1a" textLength="9.81" lengthAdjust="spacingAndGlyphs">15</text>
<line x1="271.3" y1="539.4" x2="273.6" y2="539.4" stroke="#222" stroke-width="0.9"/>
<text x="268.8" y="542.4" font-size="9.8" text-anchor="end" font-weight="normal" fill="#1a1a1a" color="#1a1a1a" textLength="9.81" lengthAdjust="spacingAndGlyphs">20</text>
<line x1="271.3" y1="520.25" x2="273.6" y2="520.25" stroke="#222" stroke-width="0.9"/>
<text x="268.8" y="523.25" font-size="9.8" text-anchor="end" font-weight="normal" fill="#1a1a1a" color="#1a1a1a" textLength="9.81" lengthAdjust="spacingAndGlyphs">25</text>
<line x1="271.3" y1="501.1" x2="273.6" y2="501.1" stroke="#222" stroke-width="0.9"/>
<text x="268.8" y="504.1" font-size="9.8" text-anchor="end" font-weight="normal" fill="#1a1a1a" color="#1a1a1a" textLength="9.81" lengthAdjust="spacingAndGlyphs">30</text>
<line x1="271.3" y1="481.95" x2="273.6" y2="481.95" stroke="#222" stroke-width="0.9"/>
<text x="268.8" y="484.95" font-size="9.8" text-anchor="end" font-weight="normal" fill="#1a1a1a" color="#1a1a1a" textLength="9.81" lengthAdjust="spacingAndGlyphs">35</text>
<line x1="272.2" y1="606.42" x2="273.6" y2="606.42" stroke="#222" stroke-width="0.9"/>
<line x1="272.2" y1="587.27" x2="273.6" y2="587.27" stroke="#222" stroke-width="0.9"/>
<line x1="272.2" y1="568.12" x2="273.6" y2="568.12" stroke="#222" stroke-width="0.9"/>
<line x1="272.2" y1="548.98" x2="273.6" y2="548.98" stroke="#222" stroke-width="0.9"/>
<line x1="272.2" y1="529.83" x2="273.6" y2="529.83" stroke="#222" stroke-width="0.9"/>
<line x1="272.2" y1="510.68" x2="273.6" y2="510.68" stroke="#222" stroke-width="0.9"/>
<line x1="272.2" y1="491.52" x2="273.6" y2="491.52" stroke="#222" stroke-width="0.9"/>
<line x1="273.6" y1="618.2" x2="273.6" y2="620.5" stroke="#222" stroke-width="0.9"/>
<text x="273.6" y="629.5" font-size="9.8" text-anchor="middle" font-weight="normal" fill="#1a1a1a" color="#1a1a1a" textLength="4.9" lengthAdjust="spacingAndGlyphs">0</text>
<line x1="301.5" y1="618.2" x2="301.5" y2="620.5" stroke="#222" stroke-width="0.9"/>
<text x="301.5" y="629.5" font-size="9.8" text-anchor="middle" font-weight="normal" fill="#1a1a1a" color="#1a1a1a" textLength="4.9" lengthAdjust="spacingAndGlyphs">2</text>
<line x1="329.4" y1="618.2" x2="329.4" y2="620.5" stroke="#222" stroke-width="0.9"/>
<text x="329.4" y="629.5" font-size="9.8" text-anchor="middle" font-weight="normal" fill="#1a1a1a" color="#1a1a1a" textLength="4.9" lengthAdjust="spacingAndGlyphs">4</text>
<line x1="357.3" y1="618.2" x2="357.3" y2="620.5" stroke="#222" stroke-width="0.9"/>
<text x="357.3" y="629.5" font-size="9.8" text-anchor="middle" font-weight="normal" fill="#1a1a1a" color="#1a1a1a" textLength="4.9" lengthAdjust="spacingAndGlyphs">6</text>
<line x1="385.2" y1="618.2" x2="385.2" y2="620.5" stroke="#222" stroke-width="0.9"/>
<text x="385.2" y="629.5" font-size="9.8" text-anchor="middle" font-weight="normal" fill="#1a1a1a" color="#1a1a1a" textLength="4.9" lengthAdjust="spacingAndGlyphs">8</text>
<line x1="413.1" y1="618.2" x2="413.1" y2="620.5" stroke="#222" stroke-width="0.9"/>
<text x="413.1" y="629.5" font-size="9.8" text-anchor="middle" font-weight="normal" fill="#1a1a1a" color="#1a1a1a" textLength="9.81" lengthAdjust="spacingAndGlyphs">10</text>
<line x1="441" y1="618.2" x2="441" y2="620.5" stroke="#222" stroke-width="0.9"/>
<text x="441" y="629.5" font-size="9.8" text-anchor="middle" font-weight="normal" fill="#1a1a1a" color="#1a1a1a" textLength="9.81" lengthAdjust="spacingAndGlyphs">12</text>
<line x1="287.55" y1="618.2" x2="287.55" y2="619.6" stroke="#222" stroke-width="0.9"/>
<line x1="315.45" y1="618.2" x2="315.45" y2="619.6" stroke="#222" stroke-width="0.9"/>
<line x1="343.35" y1="618.2" x2="343.35" y2="619.6" stroke="#222" stroke-width="0.9"/>
<line x1="371.25" y1="618.2" x2="371.25" y2="619.6" stroke="#222" stroke-width="0.9"/>
<line x1="399.15" y1="618.2" x2="399.15" y2="619.6" stroke="#222" stroke-width="0.9"/>
<line x1="427.05" y1="618.2" x2="427.05" y2="619.6" stroke="#222" stroke-width="0.9"/>
<text transform="translate(254.3,549.2) rotate(-90)" x="0" y="2.74" font-size="7.6" text-anchor="middle" fill="#1a1a1a" color="#1a1a1a">MSD (×10<tspan font-size="4.6" dy="-2.8">3</tspan><tspan dy="2.8">µm</tspan><tspan font-size="4.6" dy="-2.8">2</tspan><tspan dy="2.8">)</tspan></text>
<text x="359.1" y="639.4" font-size="9.1" text-anchor="middle" font-weight="normal" fill="#222" color="#222">Time (h)</text>
<path d="M279.3,486.9 H373.1 M279.3,501.8 H373.1 M279.3,486.9 V501.8 M373.1,486.9 V501.8" stroke="#555" stroke-width="0.95" stroke-dasharray="3.2 2.6" fill="none"/>
<path d="M279.3,504.1 H373.1 M279.3,518 H373.1 M279.3,504.1 V518 M373.1,504.1 V518" stroke="#555" stroke-width="0.95" stroke-dasharray="3.2 2.6" fill="none"/>
<circle cx="288.5" cy="492" r="1.4" fill="#fff" stroke="#e84a4f" stroke-width="0.8"/>
<circle cx="288.5" cy="497.3" r="1.4" fill="#fff" stroke="#2f78dc" stroke-width="0.8"/>
<text x="294.6" y="497.2" font-size="8.8" text-anchor="start" font-weight="normal" fill="#222" color="#222" textLength="74.7" lengthAdjust="spacingAndGlyphs">Experimental data</text>
<line x1="282.7" y1="508.8" x2="295.7" y2="508.8" stroke="#f6a9ab" stroke-width="1.8"/>
<line x1="282.7" y1="514" x2="295.7" y2="514" stroke="#a3c4f3" stroke-width="1.8"/>
<text x="298" y="513.4" font-size="8.8" text-anchor="start" font-weight="normal" fill="#222" color="#222" textLength="73.6" lengthAdjust="spacingAndGlyphs">Simulation results</text>
<rect x="343.7" y="592.6" width="99.8" height="24" fill="#fff" opacity="0.9"/>
<path d="M343.7,592.6 H443.5 M343.7,616.6 H443.5 M343.7,592.6 V616.6 M443.5,592.6 V616.6" stroke="#555" stroke-width="0.95" stroke-dasharray="3.2 2.6" fill="none"/>
<circle cx="351.9" cy="597.4" r="1.25" fill="#fff" stroke="#e84a4f" stroke-width="0.8"/>
<circle cx="351.9" cy="607" r="1.25" fill="#fff" stroke="#2f78dc" stroke-width="0.8"/>
<line x1="345.4" y1="603.1" x2="358.4" y2="603.1" stroke="#f07a7e" stroke-width="1.1"/>
<line x1="345.4" y1="613.1" x2="358.4" y2="613.1" stroke="#6fa3ec" stroke-width="1.1"/>
<text x="359.8" y="602.6" font-size="8.9" text-anchor="start" font-weight="normal" fill="#222" color="#222" textLength="81.4" lengthAdjust="spacingAndGlyphs">28% rigidity change</text>
<text x="359.8" y="612.4" font-size="8.9" text-anchor="start" font-weight="normal" fill="#222" color="#222" textLength="81.4" lengthAdjust="spacingAndGlyphs">40% rigidity change</text>
<line x1="519.5" y1="587.22" x2="548" y2="587.22" stroke="#555" stroke-width="1.1"/>
<line x1="562" y1="586.49" x2="591" y2="586.49" stroke="#9a9a9a" stroke-width="1.1"/>
<line x1="604.6" y1="536.55" x2="633" y2="536.55" stroke="#555" stroke-width="1.1"/>
<line x1="647.1" y1="542.34" x2="675.7" y2="542.34" stroke="#9a9a9a" stroke-width="1.1"/>
<g fill="#f28a8b"><circle cx="534.04" cy="570.03" r="1.2"/><circle cx="535.05" cy="578.2" r="1.2"/><circle cx="537.83" cy="586.56" r="1.2"/><circle cx="537.62" cy="574.81" r="1.2"/><circle cx="531.92" cy="583.59" r="1.2"/><circle cx="531.52" cy="570.02" r="1.2"/><circle cx="531.24" cy="586.92" r="1.2"/><circle cx="531.18" cy="592.07" r="1.2"/><circle cx="536.58" cy="581.75" r="1.2"/><circle cx="535.01" cy="583.15" r="1.2"/><circle cx="529.6" cy="590.57" r="1.2"/><circle cx="535.07" cy="589.54" r="1.2"/><circle cx="535.35" cy="580.45" r="1.2"/><circle cx="533.63" cy="580.59" r="1.2"/><circle cx="536.21" cy="591.86" r="1.2"/><circle cx="529.08" cy="590.68" r="1.2"/><circle cx="535.16" cy="604.22" r="1.2"/><circle cx="530.16" cy="571.42" r="1.2"/><circle cx="537.58" cy="589.33" r="1.2"/><circle cx="534" cy="574.63" r="1.2"/><circle cx="537.37" cy="583.29" r="1.2"/><circle cx="531.06" cy="568.93" r="1.2"/><circle cx="531.21" cy="572.75" r="1.2"/><circle cx="537.33" cy="584.22" r="1.2"/><circle cx="530.24" cy="573.28" r="1.2"/><circle cx="531.96" cy="596.16" r="1.2"/><circle cx="536.22" cy="575.37" r="1.2"/><circle cx="536.69" cy="601.15" r="1.2"/><circle cx="529.81" cy="583.99" r="1.2"/><circle cx="529.59" cy="577.2" r="1.2"/><circle cx="535.1" cy="585.11" r="1.2"/><circle cx="530.68" cy="590.67" r="1.2"/><circle cx="531.65" cy="594.8" r="1.2"/><circle cx="528.87" cy="590.44" r="1.2"/><circle cx="532.32" cy="577.33" r="1.2"/><circle cx="536.78" cy="578.83" r="1.2"/><circle cx="534.53" cy="589.68" r="1.2"/><circle cx="529.47" cy="598.94" r="1.2"/><circle cx="529.32" cy="580.87" r="1.2"/><circle cx="537.03" cy="600.86" r="1.2"/><circle cx="535.09" cy="592.21" r="1.2"/><circle cx="530.4" cy="594.13" r="1.2"/><circle cx="534.9" cy="580.22" r="1.2"/><circle cx="536.94" cy="585" r="1.2"/><circle cx="537.17" cy="582.87" r="1.2"/><circle cx="535.3" cy="584.65" r="1.2"/><circle cx="530.01" cy="593.59" r="1.2"/><circle cx="537.39" cy="582.18" r="1.2"/><circle cx="535.18" cy="573.93" r="1.2"/><circle cx="537.27" cy="587.56" r="1.2"/><circle cx="533.43" cy="581.25" r="1.2"/><circle cx="537.74" cy="588.4" r="1.2"/><circle cx="536.58" cy="577.54" r="1.2"/><circle cx="531.95" cy="580.94" r="1.2"/><circle cx="530.28" cy="578.98" r="1.2"/><circle cx="535" cy="583.94" r="1.2"/><circle cx="531.33" cy="571.79" r="1.2"/><circle cx="532.02" cy="590.61" r="1.2"/><circle cx="530.75" cy="590.36" r="1.2"/><circle cx="532.56" cy="592.78" r="1.2"/><circle cx="532.17" cy="581.47" r="1.2"/><circle cx="535.79" cy="593.07" r="1.2"/><circle cx="534.81" cy="593.28" r="1.2"/><circle cx="530.34" cy="580.37" r="1.2"/><circle cx="535.11" cy="576.28" r="1.2"/><circle cx="536.36" cy="581.81" r="1.2"/><circle cx="533.39" cy="612.46" r="1.2"/><circle cx="529.18" cy="596.19" r="1.2"/><circle cx="536.47" cy="597.32" r="1.2"/><circle cx="535.72" cy="598.58" r="1.2"/><circle cx="529.02" cy="591.05" r="1.2"/><circle cx="531.98" cy="570.12" r="1.2"/><circle cx="536.52" cy="590.11" r="1.2"/><circle cx="535.07" cy="594.14" r="1.2"/><circle cx="530.05" cy="580.64" r="1.2"/><circle cx="531.96" cy="586.57" r="1.2"/><circle cx="528.7" cy="586.08" r="1.2"/><circle cx="537.73" cy="593.68" r="1.2"/><circle cx="536.82" cy="587.23" r="1.2"/><circle cx="531.01" cy="583.13" r="1.2"/><circle cx="533.09" cy="605.2" r="1.2"/><circle cx="535.69" cy="602.37" r="1.2"/><circle cx="533.99" cy="577.01" r="1.2"/><circle cx="529.71" cy="579.28" r="1.2"/><circle cx="536.69" cy="591.98" r="1.2"/><circle cx="535.75" cy="596.82" r="1.2"/><circle cx="528.45" cy="588.96" r="1.2"/><circle cx="536.97" cy="598.45" r="1.2"/><circle cx="533.45" cy="590.42" r="1.2"/><circle cx="534.37" cy="571.68" r="1.2"/><circle cx="535.66" cy="585.97" r="1.2"/><circle cx="537.27" cy="576.24" r="1.2"/><circle cx="533.68" cy="589.31" r="1.2"/><circle cx="531.02" cy="583.74" r="1.2"/><circle cx="532.88" cy="574.18" r="1.2"/><circle cx="536.98" cy="599.79" r="1.2"/><circle cx="535.12" cy="590.49" r="1.2"/><circle cx="534.2" cy="588.69" r="1.2"/><circle cx="534.24" cy="584.56" r="1.2"/><circle cx="533.61" cy="572.6" r="1.2"/><circle cx="538.15" cy="580.77" r="1.2"/><circle cx="537.47" cy="601.31" r="1.2"/><circle cx="531.97" cy="589.77" r="1.2"/><circle cx="528.82" cy="595.62" r="1.2"/><circle cx="530.38" cy="595.86" r="1.2"/><circle cx="531.89" cy="568.17" r="1.2"/><circle cx="532.87" cy="597.22" r="1.2"/><circle cx="535.63" cy="584.99" r="1.2"/><circle cx="535.4" cy="593.95" r="1.2"/><circle cx="533.48" cy="579.12" r="1.2"/><circle cx="538.29" cy="583.89" r="1.2"/><circle cx="529.38" cy="586.02" r="1.2"/><circle cx="532.73" cy="587.93" r="1.2"/><circle cx="536.56" cy="576.51" r="1.2"/><circle cx="535.46" cy="595.98" r="1.2"/><circle cx="534.15" cy="594.06" r="1.2"/><circle cx="535.5" cy="597.72" r="1.2"/><circle cx="529.37" cy="574.66" r="1.2"/><circle cx="535.98" cy="589.98" r="1.2"/><circle cx="533.84" cy="596.98" r="1.2"/><circle cx="537.43" cy="591.16" r="1.2"/><circle cx="530.15" cy="588.23" r="1.2"/><circle cx="532.69" cy="579.22" r="1.2"/><circle cx="538.74" cy="582.84" r="1.2"/><circle cx="531.65" cy="587.33" r="1.2"/><circle cx="535.59" cy="593.73" r="1.2"/><circle cx="538.24" cy="590.36" r="1.2"/><circle cx="534.14" cy="590.55" r="1.2"/><circle cx="533.79" cy="608" r="1.2"/><circle cx="533.88" cy="578.51" r="1.2"/><circle cx="530.99" cy="586.12" r="1.2"/><circle cx="533.85" cy="589.13" r="1.2"/><circle cx="535.89" cy="594.65" r="1.2"/><circle cx="533.68" cy="578.28" r="1.2"/><circle cx="531.77" cy="588.97" r="1.2"/><circle cx="532.59" cy="582.71" r="1.2"/><circle cx="530.17" cy="600.27" r="1.2"/><circle cx="528.36" cy="583.66" r="1.2"/><circle cx="536.86" cy="568.4" r="1.2"/><circle cx="532.37" cy="589.94" r="1.2"/><circle cx="535.95" cy="579.69" r="1.2"/><circle cx="535.54" cy="586.88" r="1.2"/><circle cx="531.58" cy="576.82" r="1.2"/><circle cx="531.87" cy="577.17" r="1.2"/><circle cx="535.33" cy="586.64" r="1.2"/><circle cx="533.65" cy="592.48" r="1.2"/><circle cx="535.37" cy="584.52" r="1.2"/><circle cx="534.54" cy="586.82" r="1.2"/><circle cx="533.4" cy="593.03" r="1.2"/><circle cx="535.1" cy="582.92" r="1.2"/><circle cx="533.18" cy="583.15" r="1.2"/><circle cx="529.37" cy="595.58" r="1.2"/><circle cx="534.02" cy="588.27" r="1.2"/><circle cx="538.18" cy="579.53" r="1.2"/><circle cx="536.36" cy="586.3" r="1.2"/><circle cx="531.21" cy="591.5" r="1.2"/><circle cx="533.74" cy="610.52" r="1.2"/><circle cx="530.71" cy="605.16" r="1.2"/><circle cx="535.16" cy="601.51" r="1.2"/><circle cx="532.36" cy="584.77" r="1.2"/><circle cx="534.53" cy="578.03" r="1.2"/><circle cx="537.04" cy="607.64" r="1.2"/><circle cx="534.72" cy="576.7" r="1.2"/><circle cx="536.42" cy="598.77" r="1.2"/><circle cx="528.3" cy="584.8" r="1.2"/><circle cx="534.7" cy="614.72" r="1.2"/><circle cx="531.7" cy="611.1" r="1.2"/></g>
<g fill="#ee3e41"><circle cx="579.97" cy="594.13" r="1.2"/><circle cx="574.73" cy="592.44" r="1.2"/><circle cx="579.74" cy="598.97" r="1.2"/><circle cx="577.2" cy="579.32" r="1.2"/><circle cx="580.05" cy="568.9" r="1.2"/><circle cx="577.19" cy="597.57" r="1.2"/><circle cx="574.84" cy="574.15" r="1.2"/><circle cx="579.84" cy="602.45" r="1.2"/><circle cx="579.69" cy="585.14" r="1.2"/><circle cx="579.07" cy="608.43" r="1.2"/><circle cx="577.28" cy="581.4" r="1.2"/><circle cx="580.72" cy="586.45" r="1.2"/><circle cx="572.86" cy="585.17" r="1.2"/><circle cx="576.42" cy="573.48" r="1.2"/><circle cx="572.25" cy="580.27" r="1.2"/><circle cx="579.29" cy="587.02" r="1.2"/><circle cx="574.1" cy="595.64" r="1.2"/><circle cx="575.75" cy="586.2" r="1.2"/><circle cx="575.95" cy="594.29" r="1.2"/><circle cx="575.26" cy="591.36" r="1.2"/><circle cx="575.99" cy="570.72" r="1.2"/><circle cx="577.57" cy="577.27" r="1.2"/><circle cx="574.21" cy="583.67" r="1.2"/><circle cx="574.97" cy="579.98" r="1.2"/><circle cx="573.39" cy="602.48" r="1.2"/><circle cx="572.85" cy="585.66" r="1.2"/><circle cx="573.35" cy="605.2" r="1.2"/><circle cx="574.99" cy="594.07" r="1.2"/><circle cx="572.21" cy="582.84" r="1.2"/><circle cx="573.13" cy="582.78" r="1.2"/><circle cx="581.11" cy="579.28" r="1.2"/><circle cx="577.7" cy="585.23" r="1.2"/><circle cx="578.84" cy="586.4" r="1.2"/><circle cx="580.32" cy="587" r="1.2"/><circle cx="573.37" cy="571.73" r="1.2"/><circle cx="575.04" cy="572.89" r="1.2"/><circle cx="576.16" cy="602.83" r="1.2"/><circle cx="581" cy="585.64" r="1.2"/><circle cx="577.9" cy="573.05" r="1.2"/><circle cx="579.79" cy="589.86" r="1.2"/><circle cx="577.11" cy="584.73" r="1.2"/><circle cx="574.67" cy="593.68" r="1.2"/><circle cx="576.87" cy="600.21" r="1.2"/><circle cx="573.84" cy="585.77" r="1.2"/><circle cx="579.3" cy="591.71" r="1.2"/><circle cx="578.24" cy="589.08" r="1.2"/><circle cx="574.87" cy="603.1" r="1.2"/><circle cx="577.81" cy="600.03" r="1.2"/><circle cx="572.95" cy="588.95" r="1.2"/><circle cx="580" cy="592.41" r="1.2"/><circle cx="572.72" cy="581.68" r="1.2"/><circle cx="576.66" cy="599.13" r="1.2"/><circle cx="575.46" cy="580.07" r="1.2"/><circle cx="571.87" cy="581.63" r="1.2"/><circle cx="576.66" cy="586.85" r="1.2"/><circle cx="571.08" cy="580.9" r="1.2"/><circle cx="571.06" cy="588.84" r="1.2"/><circle cx="573.97" cy="590.1" r="1.2"/><circle cx="581.09" cy="588.33" r="1.2"/><circle cx="572.22" cy="601.81" r="1.2"/><circle cx="572.6" cy="588.53" r="1.2"/><circle cx="573.89" cy="579.5" r="1.2"/><circle cx="578.04" cy="605.6" r="1.2"/><circle cx="577.77" cy="580.76" r="1.2"/><circle cx="580.8" cy="595.11" r="1.2"/><circle cx="576.19" cy="592.11" r="1.2"/><circle cx="575.33" cy="587.29" r="1.2"/><circle cx="581.48" cy="585.58" r="1.2"/><circle cx="575.86" cy="573.49" r="1.2"/><circle cx="573.17" cy="589.85" r="1.2"/><circle cx="573.6" cy="569.71" r="1.2"/><circle cx="572.83" cy="587.82" r="1.2"/><circle cx="577.03" cy="582.99" r="1.2"/><circle cx="575.29" cy="580.91" r="1.2"/><circle cx="571.73" cy="595.43" r="1.2"/><circle cx="575.6" cy="600.29" r="1.2"/><circle cx="571.13" cy="586.93" r="1.2"/><circle cx="578.87" cy="580.52" r="1.2"/><circle cx="578.21" cy="578.7" r="1.2"/><circle cx="579.25" cy="591.88" r="1.2"/><circle cx="579.93" cy="568.85" r="1.2"/><circle cx="578.62" cy="589.19" r="1.2"/><circle cx="572.02" cy="595.1" r="1.2"/><circle cx="572.74" cy="575.06" r="1.2"/><circle cx="579.44" cy="574.25" r="1.2"/><circle cx="575.82" cy="597.7" r="1.2"/><circle cx="580.99" cy="578.31" r="1.2"/><circle cx="572.44" cy="600.89" r="1.2"/><circle cx="580.72" cy="586.61" r="1.2"/><circle cx="573.14" cy="562.36" r="1.2"/><circle cx="579.04" cy="572.85" r="1.2"/><circle cx="574.21" cy="579.09" r="1.2"/><circle cx="578.4" cy="579.62" r="1.2"/><circle cx="571.46" cy="595.5" r="1.2"/><circle cx="573.03" cy="582.88" r="1.2"/><circle cx="578.62" cy="581.57" r="1.2"/><circle cx="574.21" cy="597.59" r="1.2"/><circle cx="571.85" cy="584.13" r="1.2"/><circle cx="575.64" cy="580.36" r="1.2"/><circle cx="578.94" cy="583.93" r="1.2"/><circle cx="576.19" cy="581.56" r="1.2"/><circle cx="571.4" cy="588.66" r="1.2"/><circle cx="581.26" cy="598.33" r="1.2"/><circle cx="571.07" cy="585.79" r="1.2"/><circle cx="577.22" cy="606.95" r="1.2"/><circle cx="576.06" cy="593.86" r="1.2"/><circle cx="577.29" cy="574.24" r="1.2"/><circle cx="579.18" cy="566.71" r="1.2"/><circle cx="576.29" cy="581.63" r="1.2"/><circle cx="573.48" cy="612.16" r="1.2"/><circle cx="578.22" cy="571.52" r="1.2"/><circle cx="573.7" cy="580.11" r="1.2"/><circle cx="576.03" cy="588.04" r="1.2"/><circle cx="572.76" cy="577.85" r="1.2"/><circle cx="572.76" cy="580.04" r="1.2"/><circle cx="575.8" cy="598.88" r="1.2"/><circle cx="574.53" cy="600" r="1.2"/><circle cx="574.1" cy="574.66" r="1.2"/><circle cx="579.69" cy="610.78" r="1.2"/><circle cx="577.81" cy="579.4" r="1.2"/><circle cx="572.55" cy="582.47" r="1.2"/><circle cx="571.87" cy="575.26" r="1.2"/><circle cx="572.85" cy="566.96" r="1.2"/><circle cx="574.11" cy="571.34" r="1.2"/><circle cx="578.64" cy="568.95" r="1.2"/><circle cx="579.32" cy="576.89" r="1.2"/><circle cx="577.28" cy="580.28" r="1.2"/><circle cx="574.92" cy="574.13" r="1.2"/><circle cx="580.38" cy="585.83" r="1.2"/><circle cx="578.33" cy="595.59" r="1.2"/><circle cx="576.12" cy="586.55" r="1.2"/><circle cx="577.19" cy="603.03" r="1.2"/><circle cx="580.93" cy="591.66" r="1.2"/><circle cx="575.78" cy="563.33" r="1.2"/><circle cx="580.13" cy="580.09" r="1.2"/><circle cx="580.99" cy="587.62" r="1.2"/><circle cx="571.2" cy="592.23" r="1.2"/><circle cx="575.82" cy="604.94" r="1.2"/><circle cx="579.56" cy="591.58" r="1.2"/><circle cx="574.86" cy="594.19" r="1.2"/><circle cx="572.11" cy="585.81" r="1.2"/><circle cx="577.8" cy="584.95" r="1.2"/><circle cx="580.9" cy="586.58" r="1.2"/><circle cx="574.86" cy="606.57" r="1.2"/><circle cx="578.51" cy="570.14" r="1.2"/><circle cx="580.84" cy="581.12" r="1.2"/><circle cx="576.65" cy="585.83" r="1.2"/><circle cx="579.84" cy="589.45" r="1.2"/><circle cx="576.56" cy="581.18" r="1.2"/><circle cx="576.15" cy="572.47" r="1.2"/><circle cx="577.41" cy="579.41" r="1.2"/><circle cx="575.55" cy="598.59" r="1.2"/><circle cx="579.23" cy="599.63" r="1.2"/><circle cx="577.46" cy="611.68" r="1.2"/><circle cx="577.95" cy="584.76" r="1.2"/><circle cx="579.35" cy="578.42" r="1.2"/><circle cx="575.24" cy="573.01" r="1.2"/><circle cx="577.3" cy="584.81" r="1.2"/><circle cx="579.08" cy="577.44" r="1.2"/><circle cx="579.79" cy="596.26" r="1.2"/><circle cx="578.28" cy="580.71" r="1.2"/><circle cx="572.52" cy="587.74" r="1.2"/><circle cx="576.34" cy="593.64" r="1.2"/><circle cx="572.84" cy="604.66" r="1.2"/><circle cx="573.99" cy="573.94" r="1.2"/><circle cx="576.5" cy="618.34" r="1.2"/></g>
<g fill="#73a5e9"><circle cx="613.82" cy="535.21" r="1.2"/><circle cx="620.25" cy="528.63" r="1.2"/><circle cx="616.37" cy="540.08" r="1.2"/><circle cx="615.61" cy="555.26" r="1.2"/><circle cx="623.65" cy="542.59" r="1.2"/><circle cx="624.04" cy="528.23" r="1.2"/><circle cx="615.8" cy="544.29" r="1.2"/><circle cx="621.38" cy="523.65" r="1.2"/><circle cx="621.74" cy="553.19" r="1.2"/><circle cx="616.98" cy="546.24" r="1.2"/><circle cx="620.6" cy="555.98" r="1.2"/><circle cx="614.24" cy="546.24" r="1.2"/><circle cx="616.34" cy="516.1" r="1.2"/><circle cx="619.5" cy="527.74" r="1.2"/><circle cx="618.19" cy="538.05" r="1.2"/><circle cx="614.98" cy="542.49" r="1.2"/><circle cx="618.7" cy="520.85" r="1.2"/><circle cx="621.03" cy="536.43" r="1.2"/><circle cx="616.45" cy="547.11" r="1.2"/><circle cx="616.06" cy="516.04" r="1.2"/><circle cx="614.74" cy="551.13" r="1.2"/><circle cx="621.47" cy="532.75" r="1.2"/><circle cx="616.23" cy="527.22" r="1.2"/><circle cx="618.99" cy="523.3" r="1.2"/><circle cx="617.73" cy="510.99" r="1.2"/><circle cx="618.69" cy="524.88" r="1.2"/><circle cx="624.02" cy="543.69" r="1.2"/><circle cx="622.39" cy="521.11" r="1.2"/><circle cx="620.94" cy="531.52" r="1.2"/><circle cx="618.5" cy="550.2" r="1.2"/><circle cx="617.93" cy="548.48" r="1.2"/><circle cx="623.92" cy="545.25" r="1.2"/><circle cx="615.44" cy="561.81" r="1.2"/><circle cx="621.17" cy="530.09" r="1.2"/><circle cx="622.9" cy="528.51" r="1.2"/><circle cx="618.2" cy="529.43" r="1.2"/><circle cx="615.62" cy="545.58" r="1.2"/><circle cx="614.43" cy="536.12" r="1.2"/><circle cx="622.52" cy="520.87" r="1.2"/><circle cx="618.72" cy="530.86" r="1.2"/><circle cx="618.86" cy="537.28" r="1.2"/><circle cx="622.8" cy="544.61" r="1.2"/><circle cx="621.62" cy="536.06" r="1.2"/><circle cx="615.18" cy="519.91" r="1.2"/><circle cx="615.19" cy="535.25" r="1.2"/><circle cx="621.92" cy="507.45" r="1.2"/><circle cx="621.53" cy="526.79" r="1.2"/><circle cx="620.05" cy="555.53" r="1.2"/><circle cx="622.3" cy="538.73" r="1.2"/><circle cx="622.08" cy="519.94" r="1.2"/><circle cx="614.3" cy="542.43" r="1.2"/><circle cx="615.86" cy="544.04" r="1.2"/><circle cx="623.11" cy="535.32" r="1.2"/><circle cx="616.74" cy="541.41" r="1.2"/><circle cx="620.39" cy="559.52" r="1.2"/><circle cx="615.39" cy="532.1" r="1.2"/><circle cx="616.11" cy="530.75" r="1.2"/><circle cx="616.78" cy="526.51" r="1.2"/><circle cx="623.78" cy="534.73" r="1.2"/><circle cx="622.22" cy="531.42" r="1.2"/><circle cx="618.38" cy="541.41" r="1.2"/><circle cx="619.94" cy="523.86" r="1.2"/><circle cx="615.75" cy="535.98" r="1.2"/><circle cx="615.02" cy="529.33" r="1.2"/><circle cx="618.35" cy="544.75" r="1.2"/><circle cx="618.82" cy="518.58" r="1.2"/><circle cx="624.37" cy="532.68" r="1.2"/><circle cx="617.08" cy="540.97" r="1.2"/><circle cx="622.4" cy="535.14" r="1.2"/><circle cx="620.49" cy="549.24" r="1.2"/><circle cx="615.67" cy="543.11" r="1.2"/><circle cx="617.78" cy="525.57" r="1.2"/><circle cx="616.58" cy="528.27" r="1.2"/><circle cx="619.97" cy="525.42" r="1.2"/><circle cx="613.98" cy="527" r="1.2"/><circle cx="619.37" cy="539.14" r="1.2"/><circle cx="623.09" cy="534.46" r="1.2"/><circle cx="619.81" cy="512.49" r="1.2"/><circle cx="616.97" cy="537.07" r="1.2"/><circle cx="620.28" cy="554.63" r="1.2"/><circle cx="617.34" cy="535.98" r="1.2"/><circle cx="620.23" cy="540.96" r="1.2"/><circle cx="623.87" cy="537.18" r="1.2"/><circle cx="618.39" cy="535.71" r="1.2"/><circle cx="622.27" cy="548.63" r="1.2"/><circle cx="617.42" cy="530.83" r="1.2"/><circle cx="623.67" cy="538.09" r="1.2"/><circle cx="616.83" cy="528.83" r="1.2"/><circle cx="623.99" cy="544.68" r="1.2"/><circle cx="615.84" cy="548.32" r="1.2"/><circle cx="615.96" cy="541.49" r="1.2"/><circle cx="619.82" cy="515.91" r="1.2"/><circle cx="618.24" cy="558.46" r="1.2"/><circle cx="615.21" cy="522.84" r="1.2"/><circle cx="616.85" cy="536.94" r="1.2"/><circle cx="616.15" cy="522.19" r="1.2"/><circle cx="613.95" cy="541.18" r="1.2"/><circle cx="615.29" cy="531.63" r="1.2"/><circle cx="623.9" cy="531.93" r="1.2"/><circle cx="619.23" cy="510.32" r="1.2"/><circle cx="620.87" cy="537.96" r="1.2"/><circle cx="613.91" cy="533.55" r="1.2"/><circle cx="617.55" cy="545.87" r="1.2"/><circle cx="619.58" cy="532.81" r="1.2"/><circle cx="619.84" cy="545.65" r="1.2"/><circle cx="623.78" cy="537.92" r="1.2"/><circle cx="620.76" cy="531.83" r="1.2"/><circle cx="623.69" cy="529.67" r="1.2"/><circle cx="620.35" cy="547.66" r="1.2"/><circle cx="616.59" cy="547.42" r="1.2"/><circle cx="614.91" cy="522.19" r="1.2"/><circle cx="623.76" cy="542.98" r="1.2"/><circle cx="614.12" cy="534.3" r="1.2"/><circle cx="617" cy="540" r="1.2"/><circle cx="618.44" cy="555.85" r="1.2"/><circle cx="619.48" cy="537.81" r="1.2"/><circle cx="622.2" cy="538" r="1.2"/><circle cx="618.91" cy="514.79" r="1.2"/><circle cx="622.01" cy="559.84" r="1.2"/><circle cx="618.67" cy="542.99" r="1.2"/><circle cx="618.64" cy="528.94" r="1.2"/><circle cx="623.81" cy="543.07" r="1.2"/><circle cx="621.57" cy="562.94" r="1.2"/><circle cx="617.76" cy="528.9" r="1.2"/><circle cx="619" cy="534.44" r="1.2"/><circle cx="621.41" cy="546.9" r="1.2"/><circle cx="616.85" cy="548.72" r="1.2"/><circle cx="620.17" cy="544.93" r="1.2"/><circle cx="615.65" cy="534.19" r="1.2"/><circle cx="621.73" cy="538.74" r="1.2"/><circle cx="623.21" cy="544.64" r="1.2"/><circle cx="617.63" cy="532.4" r="1.2"/><circle cx="614.21" cy="523.81" r="1.2"/><circle cx="618.94" cy="543.99" r="1.2"/><circle cx="622.57" cy="517.5" r="1.2"/><circle cx="624.13" cy="536.27" r="1.2"/><circle cx="620.58" cy="529.33" r="1.2"/><circle cx="622.83" cy="531.55" r="1.2"/><circle cx="619.65" cy="530.6" r="1.2"/><circle cx="615.5" cy="533.85" r="1.2"/><circle cx="619.89" cy="564.4" r="1.2"/><circle cx="617.97" cy="548.39" r="1.2"/><circle cx="623.95" cy="526.05" r="1.2"/><circle cx="623.19" cy="549.6" r="1.2"/><circle cx="624.51" cy="535.49" r="1.2"/><circle cx="621.66" cy="555.94" r="1.2"/><circle cx="621.68" cy="544.42" r="1.2"/><circle cx="618.67" cy="518.15" r="1.2"/><circle cx="618.62" cy="533.95" r="1.2"/><circle cx="623.62" cy="547.55" r="1.2"/><circle cx="622.76" cy="544.77" r="1.2"/><circle cx="617.69" cy="557.73" r="1.2"/><circle cx="616.3" cy="531.45" r="1.2"/><circle cx="619.35" cy="540.09" r="1.2"/><circle cx="616.25" cy="528.24" r="1.2"/><circle cx="622.68" cy="527.52" r="1.2"/><circle cx="623.98" cy="540.87" r="1.2"/><circle cx="617.43" cy="548.96" r="1.2"/><circle cx="622.07" cy="552.09" r="1.2"/><circle cx="620.64" cy="542.3" r="1.2"/><circle cx="619.04" cy="537.21" r="1.2"/><circle cx="614.71" cy="520.61" r="1.2"/><circle cx="618.74" cy="549.12" r="1.2"/><circle cx="616.19" cy="531.97" r="1.2"/><circle cx="614.9" cy="550.28" r="1.2"/><circle cx="619" cy="579.98" r="1.2"/><circle cx="618" cy="578.53" r="1.2"/><circle cx="621" cy="501.81" r="1.2"/><circle cx="618.5" cy="503.99" r="1.2"/></g>
<g fill="#1a69dc"><circle cx="663.92" cy="530.1" r="1.2"/><circle cx="659.43" cy="542.78" r="1.2"/><circle cx="656.65" cy="537" r="1.2"/><circle cx="657.38" cy="535.97" r="1.2"/><circle cx="667.03" cy="540.32" r="1.2"/><circle cx="656.56" cy="540.29" r="1.2"/><circle cx="663.8" cy="544.91" r="1.2"/><circle cx="665.96" cy="539.68" r="1.2"/><circle cx="667.51" cy="538.38" r="1.2"/><circle cx="661.3" cy="550.35" r="1.2"/><circle cx="664.47" cy="535" r="1.2"/><circle cx="667.51" cy="542.37" r="1.2"/><circle cx="664.11" cy="543.37" r="1.2"/><circle cx="657.17" cy="544.28" r="1.2"/><circle cx="661.28" cy="531.53" r="1.2"/><circle cx="660.56" cy="544.12" r="1.2"/><circle cx="660.73" cy="527.71" r="1.2"/><circle cx="657.44" cy="554.65" r="1.2"/><circle cx="660.39" cy="535.27" r="1.2"/><circle cx="659.73" cy="561.28" r="1.2"/><circle cx="662.69" cy="541.7" r="1.2"/><circle cx="665.15" cy="548.51" r="1.2"/><circle cx="659.61" cy="547.96" r="1.2"/><circle cx="663.89" cy="555.06" r="1.2"/><circle cx="659.02" cy="542.66" r="1.2"/><circle cx="666.05" cy="535.69" r="1.2"/><circle cx="660.54" cy="564.87" r="1.2"/><circle cx="660.03" cy="543.95" r="1.2"/><circle cx="664.72" cy="540.12" r="1.2"/><circle cx="665.55" cy="534.91" r="1.2"/><circle cx="657.76" cy="538.01" r="1.2"/><circle cx="665.07" cy="555.61" r="1.2"/><circle cx="664.08" cy="530.2" r="1.2"/><circle cx="661.96" cy="553.03" r="1.2"/><circle cx="664.05" cy="536.33" r="1.2"/><circle cx="660.95" cy="540.05" r="1.2"/><circle cx="656.97" cy="549.52" r="1.2"/><circle cx="663.19" cy="553.53" r="1.2"/><circle cx="657.71" cy="545.04" r="1.2"/><circle cx="665.13" cy="524.84" r="1.2"/><circle cx="658.72" cy="534.59" r="1.2"/><circle cx="663.72" cy="549.5" r="1.2"/><circle cx="657.64" cy="533.52" r="1.2"/><circle cx="665.07" cy="522.04" r="1.2"/><circle cx="665.7" cy="563.42" r="1.2"/><circle cx="664.33" cy="533.5" r="1.2"/><circle cx="657.8" cy="532.21" r="1.2"/><circle cx="658.28" cy="552.26" r="1.2"/><circle cx="659.56" cy="565.23" r="1.2"/><circle cx="666.31" cy="526.9" r="1.2"/><circle cx="658.91" cy="548.04" r="1.2"/><circle cx="659.49" cy="562.2" r="1.2"/><circle cx="659.29" cy="555.48" r="1.2"/><circle cx="661.56" cy="533.4" r="1.2"/><circle cx="657.3" cy="530.94" r="1.2"/><circle cx="660.83" cy="552.89" r="1.2"/><circle cx="666.01" cy="526.78" r="1.2"/><circle cx="662.61" cy="565.31" r="1.2"/><circle cx="658.45" cy="530.15" r="1.2"/><circle cx="659.6" cy="530.98" r="1.2"/><circle cx="662.47" cy="520.31" r="1.2"/><circle cx="665.92" cy="530.28" r="1.2"/><circle cx="665.17" cy="528.3" r="1.2"/><circle cx="658.01" cy="540.84" r="1.2"/><circle cx="664.41" cy="546.33" r="1.2"/><circle cx="659.9" cy="541.81" r="1.2"/><circle cx="662.3" cy="518.56" r="1.2"/><circle cx="661.02" cy="549.12" r="1.2"/><circle cx="657.58" cy="542.8" r="1.2"/><circle cx="664.82" cy="547.78" r="1.2"/><circle cx="661.35" cy="533.83" r="1.2"/><circle cx="661.81" cy="536.18" r="1.2"/><circle cx="659.85" cy="517.06" r="1.2"/><circle cx="663.23" cy="528.12" r="1.2"/><circle cx="663.21" cy="531.04" r="1.2"/><circle cx="664.13" cy="543.64" r="1.2"/><circle cx="658.29" cy="560.3" r="1.2"/><circle cx="663.47" cy="539.94" r="1.2"/><circle cx="656.57" cy="541.47" r="1.2"/><circle cx="661.67" cy="555.88" r="1.2"/><circle cx="662.61" cy="539.28" r="1.2"/><circle cx="662.66" cy="530" r="1.2"/><circle cx="659.77" cy="552.91" r="1.2"/><circle cx="666.62" cy="531.09" r="1.2"/><circle cx="666.95" cy="536.9" r="1.2"/><circle cx="666.77" cy="548.64" r="1.2"/><circle cx="660.16" cy="540.58" r="1.2"/><circle cx="658.61" cy="532.67" r="1.2"/><circle cx="657.79" cy="544.19" r="1.2"/><circle cx="660.13" cy="542.72" r="1.2"/><circle cx="659.77" cy="525.73" r="1.2"/><circle cx="661.86" cy="535.08" r="1.2"/><circle cx="665.47" cy="535.34" r="1.2"/><circle cx="664.85" cy="548.15" r="1.2"/><circle cx="665.72" cy="533.27" r="1.2"/><circle cx="665.44" cy="523.47" r="1.2"/><circle cx="666.78" cy="553.56" r="1.2"/><circle cx="665.24" cy="562.3" r="1.2"/><circle cx="660.38" cy="551.86" r="1.2"/><circle cx="656.83" cy="543.59" r="1.2"/><circle cx="662.33" cy="554.37" r="1.2"/><circle cx="662.49" cy="562.88" r="1.2"/><circle cx="661.28" cy="521.68" r="1.2"/><circle cx="661.88" cy="547.18" r="1.2"/><circle cx="658.72" cy="552.09" r="1.2"/><circle cx="659.6" cy="530.82" r="1.2"/><circle cx="663.62" cy="561.23" r="1.2"/><circle cx="663" cy="525.79" r="1.2"/><circle cx="658.74" cy="535.06" r="1.2"/><circle cx="660.75" cy="539.38" r="1.2"/><circle cx="664.03" cy="544.71" r="1.2"/><circle cx="665.22" cy="530.2" r="1.2"/><circle cx="657.38" cy="549.09" r="1.2"/><circle cx="659.35" cy="537.48" r="1.2"/><circle cx="659.27" cy="548.23" r="1.2"/><circle cx="663.68" cy="545.96" r="1.2"/><circle cx="663.75" cy="522.62" r="1.2"/><circle cx="658.19" cy="528.28" r="1.2"/><circle cx="665.41" cy="553.64" r="1.2"/><circle cx="665.7" cy="552.77" r="1.2"/><circle cx="657.23" cy="541.59" r="1.2"/><circle cx="664.75" cy="543.72" r="1.2"/><circle cx="659.27" cy="535.96" r="1.2"/><circle cx="661.56" cy="546.79" r="1.2"/><circle cx="657.6" cy="555.03" r="1.2"/><circle cx="662.38" cy="531.86" r="1.2"/><circle cx="662.98" cy="544.86" r="1.2"/><circle cx="659.04" cy="533.59" r="1.2"/><circle cx="660.35" cy="553.27" r="1.2"/><circle cx="658.34" cy="523.36" r="1.2"/><circle cx="664.16" cy="538.67" r="1.2"/><circle cx="662.07" cy="538.86" r="1.2"/><circle cx="667.14" cy="537.38" r="1.2"/><circle cx="659.93" cy="561.68" r="1.2"/><circle cx="666.11" cy="533.37" r="1.2"/><circle cx="663.1" cy="548.56" r="1.2"/><circle cx="666.03" cy="556.1" r="1.2"/><circle cx="666.1" cy="537.32" r="1.2"/><circle cx="661.73" cy="520.69" r="1.2"/><circle cx="658.98" cy="550.85" r="1.2"/><circle cx="665.15" cy="522.87" r="1.2"/><circle cx="660.61" cy="569.65" r="1.2"/><circle cx="663.69" cy="538.37" r="1.2"/><circle cx="665.03" cy="549.56" r="1.2"/><circle cx="656.51" cy="539" r="1.2"/><circle cx="661.65" cy="533.73" r="1.2"/><circle cx="661.54" cy="560.72" r="1.2"/><circle cx="659.06" cy="523.93" r="1.2"/><circle cx="663.19" cy="555.34" r="1.2"/><circle cx="661.77" cy="549.24" r="1.2"/><circle cx="659.83" cy="553.44" r="1.2"/><circle cx="664.6" cy="540.52" r="1.2"/><circle cx="661.06" cy="543.55" r="1.2"/><circle cx="660.81" cy="521.76" r="1.2"/><circle cx="662.28" cy="537.81" r="1.2"/><circle cx="663.29" cy="533.45" r="1.2"/><circle cx="661.42" cy="544.02" r="1.2"/><circle cx="666.34" cy="528.06" r="1.2"/><circle cx="657.33" cy="555.08" r="1.2"/><circle cx="662.6" cy="560.09" r="1.2"/><circle cx="658.49" cy="530.94" r="1.2"/><circle cx="663.55" cy="532.64" r="1.2"/><circle cx="657.98" cy="541.37" r="1.2"/><circle cx="665.21" cy="553.13" r="1.2"/><circle cx="666.12" cy="524.17" r="1.2"/><circle cx="662" cy="581.43" r="1.2"/><circle cx="661" cy="578.53" r="1.2"/><circle cx="660" cy="508.33" r="1.2"/><circle cx="662" cy="508.33" r="1.2"/><circle cx="663.5" cy="509.05" r="1.2"/><circle cx="665.5" cy="514.12" r="1.2"/></g>
<line x1="512.6" y1="485.7" x2="682.6" y2="485.7" stroke="#333" stroke-width="1.2"/>
<line x1="512.6" y1="622.9" x2="682.6" y2="622.9" stroke="#8a8a8a" stroke-width="1.6"/>
<line x1="512.6" y1="485.7" x2="512.6" y2="622.9" stroke="#333" stroke-width="1.1"/>
<line x1="682.6" y1="485.7" x2="682.6" y2="622.9" stroke="#333" stroke-width="1.2"/>
<line x1="510.3" y1="611.1" x2="512.6" y2="611.1" stroke="#222" stroke-width="0.9"/>
<text x="506.1" y="614.1" font-size="9.8" text-anchor="end" font-weight="normal" fill="#1a1a1a" color="#1a1a1a" textLength="12.26" lengthAdjust="spacingAndGlyphs">0.8</text>
<line x1="510.3" y1="582.15" x2="512.6" y2="582.15" stroke="#222" stroke-width="0.9"/>
<text x="506.1" y="585.15" font-size="9.8" text-anchor="end" font-weight="normal" fill="#1a1a1a" color="#1a1a1a" textLength="12.26" lengthAdjust="spacingAndGlyphs">1.2</text>
<line x1="510.3" y1="553.2" x2="512.6" y2="553.2" stroke="#222" stroke-width="0.9"/>
<text x="506.1" y="556.2" font-size="9.8" text-anchor="end" font-weight="normal" fill="#1a1a1a" color="#1a1a1a" textLength="12.26" lengthAdjust="spacingAndGlyphs">1.6</text>
<line x1="510.3" y1="524.25" x2="512.6" y2="524.25" stroke="#222" stroke-width="0.9"/>
<text x="506.1" y="527.25" font-size="9.8" text-anchor="end" font-weight="normal" fill="#1a1a1a" color="#1a1a1a" textLength="12.26" lengthAdjust="spacingAndGlyphs">2.0</text>
<line x1="510.3" y1="495.3" x2="512.6" y2="495.3" stroke="#222" stroke-width="0.9"/>
<text x="506.1" y="498.3" font-size="9.8" text-anchor="end" font-weight="normal" fill="#1a1a1a" color="#1a1a1a" textLength="12.26" lengthAdjust="spacingAndGlyphs">2.4</text>
<line x1="511.2" y1="596.62" x2="512.6" y2="596.62" stroke="#222" stroke-width="0.9"/>
<line x1="511.2" y1="567.67" x2="512.6" y2="567.67" stroke="#222" stroke-width="0.9"/>
<line x1="511.2" y1="538.73" x2="512.6" y2="538.73" stroke="#222" stroke-width="0.9"/>
<line x1="511.2" y1="509.77" x2="512.6" y2="509.77" stroke="#222" stroke-width="0.9"/>
<line x1="533.4" y1="622.9" x2="533.4" y2="625.1" stroke="#222" stroke-width="0.9"/>
<line x1="575.9" y1="622.9" x2="575.9" y2="625.1" stroke="#222" stroke-width="0.9"/>
<line x1="618.8" y1="622.9" x2="618.8" y2="625.1" stroke="#222" stroke-width="0.9"/>
<line x1="661.9" y1="622.9" x2="661.9" y2="625.1" stroke="#222" stroke-width="0.9"/>
<text x="515" y="637.3" font-size="9.3" text-anchor="start" font-weight="normal" fill="#222" color="#222" textLength="81.4" lengthAdjust="spacingAndGlyphs">28% rigidity change</text>
<text x="603.5" y="637.3" font-size="9.3" text-anchor="start" font-weight="normal" fill="#222" color="#222" textLength="81.5" lengthAdjust="spacingAndGlyphs">40% rigidity change</text>
<text transform="translate(485.2,560.2) rotate(-90)" x="0" y="2.7" font-size="7.5" text-anchor="middle" fill="#1a1a1a" color="#1a1a1a">FA area (µm<tspan font-size="5.2" dy="-3.1">2</tspan><tspan dy="3.1">)</tspan></text>
<line x1="579.2" y1="495.5" x2="659.6" y2="495.5" stroke="#222" stroke-width="1"/>
<text x="619" y="496.6" font-size="8.6" text-anchor="middle" font-weight="normal" fill="#111" color="#111" textLength="9.8" lengthAdjust="spacingAndGlyphs">***</text>
<text x="628.8" y="503.9" font-size="6.9" text-anchor="start" font-weight="normal" fill="#222" color="#222" textLength="34" lengthAdjust="spacingAndGlyphs">p=1.8E-129</text>
<path d="M517.3,502 H606.6 M517.3,516.7 H606.6 M517.3,502 V516.7 M606.6,502 V516.7" stroke="#555" stroke-width="0.95" stroke-dasharray="3.2 2.6" fill="none"/>
<path d="M517.3,518.6 H606.6 M517.3,533.3 H606.6 M517.3,518.6 V533.3 M606.6,518.6 V533.3" stroke="#555" stroke-width="0.95" stroke-dasharray="3.2 2.6" fill="none"/>
<circle cx="523.3" cy="506.5" r="1.25" fill="#f28a8b"/>
<circle cx="523.3" cy="511.5" r="1.25" fill="#73a5e9"/>
<circle cx="523.3" cy="522.6" r="1.25" fill="#ee3e41"/>
<circle cx="523.3" cy="528.5" r="1.25" fill="#1a69dc"/>
<text x="527.5" y="512.3" font-size="8.8" text-anchor="start" font-weight="normal" fill="#222" color="#222" textLength="75.2" lengthAdjust="spacingAndGlyphs">Experimental data</text>
<text x="527.5" y="528.2" font-size="8.8" text-anchor="start" font-weight="normal" fill="#222" color="#222" textLength="72.7" lengthAdjust="spacingAndGlyphs">Simulation results</text>
<text x="-0.8" y="5.8" font-size="10.8" text-anchor="start" font-weight="bold" fill="#000" color="#000">a</text>
<text x="-0.8" y="278.7" font-size="10.8" text-anchor="start" font-weight="bold" fill="#000" color="#000">b</text>
<text x="232.3" y="278.7" font-size="10.8" text-anchor="start" font-weight="bold" fill="#000" color="#000">c</text>
<text x="470.2" y="278.7" font-size="10.8" text-anchor="start" font-weight="bold" fill="#000" color="#000">d</text>
<text x="-0.6" y="476.8" font-size="10.8" text-anchor="start" font-weight="bold" fill="#000" color="#000">e</text>
<text x="235.8" y="476.8" font-size="10.8" text-anchor="start" font-weight="bold" fill="#000" color="#000">f</text>
<text x="470.2" y="476.8" font-size="10.8" text-anchor="start" font-weight="bold" fill="#000" color="#000">g</text>
</svg></body></html>
